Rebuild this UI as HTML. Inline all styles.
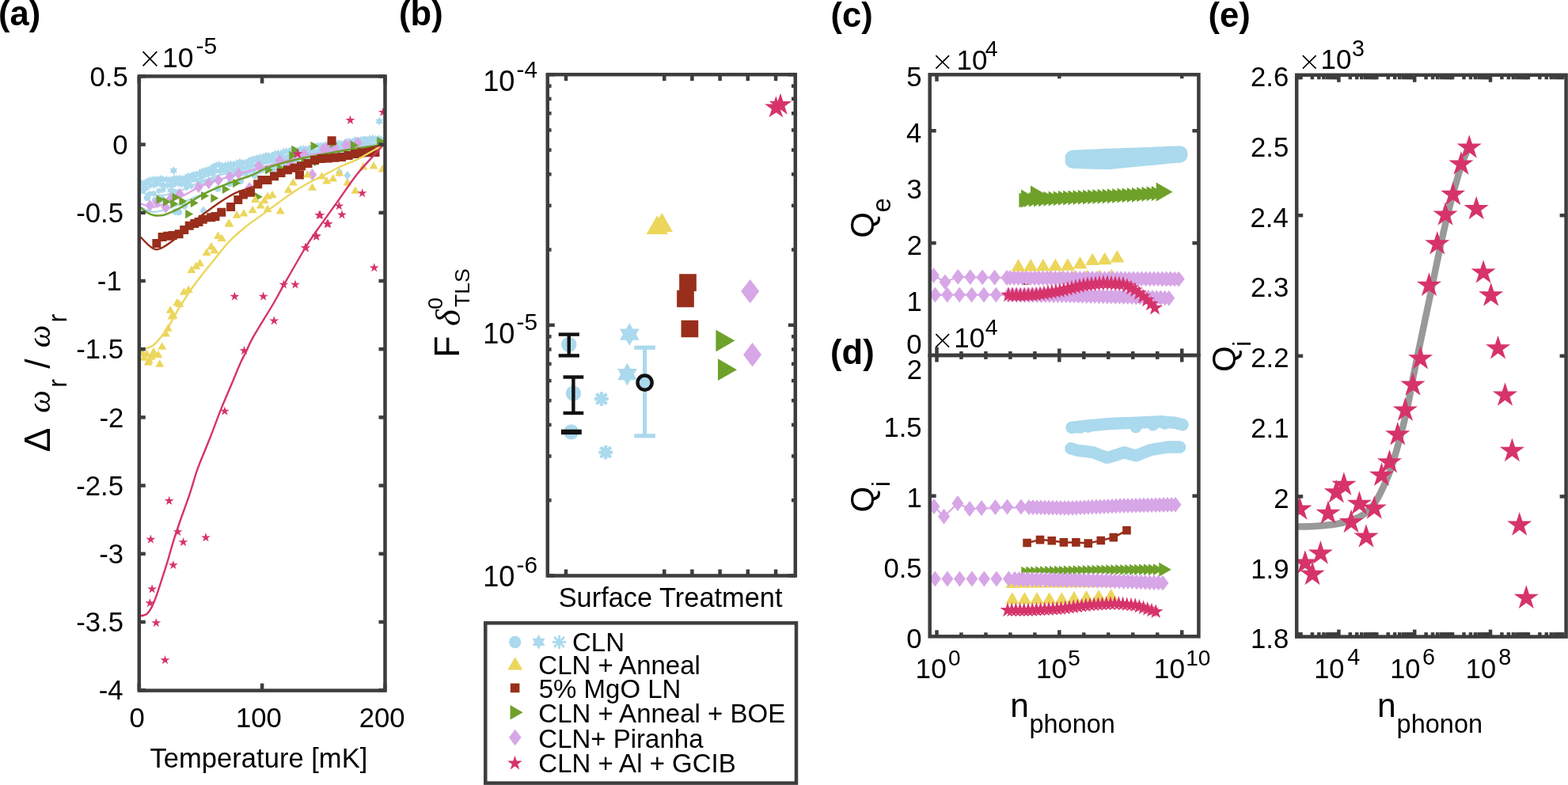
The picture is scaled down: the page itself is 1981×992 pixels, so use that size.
<!DOCTYPE html>
<html><head><meta charset="utf-8"><title>Figure</title>
<style>html,body{margin:0;padding:0;background:#fff;overflow:hidden;}svg{display:block;}</style></head>
<body><svg width="1981" height="992" viewBox="0 0 1981 992" font-family="'Liberation Sans', Arial, Helvetica, sans-serif">
<rect width="1981" height="992" fill="#fff"/>
<defs>
<clipPath id="clipA"><rect x="175.8" y="96.4" width="310.7" height="776.2"/></clipPath>
<clipPath id="clipC"><rect x="1174.7" y="94.3" width="339.7" height="354.7"/></clipPath>
<clipPath id="clipD"><rect x="1174.7" y="449" width="339.7" height="355.3"/></clipPath>
<clipPath id="clipE"><rect x="1638.2" y="94.8" width="340.4" height="709.8"/></clipPath>
</defs>
<g clip-path="url(#clipA)">
<path d="M179,226.52 L180.51,229.13 L183.52,229.13 L182.01,231.74 L183.52,234.36 L180.51,234.35 L179,236.97 L177.49,234.35 L174.48,234.36 L175.99,231.74 L174.48,229.13 L177.49,229.13ZM182.18,226.24 L183.69,228.86 L186.71,228.86 L185.2,231.47 L186.71,234.08 L183.69,234.08 L182.18,236.69 L180.67,234.08 L177.66,234.08 L179.17,231.47 L177.66,228.86 L180.67,228.86ZM185.27,224.94 L186.78,227.55 L189.79,227.55 L188.28,230.16 L189.79,232.78 L186.78,232.77 L185.27,235.39 L183.76,232.77 L180.74,232.78 L182.25,230.16 L180.74,227.55 L183.76,227.55ZM188.71,222.65 L190.21,225.26 L193.23,225.26 L191.72,227.87 L193.23,230.48 L190.21,230.48 L188.71,233.1 L187.2,230.48 L184.18,230.48 L185.69,227.87 L184.18,225.26 L187.2,225.26ZM192.32,221.86 L193.82,224.47 L196.84,224.47 L195.33,227.08 L196.84,229.69 L193.82,229.69 L192.32,232.31 L190.81,229.69 L187.79,229.69 L189.3,227.08 L187.79,224.47 L190.81,224.47ZM195.84,221.46 L197.34,224.08 L200.36,224.08 L198.85,226.69 L200.36,229.3 L197.34,229.3 L195.84,231.91 L194.33,229.3 L191.31,229.3 L192.82,226.69 L191.31,224.08 L194.33,224.08ZM198.94,221.9 L200.45,224.52 L203.47,224.51 L201.96,227.13 L203.47,229.74 L200.45,229.74 L198.94,232.35 L197.44,229.74 L194.42,229.74 L195.93,227.13 L194.42,224.51 L197.44,224.52ZM202.94,220.65 L204.44,223.26 L207.46,223.26 L205.95,225.87 L207.46,228.48 L204.44,228.48 L202.94,231.1 L201.43,228.48 L198.41,228.48 L199.92,225.87 L198.41,223.26 L201.43,223.26ZM206.21,221.57 L207.71,224.18 L210.73,224.18 L209.22,226.79 L210.73,229.4 L207.71,229.4 L206.21,232.02 L204.7,229.4 L201.68,229.4 L203.19,226.79 L201.68,224.18 L204.7,224.18ZM210.34,221.4 L211.85,224.01 L214.87,224.01 L213.36,226.62 L214.87,229.23 L211.85,229.23 L210.34,231.85 L208.83,229.23 L205.82,229.23 L207.33,226.62 L205.82,224.01 L208.83,224.01ZM213.82,222.31 L215.33,224.93 L218.34,224.92 L216.83,227.54 L218.34,230.15 L215.33,230.15 L213.82,232.76 L212.31,230.15 L209.29,230.15 L210.8,227.54 L209.29,224.92 L212.31,224.93ZM216.87,221.99 L218.38,224.61 L221.4,224.61 L219.89,227.22 L221.4,229.83 L218.38,229.83 L216.87,232.44 L215.37,229.83 L212.35,229.83 L213.86,227.22 L212.35,224.61 L215.37,224.61ZM220.22,220.24 L221.73,222.85 L224.75,222.85 L223.24,225.46 L224.75,228.08 L221.73,228.07 L220.22,230.69 L218.71,228.07 L215.7,228.08 L217.21,225.46 L215.7,222.85 L218.71,222.85ZM223.36,220.59 L224.87,223.21 L227.89,223.21 L226.38,225.82 L227.89,228.43 L224.87,228.43 L223.36,231.04 L221.86,228.43 L218.84,228.43 L220.35,225.82 L218.84,223.21 L221.86,223.21ZM227.34,220.24 L228.85,222.85 L231.87,222.85 L230.36,225.47 L231.87,228.08 L228.85,228.08 L227.34,230.69 L225.84,228.08 L222.82,228.08 L224.33,225.47 L222.82,222.85 L225.84,222.85ZM231.04,220.96 L232.55,223.57 L235.57,223.57 L234.06,226.18 L235.57,228.8 L232.55,228.8 L231.04,231.41 L229.53,228.8 L226.52,228.8 L228.03,226.18 L226.52,223.57 L229.53,223.57ZM234.49,219.59 L235.99,222.2 L239.01,222.2 L237.5,224.81 L239.01,227.42 L235.99,227.42 L234.49,230.04 L232.98,227.42 L229.96,227.42 L231.47,224.81 L229.96,222.2 L232.98,222.2ZM237.56,217.38 L239.07,220 L242.09,220 L240.58,222.61 L242.09,225.22 L239.07,225.22 L237.56,227.83 L236.06,225.22 L233.04,225.22 L234.55,222.61 L233.04,220 L236.06,220ZM240.81,217.79 L242.32,220.4 L245.33,220.4 L243.82,223.01 L245.33,225.62 L242.32,225.62 L240.81,228.24 L239.3,225.62 L236.28,225.62 L237.79,223.01 L236.28,220.4 L239.3,220.4ZM244.32,215.73 L245.83,218.34 L248.85,218.34 L247.34,220.96 L248.85,223.57 L245.83,223.57 L244.32,226.18 L242.82,223.57 L239.8,223.57 L241.31,220.96 L239.8,218.34 L242.82,218.34ZM248.03,214.82 L249.53,217.44 L252.55,217.44 L251.04,220.05 L252.55,222.66 L249.53,222.66 L248.03,225.27 L246.52,222.66 L243.5,222.66 L245.01,220.05 L243.5,217.44 L246.52,217.44ZM251.39,214.38 L252.89,217 L255.91,217 L254.4,219.61 L255.91,222.22 L252.89,222.22 L251.39,224.83 L249.88,222.22 L246.86,222.22 L248.37,219.61 L246.86,217 L249.88,217ZM255.22,211.41 L256.73,214.02 L259.75,214.02 L258.24,216.63 L259.75,219.24 L256.73,219.24 L255.22,221.86 L253.72,219.24 L250.7,219.24 L252.21,216.63 L250.7,214.02 L253.72,214.02ZM258.91,210.49 L260.42,213.1 L263.44,213.1 L261.93,215.71 L263.44,218.32 L260.42,218.32 L258.91,220.94 L257.41,218.32 L254.39,218.32 L255.9,215.71 L254.39,213.1 L257.41,213.1ZM262.96,209.23 L264.47,211.84 L267.49,211.84 L265.98,214.45 L267.49,217.07 L264.47,217.06 L262.96,219.68 L261.46,217.06 L258.44,217.07 L259.95,214.45 L258.44,211.84 L261.46,211.84ZM266.31,208.38 L267.82,211 L270.83,211 L269.32,213.61 L270.83,216.22 L267.82,216.22 L266.31,218.83 L264.8,216.22 L261.78,216.22 L263.29,213.61 L261.78,211 L264.8,211ZM269.45,205.68 L270.96,208.29 L273.98,208.29 L272.47,210.9 L273.98,213.52 L270.96,213.52 L269.45,216.13 L267.94,213.52 L264.93,213.52 L266.44,210.9 L264.93,208.29 L267.94,208.29ZM273.36,203.75 L274.87,206.37 L277.88,206.36 L276.37,208.98 L277.88,211.59 L274.87,211.59 L273.36,214.2 L271.85,211.59 L268.83,211.59 L270.34,208.98 L268.83,206.36 L271.85,206.37ZM276.95,202.98 L278.45,205.6 L281.47,205.59 L279.96,208.21 L281.47,210.82 L278.45,210.82 L276.95,213.43 L275.44,210.82 L272.42,210.82 L273.93,208.21 L272.42,205.59 L275.44,205.6ZM280.75,204.19 L282.26,206.81 L285.27,206.81 L283.76,209.42 L285.27,212.03 L282.26,212.03 L280.75,214.64 L279.24,212.03 L276.22,212.03 L277.73,209.42 L276.22,206.81 L279.24,206.81ZM284.44,203.95 L285.94,206.56 L288.96,206.56 L287.45,209.17 L288.96,211.79 L285.94,211.78 L284.44,214.4 L282.93,211.78 L279.91,211.79 L281.42,209.17 L279.91,206.56 L282.93,206.56ZM287.81,203.05 L289.32,205.66 L292.34,205.66 L290.83,208.27 L292.34,210.89 L289.32,210.88 L287.81,213.5 L286.3,210.88 L283.29,210.89 L284.8,208.27 L283.29,205.66 L286.3,205.66ZM291.53,202.28 L293.03,204.89 L296.05,204.89 L294.54,207.5 L296.05,210.11 L293.03,210.11 L291.53,212.73 L290.02,210.11 L287,210.11 L288.51,207.5 L287,204.89 L290.02,204.89ZM295.07,202.46 L296.58,205.07 L299.6,205.07 L298.09,207.68 L299.6,210.29 L296.58,210.29 L295.07,212.91 L293.57,210.29 L290.55,210.29 L292.06,207.68 L290.55,205.07 L293.57,205.07ZM299.21,201.06 L300.71,203.68 L303.73,203.67 L302.22,206.29 L303.73,208.9 L300.71,208.9 L299.21,211.51 L297.7,208.9 L294.68,208.9 L296.19,206.29 L294.68,203.67 L297.7,203.68ZM303,199.6 L304.51,202.21 L307.53,202.21 L306.02,204.82 L307.53,207.43 L304.51,207.43 L303,210.05 L301.5,207.43 L298.48,207.43 L299.99,204.82 L298.48,202.21 L301.5,202.21ZM306.85,200.52 L308.35,203.14 L311.37,203.13 L309.86,205.75 L311.37,208.36 L308.35,208.36 L306.85,210.97 L305.34,208.36 L302.32,208.36 L303.83,205.75 L302.32,203.13 L305.34,203.14ZM311.04,200.26 L312.54,202.87 L315.56,202.87 L314.05,205.48 L315.56,208.09 L312.54,208.09 L311.04,210.71 L309.53,208.09 L306.51,208.09 L308.02,205.48 L306.51,202.87 L309.53,202.87ZM314.38,198.27 L315.89,200.89 L318.9,200.89 L317.39,203.5 L318.9,206.11 L315.89,206.11 L314.38,208.72 L312.87,206.11 L309.85,206.11 L311.36,203.5 L309.85,200.89 L312.87,200.89ZM318.18,196.34 L319.69,198.95 L322.71,198.95 L321.2,201.56 L322.71,204.18 L319.69,204.17 L318.18,206.79 L316.67,204.17 L313.66,204.18 L315.17,201.56 L313.66,198.95 L316.67,198.95ZM321.73,195.69 L323.24,198.31 L326.26,198.31 L324.75,200.92 L326.26,203.53 L323.24,203.53 L321.73,206.14 L320.23,203.53 L317.21,203.53 L318.72,200.92 L317.21,198.31 L320.23,198.31ZM324.88,194.55 L326.38,197.17 L329.4,197.16 L327.89,199.78 L329.4,202.39 L326.38,202.39 L324.88,205 L323.37,202.39 L320.35,202.39 L321.86,199.78 L320.35,197.16 L323.37,197.17ZM328.8,193.62 L330.3,196.24 L333.32,196.23 L331.81,198.85 L333.32,201.46 L330.3,201.46 L328.8,204.07 L327.29,201.46 L324.27,201.46 L325.78,198.85 L324.27,196.23 L327.29,196.24ZM332.09,193.33 L333.6,195.94 L336.62,195.94 L335.11,198.55 L336.62,201.16 L333.6,201.16 L332.09,203.78 L330.59,201.16 L327.57,201.16 L329.08,198.55 L327.57,195.94 L330.59,195.94ZM336.14,191.5 L337.65,194.11 L340.66,194.11 L339.15,196.72 L340.66,199.33 L337.65,199.33 L336.14,201.95 L334.63,199.33 L331.61,199.33 L333.13,196.72 L331.61,194.11 L334.63,194.11ZM339.68,191.78 L341.19,194.39 L344.2,194.39 L342.69,197 L344.2,199.62 L341.19,199.62 L339.68,202.23 L338.17,199.62 L335.15,199.62 L336.66,197 L335.15,194.39 L338.17,194.39ZM343.74,191.46 L345.25,194.07 L348.26,194.07 L346.75,196.69 L348.26,199.3 L345.25,199.3 L343.74,201.91 L342.23,199.3 L339.21,199.3 L340.72,196.69 L339.21,194.07 L342.23,194.07ZM347.78,189.2 L349.28,191.82 L352.3,191.81 L350.79,194.43 L352.3,197.04 L349.28,197.04 L347.78,199.65 L346.27,197.04 L343.25,197.04 L344.76,194.43 L343.25,191.81 L346.27,191.82ZM351.27,188.56 L352.78,191.18 L355.8,191.17 L354.29,193.79 L355.8,196.4 L352.78,196.4 L351.27,199.01 L349.77,196.4 L346.75,196.4 L348.26,193.79 L346.75,191.17 L349.77,191.18ZM355.34,189.03 L356.84,191.65 L359.86,191.64 L358.35,194.26 L359.86,196.87 L356.84,196.87 L355.34,199.48 L353.83,196.87 L350.81,196.87 L352.32,194.26 L350.81,191.64 L353.83,191.65ZM358.52,186.51 L360.02,189.13 L363.04,189.13 L361.53,191.74 L363.04,194.35 L360.02,194.35 L358.52,196.96 L357.01,194.35 L353.99,194.35 L355.5,191.74 L353.99,189.13 L357.01,189.13ZM361.79,186.02 L363.3,188.63 L366.32,188.63 L364.81,191.25 L366.32,193.86 L363.3,193.86 L361.79,196.47 L360.29,193.86 L357.27,193.86 L358.78,191.25 L357.27,188.63 L360.29,188.63ZM365.38,186.19 L366.88,188.8 L369.9,188.8 L368.39,191.41 L369.9,194.02 L366.88,194.02 L365.38,196.64 L363.87,194.02 L360.85,194.02 L362.36,191.41 L360.85,188.8 L363.87,188.8ZM368.69,184.14 L370.2,186.76 L373.22,186.76 L371.71,189.37 L373.22,191.98 L370.2,191.98 L368.69,194.59 L367.18,191.98 L364.17,191.98 L365.68,189.37 L364.17,186.76 L367.18,186.76ZM372.19,184.35 L373.7,186.96 L376.72,186.96 L375.21,189.57 L376.72,192.18 L373.7,192.18 L372.19,194.8 L370.69,192.18 L367.67,192.18 L369.18,189.57 L367.67,186.96 L370.69,186.96ZM375.87,185.04 L377.38,187.65 L380.4,187.65 L378.89,190.27 L380.4,192.88 L377.38,192.88 L375.87,195.49 L374.37,192.88 L371.35,192.88 L372.86,190.27 L371.35,187.65 L374.37,187.65ZM379.7,183.25 L381.21,185.87 L384.23,185.87 L382.72,188.48 L384.23,191.09 L381.21,191.09 L379.7,193.7 L378.2,191.09 L375.18,191.09 L376.69,188.48 L375.18,185.87 L378.2,185.87ZM383.44,183.01 L384.95,185.62 L387.97,185.62 L386.46,188.24 L387.97,190.85 L384.95,190.85 L383.44,193.46 L381.94,190.85 L378.92,190.85 L380.43,188.24 L378.92,185.62 L381.94,185.62ZM386.51,183.15 L388.02,185.76 L391.03,185.76 L389.52,188.37 L391.03,190.99 L388.02,190.99 L386.51,193.6 L385,190.99 L381.98,190.99 L383.49,188.37 L381.98,185.76 L385,185.76ZM390.44,182.58 L391.95,185.19 L394.97,185.19 L393.46,187.8 L394.97,190.42 L391.95,190.42 L390.44,193.03 L388.94,190.42 L385.92,190.42 L387.43,187.8 L385.92,185.19 L388.94,185.19ZM394.4,180.91 L395.91,183.52 L398.93,183.52 L397.42,186.13 L398.93,188.75 L395.91,188.74 L394.4,191.36 L392.89,188.74 L389.88,188.75 L391.39,186.13 L389.88,183.52 L392.89,183.52ZM397.88,179.76 L399.39,182.38 L402.41,182.38 L400.9,184.99 L402.41,187.6 L399.39,187.6 L397.88,190.21 L396.37,187.6 L393.36,187.6 L394.87,184.99 L393.36,182.38 L396.37,182.38ZM401.64,179.18 L403.15,181.79 L406.17,181.79 L404.66,184.4 L406.17,187.02 L403.15,187.01 L401.64,189.63 L400.13,187.01 L397.12,187.02 L398.63,184.4 L397.12,181.79 L400.13,181.79ZM404.72,179.13 L406.23,181.74 L409.25,181.74 L407.74,184.36 L409.25,186.97 L406.23,186.97 L404.72,189.58 L403.22,186.97 L400.2,186.97 L401.71,184.36 L400.2,181.74 L403.22,181.74ZM407.92,179.03 L409.43,181.65 L412.44,181.64 L410.93,184.26 L412.44,186.87 L409.43,186.87 L407.92,189.48 L406.41,186.87 L403.39,186.87 L404.9,184.26 L403.39,181.64 L406.41,181.65ZM410.98,177.77 L412.49,180.38 L415.51,180.38 L414,183 L415.51,185.61 L412.49,185.61 L410.98,188.22 L409.47,185.61 L406.46,185.61 L407.97,183 L406.46,180.38 L409.47,180.38ZM414.16,177.52 L415.67,180.14 L418.69,180.14 L417.18,182.75 L418.69,185.36 L415.67,185.36 L414.16,187.97 L412.65,185.36 L409.64,185.36 L411.15,182.75 L409.64,180.14 L412.65,180.14ZM417.6,176.81 L419.11,179.43 L422.12,179.43 L420.61,182.04 L422.12,184.65 L419.11,184.65 L417.6,187.26 L416.09,184.65 L413.07,184.65 L414.58,182.04 L413.07,179.43 L416.09,179.43ZM421.65,177.6 L423.16,180.22 L426.17,180.22 L424.66,182.83 L426.17,185.44 L423.16,185.44 L421.65,188.05 L420.14,185.44 L417.12,185.44 L418.63,182.83 L417.12,180.22 L420.14,180.22ZM424.83,176.25 L426.33,178.86 L429.35,178.86 L427.84,181.47 L429.35,184.08 L426.33,184.08 L424.83,186.7 L423.32,184.08 L420.3,184.08 L421.81,181.47 L420.3,178.86 L423.32,178.86ZM428.24,175.99 L429.75,178.6 L432.77,178.6 L431.26,181.21 L432.77,183.83 L429.75,183.82 L428.24,186.44 L426.74,183.82 L423.72,183.83 L425.23,181.21 L423.72,178.6 L426.74,178.6ZM431.39,176.67 L432.9,179.28 L435.92,179.28 L434.41,181.89 L435.92,184.51 L432.9,184.5 L431.39,187.12 L429.88,184.5 L426.87,184.51 L428.38,181.89 L426.87,179.28 L429.88,179.28ZM435.58,175.09 L437.09,177.71 L440.11,177.71 L438.6,180.32 L440.11,182.93 L437.09,182.93 L435.58,185.54 L434.07,182.93 L431.06,182.93 L432.57,180.32 L431.06,177.71 L434.07,177.71ZM439.16,173.56 L440.67,176.17 L443.69,176.17 L442.18,178.79 L443.69,181.4 L440.67,181.4 L439.16,184.01 L437.66,181.4 L434.64,181.4 L436.15,178.79 L434.64,176.17 L437.66,176.17ZM442.29,173.64 L443.79,176.25 L446.81,176.25 L445.3,178.86 L446.81,181.47 L443.79,181.47 L442.29,184.09 L440.78,181.47 L437.76,181.47 L439.27,178.86 L437.76,176.25 L440.78,176.25ZM445.6,174.23 L447.11,176.84 L450.13,176.84 L448.62,179.45 L450.13,182.07 L447.11,182.07 L445.6,184.68 L444.1,182.07 L441.08,182.07 L442.59,179.45 L441.08,176.84 L444.1,176.84ZM448.8,171.74 L450.3,174.36 L453.32,174.36 L451.81,176.97 L453.32,179.58 L450.3,179.58 L448.8,182.19 L447.29,179.58 L444.27,179.58 L445.78,176.97 L444.27,174.36 L447.29,174.36ZM452.94,172.24 L454.45,174.85 L457.46,174.85 L455.95,177.46 L457.46,180.08 L454.45,180.07 L452.94,182.69 L451.43,180.07 L448.41,180.08 L449.92,177.46 L448.41,174.85 L451.43,174.85ZM456.11,171.72 L457.62,174.34 L460.64,174.34 L459.13,176.95 L460.64,179.56 L457.62,179.56 L456.11,182.17 L454.61,179.56 L451.59,179.56 L453.1,176.95 L451.59,174.34 L454.61,174.34ZM459.15,171.16 L460.65,173.78 L463.67,173.78 L462.16,176.39 L463.67,179 L460.65,179 L459.15,181.61 L457.64,179 L454.62,179 L456.13,176.39 L454.62,173.78 L457.64,173.78ZM463.32,171.59 L464.83,174.21 L467.85,174.21 L466.34,176.82 L467.85,179.43 L464.83,179.43 L463.32,182.04 L461.81,179.43 L458.8,179.43 L460.31,176.82 L458.8,174.21 L461.81,174.21ZM467.16,170.06 L468.66,172.68 L471.68,172.67 L470.17,175.29 L471.68,177.9 L468.66,177.9 L467.16,180.51 L465.65,177.9 L462.63,177.9 L464.14,175.29 L462.63,172.67 L465.65,172.68ZM470.6,169.76 L472.1,172.37 L475.12,172.37 L473.61,174.98 L475.12,177.6 L472.1,177.59 L470.6,180.21 L469.09,177.59 L466.07,177.6 L467.58,174.98 L466.07,172.37 L469.09,172.37ZM474.52,170.55 L476.03,173.16 L479.05,173.16 L477.54,175.77 L479.05,178.38 L476.03,178.38 L474.52,181 L473.01,178.38 L470,178.38 L471.51,175.77 L470,173.16 L473.01,173.16ZM478.46,169.97 L479.96,172.58 L482.98,172.58 L481.47,175.19 L482.98,177.81 L479.96,177.81 L478.46,180.42 L476.95,177.81 L473.93,177.81 L475.44,175.19 L473.93,172.58 L476.95,172.58ZM481.72,171.05 L483.23,173.67 L486.25,173.66 L484.74,176.28 L486.25,178.89 L483.23,178.89 L481.72,181.5 L480.22,178.89 L477.2,178.89 L478.71,176.28 L477.2,173.66 L480.22,173.67Z" fill="#abd9ed"/>
<path d="M180,234.44 L181.43,236.92 L184.29,236.92 L182.86,239.39 L184.29,241.87 L181.43,241.86 L180,244.34 L178.57,241.86 L175.71,241.87 L177.14,239.39 L175.71,236.92 L178.57,236.92ZM185.11,232.63 L186.54,235.11 L189.4,235.11 L187.97,237.58 L189.4,240.06 L186.54,240.06 L185.11,242.53 L183.68,240.06 L180.83,240.06 L182.26,237.58 L180.83,235.11 L183.68,235.11ZM190.09,229.22 L191.52,231.69 L194.38,231.69 L192.95,234.17 L194.38,236.64 L191.52,236.64 L190.09,239.12 L188.66,236.64 L185.81,236.64 L187.24,234.17 L185.81,231.69 L188.66,231.69ZM194.63,229 L196.06,231.48 L198.91,231.47 L197.48,233.95 L198.91,236.42 L196.06,236.42 L194.63,238.9 L193.2,236.42 L190.34,236.42 L191.77,233.95 L190.34,231.47 L193.2,231.48ZM198.19,227.54 L199.61,230.02 L202.47,230.02 L201.04,232.49 L202.47,234.97 L199.61,234.97 L198.19,237.44 L196.76,234.97 L193.9,234.97 L195.33,232.49 L193.9,230.02 L196.76,230.02ZM202.24,227.69 L203.67,230.17 L206.53,230.17 L205.1,232.64 L206.53,235.12 L203.67,235.12 L202.24,237.59 L200.82,235.12 L197.96,235.12 L199.39,232.64 L197.96,230.17 L200.82,230.17ZM207.13,229.39 L208.56,231.87 L211.42,231.87 L209.99,234.34 L211.42,236.82 L208.56,236.82 L207.13,239.29 L205.7,236.82 L202.84,236.82 L204.27,234.34 L202.84,231.87 L205.7,231.87ZM211.52,229.28 L212.95,231.76 L215.81,231.76 L214.38,234.23 L215.81,236.71 L212.95,236.71 L211.52,239.18 L210.1,236.71 L207.24,236.71 L208.67,234.23 L207.24,231.76 L210.1,231.76ZM217,229.27 L218.43,231.75 L221.29,231.75 L219.86,234.22 L221.29,236.7 L218.43,236.69 L217,239.17 L215.57,236.69 L212.71,236.7 L214.14,234.22 L212.71,231.75 L215.57,231.75ZM221.23,227.02 L222.66,229.49 L225.52,229.49 L224.08,231.97 L225.52,234.44 L222.66,234.44 L221.23,236.92 L219.8,234.44 L216.94,234.44 L218.37,231.97 L216.94,229.49 L219.8,229.49ZM225.18,226.9 L226.61,229.37 L229.47,229.37 L228.04,231.85 L229.47,234.32 L226.61,234.32 L225.18,236.8 L223.75,234.32 L220.9,234.32 L222.33,231.85 L220.9,229.37 L223.75,229.37ZM229.09,228.13 L230.52,230.61 L233.38,230.61 L231.95,233.08 L233.38,235.56 L230.52,235.56 L229.09,238.03 L227.66,235.56 L224.8,235.56 L226.24,233.08 L224.8,230.61 L227.66,230.61ZM234.39,227.3 L235.82,229.78 L238.68,229.78 L237.25,232.25 L238.68,234.73 L235.82,234.72 L234.39,237.2 L232.96,234.72 L230.11,234.73 L231.54,232.25 L230.11,229.78 L232.96,229.78ZM238.85,225.24 L240.28,227.72 L243.14,227.72 L241.71,230.19 L243.14,232.67 L240.28,232.67 L238.85,235.14 L237.42,232.67 L234.56,232.67 L235.99,230.19 L234.56,227.72 L237.42,227.72ZM243.95,221.83 L245.38,224.31 L248.24,224.31 L246.81,226.78 L248.24,229.26 L245.38,229.25 L243.95,231.73 L242.52,229.25 L239.66,229.26 L241.09,226.78 L239.66,224.31 L242.52,224.31ZM248.77,222.69 L250.2,225.17 L253.06,225.17 L251.63,227.64 L253.06,230.12 L250.2,230.11 L248.77,232.59 L247.34,230.11 L244.48,230.12 L245.92,227.64 L244.48,225.17 L247.34,225.17ZM253.84,220.14 L255.26,222.62 L258.12,222.62 L256.69,225.09 L258.12,227.57 L255.26,227.57 L253.84,230.04 L252.41,227.57 L249.55,227.57 L250.98,225.09 L249.55,222.62 L252.41,222.62ZM258.29,216.5 L259.72,218.98 L262.58,218.98 L261.15,221.45 L262.58,223.93 L259.72,223.93 L258.29,226.4 L256.86,223.93 L254.01,223.93 L255.44,221.45 L254.01,218.98 L256.86,218.98ZM263.37,214.77 L264.8,217.25 L267.66,217.25 L266.23,219.72 L267.66,222.2 L264.8,222.2 L263.37,224.67 L261.94,222.2 L259.08,222.2 L260.51,219.72 L259.08,217.25 L261.94,217.25ZM268.47,214.49 L269.9,216.96 L272.76,216.96 L271.33,219.44 L272.76,221.91 L269.9,221.91 L268.47,224.39 L267.04,221.91 L264.19,221.91 L265.62,219.44 L264.19,216.96 L267.04,216.96ZM272.76,211.15 L274.19,213.62 L277.05,213.62 L275.62,216.1 L277.05,218.57 L274.19,218.57 L272.76,221.05 L271.34,218.57 L268.48,218.57 L269.91,216.1 L268.48,213.62 L271.34,213.62ZM278.16,211.37 L279.59,213.85 L282.44,213.84 L281.01,216.32 L282.44,218.79 L279.59,218.79 L278.16,221.27 L276.73,218.79 L273.87,218.79 L275.3,216.32 L273.87,213.84 L276.73,213.85ZM282,209.04 L283.43,211.52 L286.28,211.52 L284.85,213.99 L286.28,216.47 L283.43,216.47 L282,218.94 L280.57,216.47 L277.71,216.47 L279.14,213.99 L277.71,211.52 L280.57,211.52ZM285.8,210.85 L287.23,213.32 L290.09,213.32 L288.66,215.8 L290.09,218.27 L287.23,218.27 L285.8,220.75 L284.37,218.27 L281.51,218.27 L282.94,215.8 L281.51,213.32 L284.37,213.32ZM290.91,207.87 L292.34,210.35 L295.2,210.35 L293.77,212.82 L295.2,215.3 L292.34,215.3 L290.91,217.77 L289.48,215.3 L286.63,215.3 L288.06,212.82 L286.63,210.35 L289.48,210.35ZM296.07,209.73 L297.49,212.21 L300.35,212.21 L298.92,214.68 L300.35,217.16 L297.49,217.16 L296.07,219.63 L294.64,217.16 L291.78,217.16 L293.21,214.68 L291.78,212.21 L294.64,212.21ZM300.88,207.24 L302.31,209.72 L305.17,209.72 L303.74,212.19 L305.17,214.67 L302.31,214.66 L300.88,217.14 L299.45,214.66 L296.59,214.67 L298.02,212.19 L296.59,209.72 L299.45,209.72ZM305.48,206.01 L306.91,208.48 L309.76,208.48 L308.33,210.96 L309.76,213.43 L306.91,213.43 L305.48,215.91 L304.05,213.43 L301.19,213.43 L302.62,210.96 L301.19,208.48 L304.05,208.48ZM309.01,208.09 L310.43,210.56 L313.29,210.56 L311.86,213.04 L313.29,215.51 L310.43,215.51 L309.01,217.99 L307.58,215.51 L304.72,215.51 L306.15,213.04 L304.72,210.56 L307.58,210.56ZM313.81,205.56 L315.23,208.04 L318.09,208.04 L316.66,210.51 L318.09,212.99 L315.23,212.99 L313.81,215.46 L312.38,212.99 L309.52,212.99 L310.95,210.51 L309.52,208.04 L312.38,208.04ZM319.17,203.78 L320.6,206.26 L323.46,206.26 L322.03,208.73 L323.46,211.21 L320.6,211.21 L319.17,213.68 L317.74,211.21 L314.89,211.21 L316.32,208.73 L314.89,206.26 L317.74,206.26ZM324.42,203.49 L325.84,205.97 L328.7,205.97 L327.27,208.44 L328.7,210.92 L325.84,210.92 L324.42,213.39 L322.99,210.92 L320.13,210.92 L321.56,208.44 L320.13,205.97 L322.99,205.97ZM328.34,200.67 L329.77,203.15 L332.62,203.15 L331.19,205.62 L332.62,208.1 L329.77,208.09 L328.34,210.57 L326.91,208.09 L324.05,208.1 L325.48,205.62 L324.05,203.15 L326.91,203.15ZM332.42,199.49 L333.85,201.97 L336.71,201.97 L335.28,204.44 L336.71,206.92 L333.85,206.92 L332.42,209.39 L331,206.92 L328.14,206.92 L329.57,204.44 L328.14,201.97 L331,201.97ZM337.1,198.33 L338.52,200.81 L341.38,200.8 L339.95,203.28 L341.38,205.75 L338.52,205.75 L337.1,208.23 L335.67,205.75 L332.81,205.75 L334.24,203.28 L332.81,200.8 L335.67,200.81ZM341.43,196.91 L342.86,199.39 L345.72,199.39 L344.29,201.86 L345.72,204.34 L342.86,204.33 L341.43,206.81 L340.01,204.33 L337.15,204.34 L338.58,201.86 L337.15,199.39 L340.01,199.39ZM346.75,196.31 L348.18,198.79 L351.04,198.79 L349.61,201.26 L351.04,203.74 L348.18,203.74 L346.75,206.21 L345.33,203.74 L342.47,203.74 L343.9,201.26 L342.47,198.79 L345.33,198.79ZM351.17,195.95 L352.6,198.43 L355.46,198.42 L354.03,200.9 L355.46,203.37 L352.6,203.37 L351.17,205.85 L349.74,203.37 L346.88,203.37 L348.32,200.9 L346.88,198.42 L349.74,198.43ZM356.48,194.22 L357.91,196.7 L360.77,196.69 L359.34,199.17 L360.77,201.64 L357.91,201.64 L356.48,204.12 L355.05,201.64 L352.19,201.64 L353.62,199.17 L352.19,196.69 L355.05,196.7ZM361.82,193.44 L363.24,195.91 L366.1,195.91 L364.67,198.39 L366.1,200.86 L363.24,200.86 L361.82,203.34 L360.39,200.86 L357.53,200.86 L358.96,198.39 L357.53,195.91 L360.39,195.91ZM366.38,192.62 L367.81,195.1 L370.67,195.1 L369.24,197.57 L370.67,200.05 L367.81,200.05 L366.38,202.52 L364.95,200.05 L362.09,200.05 L363.52,197.57 L362.09,195.1 L364.95,195.1ZM369.92,191.69 L371.34,194.17 L374.2,194.17 L372.77,196.64 L374.2,199.12 L371.34,199.12 L369.92,201.59 L368.49,199.12 L365.63,199.12 L367.06,196.64 L365.63,194.17 L368.49,194.17ZM373.78,189.64 L375.21,192.12 L378.07,192.12 L376.64,194.59 L378.07,197.07 L375.21,197.07 L373.78,199.54 L372.35,197.07 L369.5,197.07 L370.93,194.59 L369.5,192.12 L372.35,192.12ZM378.88,189.17 L380.31,191.64 L383.17,191.64 L381.74,194.12 L383.17,196.59 L380.31,196.59 L378.88,199.07 L377.45,196.59 L374.59,196.59 L376.02,194.12 L374.59,191.64 L377.45,191.64ZM383.33,190.05 L384.76,192.53 L387.61,192.53 L386.18,195 L387.61,197.48 L384.76,197.48 L383.33,199.95 L381.9,197.48 L379.04,197.48 L380.47,195 L379.04,192.53 L381.9,192.53ZM387.94,188.26 L389.37,190.73 L392.23,190.73 L390.8,193.21 L392.23,195.68 L389.37,195.68 L387.94,198.16 L386.51,195.68 L383.65,195.68 L385.08,193.21 L383.65,190.73 L386.51,190.73ZM392.48,188.36 L393.91,190.83 L396.76,190.83 L395.33,193.31 L396.76,195.78 L393.91,195.78 L392.48,198.26 L391.05,195.78 L388.19,195.78 L389.62,193.31 L388.19,190.83 L391.05,190.83ZM397.55,186.35 L398.97,188.83 L401.83,188.83 L400.4,191.3 L401.83,193.78 L398.97,193.78 L397.55,196.25 L396.12,193.78 L393.26,193.78 L394.69,191.3 L393.26,188.83 L396.12,188.83ZM402.17,186.18 L403.59,188.66 L406.45,188.66 L405.02,191.13 L406.45,193.61 L403.59,193.6 L402.17,196.08 L400.74,193.6 L397.88,193.61 L399.31,191.13 L397.88,188.66 L400.74,188.66ZM406.22,187.23 L407.65,189.7 L410.51,189.7 L409.08,192.18 L410.51,194.65 L407.65,194.65 L406.22,197.13 L404.79,194.65 L401.93,194.65 L403.36,192.18 L401.93,189.7 L404.79,189.7ZM410.74,185.97 L412.16,188.44 L415.02,188.44 L413.59,190.92 L415.02,193.39 L412.16,193.39 L410.74,195.87 L409.31,193.39 L406.45,193.39 L407.88,190.92 L406.45,188.44 L409.31,188.44ZM415.76,186.25 L417.18,188.72 L420.04,188.72 L418.61,191.2 L420.04,193.67 L417.18,193.67 L415.76,196.15 L414.33,193.67 L411.47,193.67 L412.9,191.2 L411.47,188.72 L414.33,188.72ZM420.14,184.67 L421.57,187.15 L424.43,187.15 L423,189.62 L424.43,192.1 L421.57,192.1 L420.14,194.57 L418.71,192.1 L415.86,192.1 L417.29,189.62 L415.86,187.15 L418.71,187.15ZM424.65,183.68 L426.08,186.15 L428.94,186.15 L427.51,188.63 L428.94,191.1 L426.08,191.1 L424.65,193.58 L423.23,191.1 L420.37,191.1 L421.8,188.63 L420.37,186.15 L423.23,186.15ZM429.54,182.75 L430.97,185.22 L433.83,185.22 L432.4,187.7 L433.83,190.17 L430.97,190.17 L429.54,192.65 L428.11,190.17 L425.25,190.17 L426.68,187.7 L425.25,185.22 L428.11,185.22ZM434.11,182.12 L435.53,184.6 L438.39,184.6 L436.96,187.07 L438.39,189.55 L435.53,189.55 L434.11,192.02 L432.68,189.55 L429.82,189.55 L431.25,187.07 L429.82,184.6 L432.68,184.6ZM439.49,181.87 L440.92,184.35 L443.78,184.35 L442.34,186.82 L443.78,189.3 L440.92,189.29 L439.49,191.77 L438.06,189.29 L435.2,189.3 L436.63,186.82 L435.2,184.35 L438.06,184.35ZM444.74,181.69 L446.17,184.17 L449.03,184.17 L447.6,186.64 L449.03,189.12 L446.17,189.11 L444.74,191.59 L443.31,189.11 L440.45,189.12 L441.89,186.64 L440.45,184.17 L443.31,184.17ZM448.76,179.85 L450.19,182.32 L453.05,182.32 L451.62,184.8 L453.05,187.27 L450.19,187.27 L448.76,189.75 L447.33,187.27 L444.47,187.27 L445.9,184.8 L444.47,182.32 L447.33,182.32ZM454.15,179.76 L455.58,182.23 L458.43,182.23 L457,184.71 L458.43,187.18 L455.58,187.18 L454.15,189.66 L452.72,187.18 L449.86,187.18 L451.29,184.71 L449.86,182.23 L452.72,182.23ZM457.92,176.95 L459.35,179.42 L462.21,179.42 L460.78,181.9 L462.21,184.37 L459.35,184.37 L457.92,186.85 L456.49,184.37 L453.63,184.37 L455.07,181.9 L453.63,179.42 L456.49,179.42ZM462.31,176.24 L463.73,178.71 L466.59,178.71 L465.16,181.19 L466.59,183.66 L463.73,183.66 L462.31,186.14 L460.88,183.66 L458.02,183.66 L459.45,181.19 L458.02,178.71 L460.88,178.71ZM466.29,176.15 L467.72,178.63 L470.57,178.62 L469.14,181.1 L470.57,183.57 L467.72,183.57 L466.29,186.05 L464.86,183.57 L462,183.57 L463.43,181.1 L462,178.62 L464.86,178.63ZM471.13,178.17 L472.55,180.65 L475.41,180.65 L473.98,183.12 L475.41,185.6 L472.55,185.6 L471.13,188.07 L469.7,185.6 L466.84,185.6 L468.27,183.12 L466.84,180.65 L469.7,180.65ZM476.42,176.16 L477.85,178.64 L480.71,178.64 L479.28,181.11 L480.71,183.59 L477.85,183.59 L476.42,186.06 L474.99,183.59 L472.13,183.59 L473.56,181.11 L472.13,178.64 L474.99,178.64ZM481.35,177.57 L482.78,180.04 L485.64,180.04 L484.21,182.52 L485.64,184.99 L482.78,184.99 L481.35,187.47 L479.92,184.99 L477.07,184.99 L478.5,182.52 L477.07,180.04 L479.92,180.04Z" fill="#abd9ed"/>
<path d="M188.9,240.5 L190.25,242.84 L192.95,242.84 L191.6,245.18 L192.95,247.51 L190.25,247.51 L188.9,249.85 L187.55,247.51 L184.85,247.51 L186.21,245.18 L184.85,242.84 L187.55,242.84ZM194.1,239.74 L195.45,242.08 L198.15,242.08 L196.79,244.41 L198.15,246.75 L195.45,246.75 L194.1,249.09 L192.75,246.75 L190.05,246.75 L191.4,244.41 L190.05,242.08 L192.75,242.08ZM200.59,236.64 L201.94,238.98 L204.64,238.98 L203.29,241.31 L204.64,243.65 L201.94,243.65 L200.59,245.99 L199.25,243.65 L196.55,243.65 L197.9,241.31 L196.55,238.98 L199.25,238.98ZM206.14,235.09 L207.49,237.43 L210.19,237.43 L208.84,239.77 L210.19,242.11 L207.49,242.11 L206.14,244.44 L204.79,242.11 L202.09,242.11 L203.44,239.77 L202.09,237.43 L204.79,237.43ZM215.16,235.96 L216.5,238.3 L219.2,238.3 L217.85,240.64 L219.2,242.98 L216.5,242.98 L215.16,245.31 L213.81,242.98 L211.11,242.98 L212.46,240.64 L211.11,238.3 L213.81,238.3ZM219.21,236.65 L220.56,238.99 L223.26,238.99 L221.91,241.33 L223.26,243.66 L220.56,243.66 L219.21,246 L217.86,243.66 L215.16,243.66 L216.51,241.33 L215.16,238.99 L217.86,238.99ZM224.75,238.03 L226.1,240.37 L228.8,240.37 L227.44,242.7 L228.8,245.04 L226.1,245.04 L224.75,247.38 L223.4,245.04 L220.7,245.04 L222.05,242.7 L220.7,240.37 L223.4,240.37ZM235.43,232.37 L236.77,234.7 L239.47,234.7 L238.12,237.04 L239.47,239.38 L236.77,239.38 L235.43,241.72 L234.08,239.38 L231.38,239.38 L232.73,237.04 L231.38,234.7 L234.08,234.7ZM241.76,230.6 L243.11,232.94 L245.81,232.94 L244.46,235.28 L245.81,237.62 L243.11,237.61 L241.76,239.95 L240.41,237.61 L237.71,237.62 L239.07,235.28 L237.71,232.94 L240.41,232.94ZM253.49,226.42 L254.84,228.76 L257.54,228.75 L256.18,231.09 L257.54,233.43 L254.84,233.43 L253.49,235.77 L252.14,233.43 L249.44,233.43 L250.79,231.09 L249.44,228.75 L252.14,228.76ZM260.24,225.7 L261.59,228.04 L264.29,228.04 L262.94,230.38 L264.29,232.72 L261.59,232.71 L260.24,235.05 L258.9,232.71 L256.2,232.72 L257.55,230.38 L256.2,228.04 L258.9,228.04ZM264.51,223.81 L265.86,226.15 L268.56,226.15 L267.21,228.49 L268.56,230.82 L265.86,230.82 L264.51,233.16 L263.16,230.82 L260.46,230.82 L261.82,228.49 L260.46,226.15 L263.16,226.15ZM269.79,222.53 L271.14,224.87 L273.84,224.87 L272.49,227.21 L273.84,229.55 L271.14,229.54 L269.79,231.88 L268.44,229.54 L265.74,229.55 L267.09,227.21 L265.74,224.87 L268.44,224.87ZM289.5,217.61 L290.85,219.95 L293.55,219.94 L292.2,222.28 L293.55,224.62 L290.85,224.62 L289.5,226.96 L288.16,224.62 L285.46,224.62 L286.81,222.28 L285.46,219.94 L288.16,219.95ZM296.28,215.06 L297.63,217.4 L300.33,217.39 L298.98,219.73 L300.33,222.07 L297.63,222.07 L296.28,224.41 L294.94,222.07 L292.24,222.07 L293.59,219.73 L292.24,217.39 L294.94,217.4ZM301.87,214.28 L303.21,216.62 L305.91,216.62 L304.56,218.95 L305.91,221.29 L303.21,221.29 L301.87,223.63 L300.52,221.29 L297.82,221.29 L299.17,218.95 L297.82,216.62 L300.52,216.62ZM306.35,214.09 L307.7,216.43 L310.4,216.43 L309.05,218.76 L310.4,221.1 L307.7,221.1 L306.35,223.44 L305,221.1 L302.3,221.1 L303.65,218.76 L302.3,216.43 L305,216.43ZM311.29,215.5 L312.63,217.84 L315.33,217.84 L313.98,220.18 L315.33,222.52 L312.63,222.51 L311.29,224.85 L309.94,222.51 L307.24,222.52 L308.59,220.18 L307.24,217.84 L309.94,217.84ZM316.16,211.81 L317.5,214.15 L320.2,214.15 L318.85,216.49 L320.2,218.83 L317.5,218.82 L316.16,221.16 L314.81,218.82 L312.11,218.83 L313.46,216.49 L312.11,214.15 L314.81,214.15ZM321.2,210.69 L322.55,213.03 L325.24,213.03 L323.89,215.37 L325.24,217.7 L322.55,217.7 L321.2,220.04 L319.85,217.7 L317.15,217.7 L318.5,215.37 L317.15,213.03 L319.85,213.03ZM330.9,208.87 L332.24,211.21 L334.94,211.21 L333.59,213.55 L334.94,215.89 L332.24,215.88 L330.9,218.22 L329.55,215.88 L326.85,215.89 L328.2,213.55 L326.85,211.21 L329.55,211.21ZM337.7,208.46 L339.05,210.8 L341.75,210.8 L340.4,213.13 L341.75,215.47 L339.05,215.47 L337.7,217.81 L336.35,215.47 L333.65,215.47 L335,213.13 L333.65,210.8 L336.35,210.8ZM343,207.26 L344.34,209.6 L347.04,209.6 L345.69,211.93 L347.04,214.27 L344.34,214.27 L343,216.61 L341.65,214.27 L338.95,214.27 L340.3,211.93 L338.95,209.6 L341.65,209.6ZM348.18,205.44 L349.52,207.78 L352.22,207.78 L350.87,210.11 L352.22,212.45 L349.52,212.45 L348.18,214.79 L346.83,212.45 L344.13,212.45 L345.48,210.11 L344.13,207.78 L346.83,207.78ZM355.12,204.36 L356.47,206.7 L359.17,206.7 L357.82,209.04 L359.17,211.38 L356.47,211.37 L355.12,213.71 L353.77,211.37 L351.07,211.38 L352.43,209.04 L351.07,206.7 L353.77,206.7ZM366.46,199.03 L367.81,201.37 L370.51,201.37 L369.15,203.71 L370.51,206.04 L367.81,206.04 L366.46,208.38 L365.11,206.04 L362.41,206.04 L363.76,203.71 L362.41,201.37 L365.11,201.37ZM370.85,200.93 L372.19,203.27 L374.89,203.27 L373.54,205.61 L374.89,207.95 L372.19,207.94 L370.85,210.28 L369.5,207.94 L366.8,207.95 L368.15,205.61 L366.8,203.27 L369.5,203.27ZM375.61,197.39 L376.96,199.73 L379.66,199.73 L378.31,202.07 L379.66,204.4 L376.96,204.4 L375.61,206.74 L374.26,204.4 L371.56,204.4 L372.92,202.07 L371.56,199.73 L374.26,199.73ZM388.15,196 L389.5,198.34 L392.2,198.33 L390.85,200.67 L392.2,203.01 L389.5,203.01 L388.15,205.35 L386.8,203.01 L384.1,203.01 L385.45,200.67 L384.1,198.33 L386.8,198.34ZM393.03,195.03 L394.38,197.36 L397.08,197.36 L395.73,199.7 L397.08,202.04 L394.38,202.04 L393.03,204.38 L391.68,202.04 L388.98,202.04 L390.33,199.7 L388.98,197.36 L391.68,197.36ZM398.37,197.55 L399.71,199.89 L402.41,199.89 L401.06,202.23 L402.41,204.56 L399.71,204.56 L398.37,206.9 L397.02,204.56 L394.32,204.56 L395.67,202.23 L394.32,199.89 L397.02,199.89ZM405.28,193.78 L406.63,196.12 L409.33,196.12 L407.98,198.46 L409.33,200.8 L406.63,200.8 L405.28,203.13 L403.93,200.8 L401.23,200.8 L402.59,198.46 L401.23,196.12 L403.93,196.12ZM412.18,193.26 L413.53,195.6 L416.23,195.6 L414.88,197.94 L416.23,200.27 L413.53,200.27 L412.18,202.61 L410.83,200.27 L408.13,200.27 L409.48,197.94 L408.13,195.6 L410.83,195.6ZM416.18,193.12 L417.53,195.46 L420.23,195.46 L418.88,197.79 L420.23,200.13 L417.53,200.13 L416.18,202.47 L414.83,200.13 L412.13,200.13 L413.49,197.79 L412.13,195.46 L414.83,195.46ZM421.69,192.39 L423.04,194.73 L425.74,194.73 L424.39,197.07 L425.74,199.4 L423.04,199.4 L421.69,201.74 L420.34,199.4 L417.64,199.4 L418.99,197.07 L417.64,194.73 L420.34,194.73ZM425.71,190.11 L427.06,192.45 L429.75,192.45 L428.4,194.79 L429.75,197.13 L427.06,197.12 L425.71,199.46 L424.36,197.12 L421.66,197.13 L423.01,194.79 L421.66,192.45 L424.36,192.45ZM430.9,189.04 L432.25,191.38 L434.95,191.38 L433.6,193.72 L434.95,196.06 L432.25,196.06 L430.9,198.39 L429.56,196.06 L426.86,196.06 L428.21,193.72 L426.86,191.38 L429.56,191.38ZM435.82,190.53 L437.17,192.86 L439.87,192.86 L438.52,195.2 L439.87,197.54 L437.17,197.54 L435.82,199.88 L434.47,197.54 L431.77,197.54 L433.12,195.2 L431.77,192.86 L434.47,192.86ZM454.02,186.34 L455.36,188.68 L458.06,188.68 L456.71,191.01 L458.06,193.35 L455.36,193.35 L454.02,195.69 L452.67,193.35 L449.97,193.35 L451.32,191.01 L449.97,188.68 L452.67,188.68ZM460.97,186.73 L462.32,189.07 L465.02,189.06 L463.67,191.4 L465.02,193.74 L462.32,193.74 L460.97,196.08 L459.62,193.74 L456.92,193.74 L458.27,191.4 L456.92,189.06 L459.62,189.07ZM466.9,187.03 L468.25,189.37 L470.95,189.37 L469.6,191.71 L470.95,194.04 L468.25,194.04 L466.9,196.38 L465.55,194.04 L462.85,194.04 L464.2,191.71 L462.85,189.37 L465.55,189.37Z" fill="#abd9ed"/>
<path d="M181.75,250 a4.25,4.25 0 1,0 8.5,0 a4.25,4.25 0 1,0 -8.5,0ZM191.75,253 a4.25,4.25 0 1,0 8.5,0 a4.25,4.25 0 1,0 -8.5,0ZM200.75,252 a4.25,4.25 0 1,0 8.5,0 a4.25,4.25 0 1,0 -8.5,0ZM217.35,267.6 a4.25,4.25 0 1,0 8.5,0 a4.25,4.25 0 1,0 -8.5,0ZM221.75,268 a4.25,4.25 0 1,0 8.5,0 a4.25,4.25 0 1,0 -8.5,0ZM228.75,260.3 a4.25,4.25 0 1,0 8.5,0 a4.25,4.25 0 1,0 -8.5,0ZM270.85,238.6 a4.25,4.25 0 1,0 8.5,0 a4.25,4.25 0 1,0 -8.5,0ZM285.75,232 a4.25,4.25 0 1,0 8.5,0 a4.25,4.25 0 1,0 -8.5,0ZM299.75,228.7 a4.25,4.25 0 1,0 8.5,0 a4.25,4.25 0 1,0 -8.5,0ZM317.75,222 a4.25,4.25 0 1,0 8.5,0 a4.25,4.25 0 1,0 -8.5,0ZM340.75,214 a4.25,4.25 0 1,0 8.5,0 a4.25,4.25 0 1,0 -8.5,0ZM355.75,210 a4.25,4.25 0 1,0 8.5,0 a4.25,4.25 0 1,0 -8.5,0ZM400.75,200 a4.25,4.25 0 1,0 8.5,0 a4.25,4.25 0 1,0 -8.5,0ZM423.75,199 a4.25,4.25 0 1,0 8.5,0 a4.25,4.25 0 1,0 -8.5,0ZM440.75,197 a4.25,4.25 0 1,0 8.5,0 a4.25,4.25 0 1,0 -8.5,0ZM465.75,195 a4.25,4.25 0 1,0 8.5,0 a4.25,4.25 0 1,0 -8.5,0Z" fill="#abd9ed"/>
<path d="M257,260.56 L261.5,266.5 L257,272.44 L252.5,266.5ZM438.9,215.76 L443.4,221.7 L438.9,227.64 L434.4,221.7ZM428.8,211.76 L433.3,217.7 L428.8,223.64 L424.3,217.7ZM182,233.06 L186.5,239 L182,244.94 L177.5,239Z" fill="#abd9ed"/>
<path d="M219.3,210 L220.89,212.75 L224.06,212.75 L222.47,215.5 L224.06,218.25 L220.89,218.25 L219.3,221 L217.71,218.25 L214.54,218.25 L216.13,215.5 L214.54,212.75 L217.71,212.75ZM479.2,147.7 L480.79,150.45 L483.96,150.45 L482.37,153.2 L483.96,155.95 L480.79,155.95 L479.2,158.7 L477.61,155.95 L474.44,155.95 L476.03,153.2 L474.44,150.45 L477.61,150.45ZM461,170.9 L462.59,173.65 L465.76,173.65 L464.17,176.4 L465.76,179.15 L462.59,179.15 L461,181.9 L459.41,179.15 L456.24,179.15 L457.83,176.4 L456.24,173.65 L459.41,173.65ZM471,170.9 L472.59,173.65 L475.76,173.65 L474.17,176.4 L475.76,179.15 L472.59,179.15 L471,181.9 L469.41,179.15 L466.24,179.15 L467.83,176.4 L466.24,173.65 L469.41,173.65Z" fill="#abd9ed"/>
<path d="M176,229.9 C178.33,230.42 184.33,232.48 190,233 C195.67,233.52 202.5,234 210,233 C217.5,232 226.67,229.33 235,227 C243.33,224.67 249.67,222 260,219 C270.33,216 284.5,211.83 297,209 C309.5,206.17 321.17,204.33 335,202 C348.83,199.67 365.83,197 380,195 C394.17,193 407.5,191.5 420,190 C432.5,188.5 444,187.23 455,186 C466,184.77 480.83,183.17 486,182.6" fill="none" stroke="#abd9ed" stroke-width="2.2" stroke-linejoin="round" stroke-linecap="round"/>
<path d="M176,242.6 C178.33,243.17 184.67,245.35 190,246 C195.33,246.65 201.33,247.5 208,246.5 C214.67,245.5 222.57,242.77 230,240 C237.43,237.23 245.1,232.9 252.6,229.9 C260.1,226.9 267.6,224.22 275,222 C282.4,219.78 287,219.17 297,216.6 C307,214.03 321.17,209.53 335,206.6 C348.83,203.67 365.83,201.27 380,199 C394.17,196.73 407.5,194.83 420,193 C432.5,191.17 444,189.73 455,188 C466,186.27 480.83,183.5 486,182.6" fill="none" stroke="#abd9ed" stroke-width="2.2" stroke-linejoin="round" stroke-linecap="round"/>
<path d="M176,261 C178.6,262.1 186.77,266.77 191.6,267.6 C196.43,268.43 200.38,267.1 205,266 C209.62,264.9 214.3,263 219.3,261 C224.3,259 229.45,256.42 235,254 C240.55,251.58 246.77,249 252.6,246.5 C258.43,244 264.45,241.22 270,239 C275.55,236.78 279.23,235.7 285.9,233.2 C292.57,230.7 301.88,226.77 310,224 C318.12,221.23 324.6,219.43 334.6,216.6 C344.6,213.77 357.43,209.93 370,207 C382.57,204.07 396.67,201.83 410,199 C423.33,196.17 437.33,192.73 450,190 C462.67,187.27 480,183.83 486,182.6" fill="none" stroke="#abd9ed" stroke-width="2.2" stroke-linejoin="round" stroke-linecap="round"/>
<path d="M176,257.5 C176.38,257.53 175.18,257.02 178.3,257.7 C181.42,258.38 188.7,262.05 194.7,261.6 C200.7,261.15 207.75,257.62 214.3,255 C220.85,252.38 227.45,249.17 234,245.9 C240.55,242.63 245.97,238.68 253.6,235.4 C261.23,232.12 271.05,229.05 279.8,226.2 C288.55,223.35 296.9,220.92 306.1,218.3 C315.3,215.68 324.3,213.45 335,210.5 C345.7,207.55 357.7,203.6 370.3,200.6 C382.9,197.6 397.15,194.77 410.6,192.5 C424.05,190.23 438.43,188.58 451,187 C463.57,185.42 480.17,183.67 486,183" fill="none" stroke="#d7a6e7" stroke-width="2.4" stroke-linejoin="round" stroke-linecap="round"/>
<path d="M189.4,252.21 L195.15,259.8 L189.4,267.39 L183.65,259.8ZM198.3,247.81 L204.05,255.4 L198.3,262.99 L192.55,255.4ZM209.4,254.41 L215.15,262 L209.4,269.59 L203.65,262ZM215.5,243.41 L221.25,251 L215.5,258.59 L209.75,251ZM227.1,237.81 L232.85,245.4 L227.1,252.99 L221.35,245.4ZM250.9,228.91 L256.65,236.5 L250.9,244.09 L245.15,236.5ZM263.7,224.01 L269.45,231.6 L263.7,239.19 L257.95,231.6ZM275.9,220.11 L281.65,227.7 L275.9,235.29 L270.15,227.7ZM290.3,215.61 L296.05,223.2 L290.3,230.79 L284.55,223.2ZM301.4,211.81 L307.15,219.4 L301.4,226.99 L295.65,219.4ZM315.2,230.01 L320.95,237.6 L315.2,245.19 L309.45,237.6ZM326.9,202.31 L332.65,209.9 L326.9,217.49 L321.15,209.9ZM353.2,195.01 L358.95,202.6 L353.2,210.19 L347.45,202.6ZM366.3,198.01 L372.05,205.6 L366.3,213.19 L360.55,205.6ZM384.4,186.91 L390.15,194.5 L384.4,202.09 L378.65,194.5ZM408.6,180.91 L414.35,188.5 L408.6,196.09 L402.85,188.5ZM414.7,177.81 L420.45,185.4 L414.7,192.99 L408.95,185.4ZM422.7,178.91 L428.45,186.5 L422.7,194.09 L416.95,186.5ZM436.9,175.81 L442.65,183.4 L436.9,190.99 L431.15,183.4ZM442.9,175.81 L448.65,183.4 L442.9,190.99 L437.15,183.4ZM452,172.81 L457.75,180.4 L452,187.99 L446.25,180.4ZM394.5,213.11 L400.25,220.7 L394.5,228.29 L388.75,220.7Z" fill="#d7a6e7"/>
<path d="M176,261.5 C176.38,261.73 176.63,261.73 178.3,262.9 C179.97,264.07 183.27,266.97 186,268.5 C188.73,270.03 191.07,271.62 194.7,272.1 C198.33,272.58 202.35,272.93 207.8,271.4 C213.25,269.87 220.85,266.28 227.4,262.9 C233.95,259.52 240.55,254.82 247.1,251.1 C253.65,247.38 259.05,244.1 266.7,240.6 C274.35,237.1 284.25,233.37 293,230.1 C301.75,226.83 312.2,223.83 319.2,221 C326.2,218.17 326.48,216.17 335,213.1 C343.52,210.03 357.7,205.7 370.3,202.6 C382.9,199.5 397.15,197.02 410.6,194.5 C424.05,191.98 438.43,189.48 451,187.5 C463.57,185.52 480.17,183.42 486,182.6" fill="none" stroke="#6ea12a" stroke-width="2.6" stroke-linejoin="round" stroke-linecap="round"/>
<path d="M207.58,252.1 L197.62,246.35 L197.62,257.85ZM215.98,255 L206.02,249.25 L206.02,260.75ZM227.58,249.3 L217.62,243.55 L217.62,255.05ZM225.28,257.6 L215.32,251.85 L215.32,263.35ZM236.38,254.3 L226.42,248.55 L226.42,260.05ZM250.78,256.5 L240.82,250.75 L240.82,262.25ZM264.08,247.6 L254.12,241.85 L254.12,253.35ZM276.28,250.4 L266.32,244.65 L266.32,256.15ZM244.18,270.4 L234.22,264.65 L234.22,276.15ZM290.78,239.3 L280.82,233.55 L280.82,245.05ZM304.08,231.6 L294.12,225.85 L294.12,237.35ZM331.78,248.7 L321.82,242.95 L321.82,254.45ZM378.28,189.5 L368.32,183.75 L368.32,195.25ZM402.48,184.4 L392.52,178.65 L392.52,190.15ZM426.68,181.4 L416.72,175.65 L416.72,187.15ZM452.88,183.4 L442.92,177.65 L442.92,189.15ZM486.18,178.4 L476.22,172.65 L476.22,184.15ZM390.38,204.6 L380.42,198.85 L380.42,210.35ZM406.58,204.6 L396.62,198.85 L396.62,210.35ZM360.18,212.7 L350.22,206.95 L350.22,218.45ZM345.08,214.7 L335.12,208.95 L335.12,220.45ZM375.28,196.5 L365.32,190.75 L365.32,202.25Z" fill="#6ea12a"/>
<path d="M176,299 C176.38,299.22 176.28,298.45 178.3,300.3 C180.32,302.15 184.93,307.6 188.1,310.1 C191.27,312.6 194.02,315.08 197.3,315.3 C200.58,315.52 203.87,313.58 207.8,311.4 C211.73,309.22 216.53,305.48 220.9,302.2 C225.27,298.92 229.42,295.85 234,291.7 C238.58,287.55 244.03,281.22 248.4,277.3 C252.77,273.38 255.83,271.47 260.2,268.2 C264.57,264.93 269.8,260.98 274.6,257.7 C279.4,254.42 284.42,251.13 289,248.5 C293.58,245.87 293.7,245.18 302.1,241.9 C310.5,238.62 328.03,233.95 339.4,228.8 C350.77,223.65 358.43,215.88 370.3,211 C382.17,206.12 397.15,202.92 410.6,199.5 C424.05,196.08 438.43,193.25 451,190.5 C463.57,187.75 480.17,184.25 486,183" fill="none" stroke="#982e1b" stroke-width="2.4" stroke-linejoin="round" stroke-linecap="round"/>
<path d="M192.4,302 L203.4,302 L203.4,313 L192.4,313ZM199.6,294.1 L210.6,294.1 L210.6,305.1 L199.6,305.1ZM206.2,292.8 L217.2,292.8 L217.2,303.8 L206.2,303.8ZM212.7,292.1 L223.7,292.1 L223.7,303.1 L212.7,303.1ZM220.6,290.2 L231.6,290.2 L231.6,301.2 L220.6,301.2ZM227.2,284.9 L238.2,284.9 L238.2,295.9 L227.2,295.9ZM233.7,279.7 L244.7,279.7 L244.7,290.7 L233.7,290.7ZM240.3,277.1 L251.3,277.1 L251.3,288.1 L240.3,288.1ZM245.5,275.1 L256.5,275.1 L256.5,286.1 L245.5,286.1ZM250.8,271.8 L261.8,271.8 L261.8,282.8 L250.8,282.8ZM261.2,269.2 L272.2,269.2 L272.2,280.2 L261.2,280.2ZM266.5,267.9 L277.5,267.9 L277.5,278.9 L266.5,278.9ZM274.3,262.7 L285.3,262.7 L285.3,273.7 L274.3,273.7ZM286.1,256.1 L297.1,256.1 L297.1,267.1 L286.1,267.1ZM295.3,246.9 L306.3,246.9 L306.3,257.9 L295.3,257.9ZM301.9,240.4 L312.9,240.4 L312.9,251.4 L301.9,251.4ZM311,237.8 L322,237.8 L322,248.8 L311,248.8ZM320.2,227.3 L331.2,227.3 L331.2,238.3 L320.2,238.3ZM325.5,222 L336.5,222 L336.5,233 L325.5,233ZM332.5,221.94 L343.5,221.94 L343.5,232.94 L332.5,232.94ZM341,217.34 L352,217.34 L352,228.34 L341,228.34ZM349.5,213.07 L360.5,213.07 L360.5,224.07 L349.5,224.07ZM358,209.19 L369,209.19 L369,220.19 L358,220.19ZM366.5,206.63 L377.5,206.63 L377.5,217.63 L366.5,217.63ZM375,204.3 L386,204.3 L386,215.3 L375,215.3ZM383.5,200.9 L394.5,200.9 L394.5,211.9 L383.5,211.9ZM392,197.09 L403,197.09 L403,208.09 L392,208.09ZM400.5,195.11 L411.5,195.11 L411.5,206.11 L400.5,206.11ZM409,194.43 L420,194.43 L420,205.43 L409,205.43ZM417.5,193.79 L428.5,193.79 L428.5,204.79 L417.5,204.79ZM426,192.95 L437,192.95 L437,203.95 L426,203.95ZM434.5,190.98 L445.5,190.98 L445.5,201.98 L434.5,201.98ZM443,189.01 L454,189.01 L454,200.01 L443,200.01ZM451.5,187.44 L462.5,187.44 L462.5,198.44 L451.5,198.44ZM460,187.17 L471,187.17 L471,198.17 L460,198.17ZM468.5,186.9 L479.5,186.9 L479.5,197.9 L468.5,197.9ZM373,215.6 L384,215.6 L384,226.6 L373,226.6ZM413.6,172.3 L424.6,172.3 L424.6,183.3 L413.6,183.3Z" fill="#982e1b"/>
<path d="M176,441.8 C176.83,441.75 179.17,441.88 181,441.5 C182.83,441.12 184.82,440.42 187,439.5 C189.18,438.58 191.32,438.33 194.1,436 C196.88,433.67 200.5,429.48 203.7,425.5 C206.9,421.52 210.1,417.2 213.3,412.1 C216.5,407 219.72,400.33 222.9,394.9 C226.08,389.47 228.9,384.93 232.4,379.5 C235.9,374.07 240.07,367.72 243.9,362.3 C247.73,356.88 250.93,352.73 255.4,347 C259.87,341.27 264.95,334.92 270.7,327.9 C276.45,320.88 283.52,311.6 289.9,304.9 C296.28,298.2 302.32,293.17 309,287.7 C315.68,282.23 323.17,277.13 330,272.1 C336.83,267.07 343.28,262.37 350,257.5 C356.72,252.63 363.63,247.32 370.3,242.9 C376.97,238.48 383.28,234.7 390,231 C396.72,227.3 403.93,224.12 410.6,220.7 C417.27,217.28 423.27,213.68 430,210.5 C436.73,207.32 444.15,204.93 451,201.6 C457.85,198.27 465.27,193.6 471.1,190.5 C476.93,187.4 483.52,184.25 486,183" fill="none" stroke="#ecd65c" stroke-width="2.4" stroke-linejoin="round" stroke-linecap="round"/>
<path d="M185.5,441.78 L191,451.31 L180,451.31ZM188.4,449.48 L193.9,459.01 L182.9,459.01ZM187.4,452.28 L192.9,461.81 L181.9,461.81ZM194.1,438.88 L199.6,448.41 L188.6,448.41ZM196.1,442.78 L201.6,452.31 L190.6,452.31ZM199.9,442.78 L205.4,452.31 L194.4,452.31ZM204.7,432.18 L210.2,441.71 L199.2,441.71ZM201.8,454.28 L207.3,463.81 L196.3,463.81ZM180,440.28 L185.5,449.81 L174.5,449.81ZM182,446.28 L187.5,455.81 L176.5,455.81ZM191,445.28 L196.5,454.81 L185.5,454.81ZM209.5,415.98 L215,425.51 L204,425.51ZM212.3,409.28 L217.8,418.81 L206.8,418.81ZM217.1,393.88 L222.6,403.41 L211.6,403.41ZM219,392.98 L224.5,402.51 L213.5,402.51ZM215.2,386.28 L220.7,395.81 L209.7,395.81ZM223.8,376.68 L229.3,386.21 L218.3,386.21ZM226.7,378.58 L232.2,388.11 L221.2,388.11ZM232.4,363.28 L237.9,372.81 L226.9,372.81ZM238.2,360.38 L243.7,369.91 L232.7,369.91ZM242,335.58 L247.5,345.11 L236.5,345.11ZM247.7,330.78 L253.2,340.31 L242.2,340.31ZM252.5,326.88 L258,336.41 L247,336.41ZM261.1,313.48 L266.6,323.01 L255.6,323.01ZM266.9,305.88 L272.4,315.41 L261.4,315.41ZM270.7,310.68 L276.2,320.21 L265.2,320.21ZM275.5,292.48 L281,302.01 L270,302.01ZM280.3,295.38 L285.8,304.91 L274.8,304.91ZM289.9,277.18 L295.4,286.71 L284.4,286.71ZM289.2,276.28 L294.7,285.81 L283.7,285.81ZM299.2,266.28 L304.7,275.81 L293.7,275.81ZM308,264.08 L313.5,273.61 L302.5,273.61ZM319.1,259.68 L324.6,269.21 L313.6,269.21ZM329.1,254.08 L334.6,263.61 L323.6,263.61ZM322.5,246.38 L328,255.91 L317,255.91ZM338,242.28 L343.5,251.81 L332.5,251.81ZM344.1,240.78 L349.6,250.31 L338.6,250.31ZM334,247.68 L339.5,257.21 L328.5,257.21ZM338.1,258.38 L343.6,267.91 L332.6,267.91ZM354.2,260.98 L359.7,270.51 L348.7,270.51ZM364.3,234.18 L369.8,243.71 L358.8,243.71ZM370.3,225.08 L375.8,234.61 L364.8,234.61ZM388.5,214.98 L394,224.51 L383,224.51ZM394.5,231.18 L400,240.71 L389,240.71ZM406.6,216.98 L412.1,226.51 L401.1,226.51ZM412.7,223.08 L418.2,232.61 L407.2,232.61ZM420.7,220.08 L426.2,229.61 L415.2,229.61ZM428.8,212.98 L434.3,222.51 L423.3,222.51ZM438.9,225.08 L444.4,234.61 L433.4,234.61ZM449,235.18 L454.5,244.71 L443.5,244.71ZM459,204.88 L464.5,214.41 L453.5,214.41ZM472.1,203.88 L477.6,213.41 L466.6,213.41ZM483.2,207.98 L488.7,217.51 L477.7,217.51Z" fill="#ecd65c"/>
<path d="M176,778.6 C177.5,778.2 182.4,778.08 185,776.2 C187.6,774.32 189.57,771 191.6,767.3 C193.63,763.6 195.17,759.53 197.2,754 C199.23,748.47 201.4,741.48 203.8,734.1 C206.2,726.72 209.02,718.2 211.6,709.7 C214.18,701.2 216.53,691.97 219.3,683.1 C222.07,674.23 224.87,666.12 228.2,656.5 C231.53,646.88 235.97,635.38 239.3,625.4 C242.63,615.42 245.67,604.17 248.2,596.6 C250.73,589.03 251.57,587.38 254.5,580 C257.43,572.62 261.77,562.57 265.8,552.3 C269.83,542.03 274.4,529.17 278.7,518.4 C283,507.63 287.3,497.92 291.6,487.7 C295.9,477.48 301.27,464.35 304.5,457.1 C307.73,449.85 308.42,449.45 311,444.2 C313.58,438.95 314.3,435.63 320,425.6 C325.7,415.57 338.9,394.7 345.2,384 C351.5,373.3 351.08,373.15 357.8,361.4 C364.52,349.65 378.37,325.27 385.5,313.5 C392.63,301.73 393.88,300.45 400.6,290.8 C407.32,281.15 417.4,267.35 425.8,255.6 C434.2,243.85 443.45,229.97 451,220.3 C458.55,210.63 465.65,203.68 471.1,197.6 C476.55,191.52 481.22,186.48 483.7,183.8 C486.18,181.12 485.62,181.88 486,181.5" fill="none" stroke="#d6336b" stroke-width="2.4" stroke-linejoin="round" stroke-linecap="round"/>
<path d="M296.4,368.48 L297.8,372.79 L302.33,372.79 L298.67,375.46 L300.07,379.77 L296.4,377.1 L292.73,379.77 L294.13,375.46 L290.47,372.79 L295,372.79ZM332.7,368.48 L334.1,372.79 L338.63,372.79 L334.97,375.46 L336.37,379.77 L332.7,377.1 L329.03,379.77 L330.43,375.46 L326.77,372.79 L331.3,372.79ZM346.3,399.18 L347.7,403.49 L352.23,403.49 L348.57,406.16 L349.97,410.47 L346.3,407.8 L342.63,410.47 L344.03,406.16 L340.37,403.49 L344.9,403.49ZM358.4,353.38 L359.8,357.69 L364.33,357.69 L360.67,360.36 L362.07,364.67 L358.4,362 L354.73,364.67 L356.13,360.36 L352.47,357.69 L357,357.69ZM373,353.38 L374.4,357.69 L378.93,357.69 L375.27,360.36 L376.67,364.67 L373,362 L369.33,364.67 L370.73,360.36 L367.07,357.69 L371.6,357.69ZM308.5,436.98 L309.9,441.29 L314.43,441.29 L310.77,443.96 L312.17,448.27 L308.5,445.6 L304.83,448.27 L306.23,443.96 L302.57,441.29 L307.1,441.29ZM385.6,306.98 L387,311.29 L391.53,311.29 L387.87,313.96 L389.27,318.27 L385.6,315.6 L381.93,318.27 L383.33,313.96 L379.67,311.29 L384.2,311.29ZM399.7,291.88 L401.1,296.19 L405.63,296.19 L401.97,298.86 L403.37,303.17 L399.7,300.5 L396.03,303.17 L397.43,298.86 L393.77,296.19 L398.3,296.19ZM413.3,276.78 L414.7,281.09 L419.23,281.09 L415.57,283.76 L416.97,288.07 L413.3,285.4 L409.63,288.07 L411.03,283.76 L407.37,281.09 L411.9,281.09ZM403.2,265.68 L404.6,269.99 L409.13,269.99 L405.47,272.66 L406.87,276.97 L403.2,274.3 L399.53,276.97 L400.93,272.66 L397.27,269.99 L401.8,269.99ZM428.4,254.08 L429.8,258.39 L434.33,258.39 L430.67,261.06 L432.07,265.37 L428.4,262.7 L424.73,265.37 L426.13,261.06 L422.47,258.39 L427,258.39ZM432,265.18 L433.4,269.49 L437.93,269.49 L434.27,272.16 L435.67,276.47 L432,273.8 L428.33,276.47 L429.73,272.16 L426.07,269.49 L430.6,269.49ZM457.7,237.88 L459.1,242.19 L463.63,242.19 L459.97,244.86 L461.37,249.17 L457.7,246.5 L454.03,249.17 L455.43,244.86 L451.77,242.19 L456.3,242.19ZM375.5,188.48 L376.9,192.79 L381.43,192.79 L377.77,195.46 L379.17,199.77 L375.5,197.1 L371.83,199.77 L373.23,195.46 L369.57,192.79 L374.1,192.79ZM442.5,145.68 L443.9,149.99 L448.43,149.99 L444.77,152.66 L446.17,156.97 L442.5,154.3 L438.83,156.97 L440.23,152.66 L436.57,149.99 L441.1,149.99ZM472.8,332.18 L474.2,336.49 L478.73,336.49 L475.07,339.16 L476.47,343.47 L472.8,340.8 L469.13,343.47 L470.53,339.16 L466.87,336.49 L471.4,336.49ZM483.9,135.58 L485.3,139.89 L489.83,139.89 L486.17,142.56 L487.57,146.87 L483.9,144.2 L480.23,146.87 L481.63,142.56 L477.97,139.89 L482.5,139.89ZM283.9,513.38 L285.3,517.69 L289.83,517.69 L286.17,520.36 L287.57,524.67 L283.9,522 L280.23,524.67 L281.63,520.36 L277.97,517.69 L282.5,517.69ZM213.7,626.78 L215.1,631.09 L219.63,631.09 L215.97,633.76 L217.37,638.07 L213.7,635.4 L210.03,638.07 L211.43,633.76 L207.77,631.09 L212.3,631.09ZM224.7,665.88 L226.1,670.19 L230.63,670.19 L226.97,672.86 L228.37,677.17 L224.7,674.5 L221.03,677.17 L222.43,672.86 L218.77,670.19 L223.3,670.19ZM190.4,675.48 L191.8,679.79 L196.33,679.79 L192.67,682.46 L194.07,686.77 L190.4,684.1 L186.73,686.77 L188.13,682.46 L184.47,679.79 L189,679.79ZM231.5,678.88 L232.9,683.19 L237.43,683.19 L233.77,685.86 L235.17,690.17 L231.5,687.5 L227.83,690.17 L229.23,685.86 L225.57,683.19 L230.1,683.19ZM260,673.08 L261.4,677.39 L265.93,677.39 L262.27,680.06 L263.67,684.37 L260,681.7 L256.33,684.37 L257.73,680.06 L254.07,677.39 L258.6,677.39ZM218.9,707.98 L220.3,712.29 L224.83,712.29 L221.17,714.96 L222.57,719.27 L218.9,716.6 L215.23,719.27 L216.63,714.96 L212.97,712.29 L217.5,712.29ZM192.1,738.18 L193.5,742.49 L198.03,742.49 L194.37,745.16 L195.77,749.47 L192.1,746.8 L188.43,749.47 L189.83,745.16 L186.17,742.49 L190.7,742.49ZM189.4,755.98 L190.8,760.29 L195.33,760.29 L191.67,762.96 L193.07,767.27 L189.4,764.6 L185.73,767.27 L187.13,762.96 L183.47,760.29 L188,760.29ZM197.3,780.98 L198.7,785.29 L203.23,785.29 L199.57,787.96 L200.97,792.27 L197.3,789.6 L193.63,792.27 L195.03,787.96 L191.37,785.29 L195.9,785.29ZM208.5,827.98 L209.9,832.29 L214.43,832.29 L210.77,834.96 L212.17,839.27 L208.5,836.6 L204.83,839.27 L206.23,834.96 L202.57,832.29 L207.1,832.29ZM376.4,187.98 L377.8,192.29 L382.33,192.29 L378.67,194.96 L380.07,199.27 L376.4,196.6 L372.73,199.27 L374.13,194.96 L370.47,192.29 L375,192.29ZM404.6,265.58 L406,269.89 L410.53,269.89 L406.87,272.56 L408.27,276.87 L404.6,274.2 L400.93,276.87 L402.33,272.56 L398.67,269.89 L403.2,269.89ZM414.7,276.68 L416.1,280.99 L420.63,280.99 L416.97,283.66 L418.37,287.97 L414.7,285.3 L411.03,287.97 L412.43,283.66 L408.77,280.99 L413.3,280.99ZM399.6,292.78 L401,297.09 L405.53,297.09 L401.87,299.76 L403.27,304.07 L399.6,301.4 L395.93,304.07 L397.33,299.76 L393.67,297.09 L398.2,297.09ZM386.5,306.98 L387.9,311.29 L392.43,311.29 L388.77,313.96 L390.17,318.27 L386.5,315.6 L382.83,318.27 L384.23,313.96 L380.57,311.29 L385.1,311.29Z" fill="#d6336b"/>
</g>
<path d="M709.15,435.4 a9.65,9.65 0 1,0 19.3,0 a9.65,9.65 0 1,0 -19.3,0ZM714.75,497.1 a9.65,9.65 0 1,0 19.3,0 a9.65,9.65 0 1,0 -19.3,0ZM712.05,545.9 a9.65,9.65 0 1,0 19.3,0 a9.65,9.65 0 1,0 -19.3,0Z" fill="#abd9ed"/>
<line x1="718.8" y1="422.6" x2="718.8" y2="449.4" stroke="#111" stroke-width="4.4" stroke-linecap="butt"/>
<line x1="705.7" y1="422.6" x2="731.9" y2="422.6" stroke="#111" stroke-width="4.4" stroke-linecap="butt"/>
<line x1="705.7" y1="449.4" x2="731.9" y2="449.4" stroke="#111" stroke-width="4.4" stroke-linecap="butt"/>
<line x1="724.4" y1="476.5" x2="724.4" y2="522" stroke="#111" stroke-width="4.4" stroke-linecap="butt"/>
<line x1="711.55" y1="476.5" x2="737.25" y2="476.5" stroke="#111" stroke-width="4.4" stroke-linecap="butt"/>
<line x1="711.55" y1="522" x2="737.25" y2="522" stroke="#111" stroke-width="4.4" stroke-linecap="butt"/>
<line x1="708.9" y1="545.9" x2="734.8" y2="545.9" stroke="#111" stroke-width="6.4" stroke-linecap="butt"/>
<path d="M751.1,504.1H768.7M759.9,495.3V512.9M753.39,497.59L766.41,510.61M753.39,510.61L766.41,497.59M756.4,571.6H774M765.2,562.8V580.4M758.69,565.09L771.71,578.11M758.69,578.11L771.71,565.09" stroke="#abd9ed" stroke-width="4.2" fill="none"/>
<path d="M795.3,408.3 L799.43,415.45 L807.68,415.45 L803.55,422.6 L807.68,429.75 L799.43,429.75 L795.3,436.9 L791.17,429.75 L782.92,429.75 L787.05,422.6 L782.92,415.45 L791.17,415.45ZM792.5,458.8 L796.63,465.95 L804.88,465.95 L800.75,473.1 L804.88,480.25 L796.63,480.25 L792.5,487.4 L788.37,480.25 L780.12,480.25 L784.25,473.1 L780.12,465.95 L788.37,465.95Z" fill="#abd9ed"/>
<line x1="814.6" y1="439.2" x2="814.6" y2="550.8" stroke="#abd9ed" stroke-width="5.2" stroke-linecap="butt"/>
<line x1="801.3" y1="439.2" x2="827.9" y2="439.2" stroke="#abd9ed" stroke-width="5.2" stroke-linecap="butt"/>
<line x1="801.3" y1="550.8" x2="827.9" y2="550.8" stroke="#abd9ed" stroke-width="5.2" stroke-linecap="butt"/>
<circle cx="814.6" cy="483.6" r="9.1" fill="#abd9ed" stroke="#111" stroke-width="4.4"/>
<path d="M830.3,272.21 L844.05,296.03 L816.55,296.03ZM836.3,269.11 L850.05,292.93 L822.55,292.93Z" fill="#ecd65c"/>
<path d="M860.55,404.65 L882.25,404.65 L882.25,426.35 L860.55,426.35ZM858.15,346.35 L879.85,346.35 L879.85,368.05 L858.15,368.05ZM855.15,366.65 L876.85,366.65 L876.85,388.35 L855.15,388.35Z" fill="#982e1b"/>
<path d="M928.39,430.6 L904.4,416.75 L904.4,444.45ZM930.99,467.2 L907,453.35 L907,481.05Z" fill="#6ea12a"/>
<path d="M947.7,352.92 L959.2,368.1 L947.7,383.28 L936.2,368.1ZM950.6,433.12 L962.1,448.3 L950.6,463.48 L939.1,448.3Z" fill="#d7a6e7"/>
<path d="M980.4,121.25 L983.76,131.6 L994.64,131.6 L985.84,138 L989.2,148.34 L980.4,141.95 L971.6,148.34 L974.96,138 L966.16,131.6 L977.04,131.6ZM986,117.65 L989.36,128 L1000.24,128 L991.44,134.4 L994.8,144.74 L986,138.35 L977.2,144.74 L980.56,134.4 L971.76,128 L982.64,128Z" fill="#d6336b"/>
<g clip-path="url(#clipC)">
<path d="M1292.5,353 L1299.5,353 L1299.5,360 L1292.5,360Z" fill="#982e1b"/>
<path d="M1279.4,342.9 L1288.15,358.05 L1270.65,358.05ZM1295,342.54 L1303.75,357.7 L1286.25,357.7ZM1310.6,342.18 L1319.35,357.34 L1301.85,357.34ZM1326.2,341.83 L1334.95,356.98 L1317.45,356.98ZM1341.8,341.47 L1350.55,356.62 L1333.05,356.62ZM1357.4,341.11 L1366.15,356.27 L1348.65,356.27ZM1373,340.75 L1381.75,355.91 L1364.25,355.91ZM1388.6,340.4 L1397.35,355.55 L1379.85,355.55ZM1404.2,340.04 L1412.95,355.19 L1395.45,355.19Z" fill="#ecd65c"/>
<polyline points="1176,349 1179.5,348.1 1194,356.3 1210.4,349.9 1272,351" fill="none" stroke="#d7a6e7" stroke-width="2.2" stroke-linejoin="round" stroke-linecap="round" />
<polyline points="1176,372.6 1274,372.6" fill="none" stroke="#d7a6e7" stroke-width="2.2" stroke-linejoin="round" stroke-linecap="round" />
<path d="M1179.5,338.2 L1187,348.1 L1179.5,358 L1172,348.1ZM1194,346.4 L1201.5,356.3 L1194,366.2 L1186.5,356.3ZM1210.4,340 L1217.9,349.9 L1210.4,359.8 L1202.9,349.9ZM1225.8,340.28 L1233.3,350.18 L1225.8,360.07 L1218.3,350.18ZM1241.2,340.55 L1248.7,350.45 L1241.2,360.35 L1233.7,350.45ZM1256.6,340.83 L1264.1,350.73 L1256.6,360.62 L1249.1,350.73ZM1272,341.1 L1279.5,351 L1272,360.9 L1264.5,351ZM1276,341.14 L1283.5,351.04 L1276,360.94 L1268.5,351.04ZM1281.2,341.19 L1288.7,351.09 L1281.2,360.99 L1273.7,351.09ZM1286.4,341.24 L1293.9,351.13 L1286.4,361.03 L1278.9,351.13ZM1291.6,341.28 L1299.1,351.18 L1291.6,361.08 L1284.1,351.18ZM1296.8,341.33 L1304.3,351.23 L1296.8,361.13 L1289.3,351.23ZM1302,341.38 L1309.5,351.28 L1302,361.18 L1294.5,351.28ZM1307.2,341.43 L1314.7,351.33 L1307.2,361.23 L1299.7,351.33ZM1312.4,341.48 L1319.9,351.38 L1312.4,361.28 L1304.9,351.38ZM1317.6,341.53 L1325.1,351.43 L1317.6,361.33 L1310.1,351.43ZM1322.8,341.58 L1330.3,351.48 L1322.8,361.38 L1315.3,351.48ZM1328,341.62 L1335.5,351.52 L1328,361.42 L1320.5,351.52ZM1333.2,341.67 L1340.7,351.57 L1333.2,361.47 L1325.7,351.57ZM1338.4,341.72 L1345.9,351.62 L1338.4,361.52 L1330.9,351.62ZM1343.6,341.77 L1351.1,351.67 L1343.6,361.57 L1336.1,351.67ZM1348.8,341.82 L1356.3,351.72 L1348.8,361.62 L1341.3,351.72ZM1354,341.87 L1361.5,351.77 L1354,361.67 L1346.5,351.77ZM1359.2,341.92 L1366.7,351.82 L1359.2,361.72 L1351.7,351.82ZM1364.4,341.97 L1371.9,351.87 L1364.4,361.77 L1356.9,351.87ZM1369.6,342.02 L1377.1,351.92 L1369.6,361.81 L1362.1,351.92ZM1374.8,342.06 L1382.3,351.96 L1374.8,361.86 L1367.3,351.96ZM1380,342.11 L1387.5,352.01 L1380,361.91 L1372.5,352.01ZM1385.2,342.16 L1392.7,352.06 L1385.2,361.96 L1377.7,352.06ZM1390.4,342.21 L1397.9,352.11 L1390.4,362.01 L1382.9,352.11ZM1395.6,342.26 L1403.1,352.16 L1395.6,362.06 L1388.1,352.16ZM1400.8,342.3 L1408.3,352.2 L1400.8,362.1 L1393.3,352.2ZM1406,342.32 L1413.5,352.22 L1406,362.12 L1398.5,352.22ZM1411.2,342.35 L1418.7,352.25 L1411.2,362.15 L1403.7,352.25ZM1416.4,342.37 L1423.9,352.27 L1416.4,362.17 L1408.9,352.27ZM1421.6,342.39 L1429.1,352.29 L1421.6,362.19 L1414.1,352.29ZM1426.8,342.41 L1434.3,352.31 L1426.8,362.21 L1419.3,352.31ZM1432,342.43 L1439.5,352.33 L1432,362.23 L1424.5,352.33ZM1437.2,342.45 L1444.7,352.35 L1437.2,362.25 L1429.7,352.35ZM1442.4,342.47 L1449.9,352.37 L1442.4,362.27 L1434.9,352.37ZM1447.6,342.5 L1455.1,352.4 L1447.6,362.3 L1440.1,352.4ZM1452.8,342.52 L1460.3,352.42 L1452.8,362.32 L1445.3,352.42ZM1458,342.54 L1465.5,352.44 L1458,362.34 L1450.5,352.44ZM1463.2,342.56 L1470.7,352.46 L1463.2,362.36 L1455.7,352.46ZM1468.4,342.58 L1475.9,352.48 L1468.4,362.38 L1460.9,352.48ZM1473.6,342.6 L1481.1,352.5 L1473.6,362.4 L1466.1,352.5ZM1478.8,342.62 L1486.3,352.52 L1478.8,362.42 L1471.3,352.52ZM1484,342.65 L1491.5,352.55 L1484,362.45 L1476.5,352.55ZM1489.2,342.67 L1496.7,352.57 L1489.2,362.47 L1481.7,352.57Z" fill="#d7a6e7"/>
<path d="M1181.4,362.7 L1188.9,372.6 L1181.4,382.5 L1173.9,372.6ZM1196.8,362.7 L1204.3,372.6 L1196.8,382.5 L1189.3,372.6ZM1212.2,362.7 L1219.7,372.6 L1212.2,382.5 L1204.7,372.6ZM1227.6,362.7 L1235.1,372.6 L1227.6,382.5 L1220.1,372.6ZM1243,362.7 L1250.5,372.6 L1243,382.5 L1235.5,372.6ZM1258.4,362.7 L1265.9,372.6 L1258.4,382.5 L1250.9,372.6ZM1274,362.7 L1281.5,372.6 L1274,382.5 L1266.5,372.6ZM1279.2,362.76 L1286.7,372.66 L1279.2,382.56 L1271.7,372.66ZM1284.4,362.82 L1291.9,372.72 L1284.4,382.62 L1276.9,372.72ZM1289.6,362.88 L1297.1,372.78 L1289.6,382.68 L1282.1,372.78ZM1294.8,362.95 L1302.3,372.85 L1294.8,382.75 L1287.3,372.85ZM1300,363.01 L1307.5,372.91 L1300,382.81 L1292.5,372.91ZM1305.2,363.07 L1312.7,372.97 L1305.2,382.87 L1297.7,372.97ZM1310.4,363.13 L1317.9,373.03 L1310.4,382.93 L1302.9,373.03ZM1315.6,363.19 L1323.1,373.09 L1315.6,382.99 L1308.1,373.09ZM1320.8,363.25 L1328.3,373.15 L1320.8,383.05 L1313.3,373.15ZM1326,363.32 L1333.5,373.22 L1326,383.12 L1318.5,373.22ZM1331.2,363.38 L1338.7,373.28 L1331.2,383.18 L1323.7,373.28ZM1336.4,363.44 L1343.9,373.34 L1336.4,383.24 L1328.9,373.34ZM1341.6,363.5 L1349.1,373.4 L1341.6,383.3 L1334.1,373.4ZM1346.8,363.56 L1354.3,373.46 L1346.8,383.36 L1339.3,373.46ZM1352,363.64 L1359.5,373.54 L1352,383.44 L1344.5,373.54ZM1357.2,363.75 L1364.7,373.65 L1357.2,383.55 L1349.7,373.65ZM1362.4,363.87 L1369.9,373.77 L1362.4,383.67 L1354.9,373.77ZM1367.6,363.98 L1375.1,373.88 L1367.6,383.78 L1360.1,373.88ZM1372.8,364.09 L1380.3,373.99 L1372.8,383.89 L1365.3,373.99ZM1378,364.2 L1385.5,374.1 L1378,384 L1370.5,374.1ZM1383.2,364.31 L1390.7,374.21 L1383.2,384.11 L1375.7,374.21ZM1388.4,364.42 L1395.9,374.32 L1388.4,384.22 L1380.9,374.32ZM1393.6,364.53 L1401.1,374.43 L1393.6,384.33 L1386.1,374.43ZM1398.8,364.65 L1406.3,374.55 L1398.8,384.45 L1391.3,374.55ZM1404,364.76 L1411.5,374.66 L1404,384.56 L1396.5,374.66ZM1409.2,364.87 L1416.7,374.77 L1409.2,384.67 L1401.7,374.77ZM1414.4,364.98 L1421.9,374.88 L1414.4,384.78 L1406.9,374.88ZM1419.6,365.09 L1427.1,374.99 L1419.6,384.89 L1412.1,374.99ZM1424.8,365.25 L1432.3,375.15 L1424.8,385.05 L1417.3,375.15ZM1430,365.42 L1437.5,375.32 L1430,385.22 L1422.5,375.32ZM1435.2,365.59 L1442.7,375.49 L1435.2,385.39 L1427.7,375.49ZM1440.4,365.76 L1447.9,375.66 L1440.4,385.56 L1432.9,375.66ZM1445.6,365.93 L1453.1,375.83 L1445.6,385.73 L1438.1,375.83ZM1450.8,366.09 L1458.3,375.99 L1450.8,385.89 L1443.3,375.99ZM1456,366.26 L1463.5,376.16 L1456,386.06 L1448.5,376.16ZM1461.2,366.43 L1468.7,376.33 L1461.2,386.23 L1453.7,376.33ZM1466.4,366.6 L1473.9,376.5 L1466.4,386.4 L1458.9,376.5ZM1471.6,366.76 L1479.1,376.66 L1471.6,386.56 L1464.1,376.66ZM1476.8,366.93 L1484.3,376.83 L1476.8,386.73 L1469.3,376.83Z" fill="#d7a6e7"/>
<path d="M1286.6,327.35 L1295.5,342.77 L1277.7,342.77ZM1302.2,327.12 L1311.1,342.54 L1293.3,342.54ZM1317.8,326.9 L1326.7,342.31 L1308.9,342.31ZM1333.4,326.67 L1342.3,342.08 L1324.5,342.08ZM1349,326.34 L1357.9,341.75 L1340.1,341.75ZM1364.6,324.03 L1373.5,339.44 L1355.7,339.44ZM1380.2,319.71 L1389.1,335.12 L1371.3,335.12ZM1395.8,318.75 L1404.7,334.17 L1386.9,334.17ZM1411.4,316.1 L1420.3,331.52 L1402.5,331.52Z" fill="#ecd65c"/>
<path d="M1274,362.5 L1276.34,369.69 L1283.89,369.69 L1277.78,374.13 L1280.11,381.31 L1274,376.87 L1267.89,381.31 L1270.22,374.13 L1264.11,369.69 L1271.66,369.69ZM1279,362.59 L1281.34,369.78 L1288.89,369.78 L1282.78,374.22 L1285.11,381.41 L1279,376.97 L1272.89,381.41 L1275.22,374.22 L1269.11,369.78 L1276.66,369.78ZM1284,362.69 L1286.34,369.87 L1293.89,369.87 L1287.78,374.32 L1290.11,381.5 L1284,377.06 L1277.89,381.5 L1280.22,374.32 L1274.11,369.87 L1281.66,369.87ZM1289,362.78 L1291.34,369.97 L1298.89,369.97 L1292.78,374.41 L1295.11,381.6 L1289,377.15 L1282.89,381.6 L1285.22,374.41 L1279.11,369.97 L1286.66,369.97ZM1294,362.6 L1296.34,369.79 L1303.89,369.79 L1297.78,374.23 L1300.11,381.41 L1294,376.97 L1287.89,381.41 L1290.22,374.23 L1284.11,369.79 L1291.66,369.79ZM1299,362.35 L1301.34,369.54 L1308.89,369.54 L1302.78,373.98 L1305.11,381.16 L1299,376.72 L1292.89,381.16 L1295.22,373.98 L1289.11,369.54 L1296.66,369.54ZM1304,362.1 L1306.34,369.29 L1313.89,369.29 L1307.78,373.73 L1310.11,380.91 L1304,376.47 L1297.89,380.91 L1300.22,373.73 L1294.11,369.29 L1301.66,369.29ZM1309,361.85 L1311.34,369.04 L1318.89,369.04 L1312.78,373.48 L1315.11,380.66 L1309,376.22 L1302.89,380.66 L1305.22,373.48 L1299.11,369.04 L1306.66,369.04ZM1314,361.17 L1316.34,368.36 L1323.89,368.36 L1317.78,372.8 L1320.11,379.99 L1314,375.55 L1307.89,379.99 L1310.22,372.8 L1304.11,368.36 L1311.66,368.36ZM1319,360.39 L1321.34,367.58 L1328.89,367.58 L1322.78,372.02 L1325.11,379.2 L1319,374.76 L1312.89,379.2 L1315.22,372.02 L1309.11,367.58 L1316.66,367.58ZM1324,359.61 L1326.34,366.79 L1333.89,366.79 L1327.78,371.23 L1330.11,378.42 L1324,373.98 L1317.89,378.42 L1320.22,371.23 L1314.11,366.79 L1321.66,366.79ZM1329,358.82 L1331.34,366.01 L1338.89,366.01 L1332.78,370.45 L1335.11,377.64 L1329,373.2 L1322.89,377.64 L1325.22,370.45 L1319.11,366.01 L1326.66,366.01ZM1334,358.04 L1336.34,365.23 L1343.89,365.23 L1337.78,369.67 L1340.11,376.85 L1334,372.41 L1327.89,376.85 L1330.22,369.67 L1324.11,365.23 L1331.66,365.23ZM1339,357.26 L1341.34,364.44 L1348.89,364.44 L1342.78,368.88 L1345.11,376.07 L1339,371.63 L1332.89,376.07 L1335.22,368.88 L1329.11,364.44 L1336.66,364.44ZM1344,356.13 L1346.34,363.31 L1353.89,363.31 L1347.78,367.75 L1350.11,374.94 L1344,370.5 L1337.89,374.94 L1340.22,367.75 L1334.11,363.31 L1341.66,363.31ZM1349,354.91 L1351.34,362.1 L1358.89,362.1 L1352.78,366.54 L1355.11,373.72 L1349,369.28 L1342.89,373.72 L1345.22,366.54 L1339.11,362.1 L1346.66,362.1ZM1354,353.69 L1356.34,360.88 L1363.89,360.88 L1357.78,365.32 L1360.11,372.51 L1354,368.07 L1347.89,372.51 L1350.22,365.32 L1344.11,360.88 L1351.66,360.88ZM1359,352.48 L1361.34,359.66 L1368.89,359.66 L1362.78,364.1 L1365.11,371.29 L1359,366.85 L1352.89,371.29 L1355.22,364.1 L1349.11,359.66 L1356.66,359.66ZM1364,351.26 L1366.34,358.45 L1373.89,358.45 L1367.78,362.89 L1370.11,370.07 L1364,365.63 L1357.89,370.07 L1360.22,362.89 L1354.11,358.45 L1361.66,358.45ZM1369,350.04 L1371.34,357.23 L1378.89,357.23 L1372.78,361.67 L1375.11,368.86 L1369,364.42 L1362.89,368.86 L1365.22,361.67 L1359.11,357.23 L1366.66,357.23ZM1374,349.37 L1376.34,356.55 L1383.89,356.55 L1377.78,361 L1380.11,368.18 L1374,363.74 L1367.89,368.18 L1370.22,361 L1364.11,356.55 L1371.66,356.55ZM1379,348.83 L1381.34,356.01 L1388.89,356.01 L1382.78,360.46 L1385.11,367.64 L1379,363.2 L1372.89,367.64 L1375.22,360.46 L1369.11,356.01 L1376.66,356.01ZM1384,348.29 L1386.34,355.47 L1393.89,355.47 L1387.78,359.92 L1390.11,367.1 L1384,362.66 L1377.89,367.1 L1380.22,359.92 L1374.11,355.47 L1381.66,355.47ZM1389,347.75 L1391.34,354.93 L1398.89,354.93 L1392.78,359.38 L1395.11,366.56 L1389,362.12 L1382.89,366.56 L1385.22,359.38 L1379.11,354.93 L1386.66,354.93ZM1394,347.21 L1396.34,354.39 L1403.89,354.39 L1397.78,358.84 L1400.11,366.02 L1394,361.58 L1387.89,366.02 L1390.22,358.84 L1384.11,354.39 L1391.66,354.39ZM1399,347.37 L1401.34,354.56 L1408.89,354.56 L1402.78,359 L1405.11,366.19 L1399,361.74 L1392.89,366.19 L1395.22,359 L1389.11,354.56 L1396.66,354.56ZM1404,347.71 L1406.34,354.9 L1413.89,354.9 L1407.78,359.34 L1410.11,366.53 L1404,362.08 L1397.89,366.53 L1400.22,359.34 L1394.11,354.9 L1401.66,354.9ZM1409,348.05 L1411.34,355.24 L1418.89,355.24 L1412.78,359.68 L1415.11,366.87 L1409,362.42 L1402.89,366.87 L1405.22,359.68 L1399.11,355.24 L1406.66,355.24ZM1414,348.39 L1416.34,355.58 L1423.89,355.58 L1417.78,360.02 L1420.11,367.21 L1414,362.76 L1407.89,367.21 L1410.22,360.02 L1404.11,355.58 L1411.66,355.58ZM1419,348.73 L1421.34,355.92 L1428.89,355.92 L1422.78,360.36 L1425.11,367.55 L1419,363.1 L1412.89,367.55 L1415.22,360.36 L1409.11,355.92 L1416.66,355.92ZM1424,350.93 L1426.34,358.12 L1433.89,358.12 L1427.78,362.56 L1430.11,369.75 L1424,365.31 L1417.89,369.75 L1420.22,362.56 L1414.11,358.12 L1421.66,358.12ZM1429,353.6 L1431.34,360.79 L1438.89,360.79 L1432.78,365.23 L1435.11,372.41 L1429,367.97 L1422.89,372.41 L1425.22,365.23 L1419.11,360.79 L1426.66,360.79ZM1434,356.27 L1436.34,363.45 L1443.89,363.45 L1437.78,367.89 L1440.11,375.08 L1434,370.64 L1427.89,375.08 L1430.22,367.89 L1424.11,363.45 L1431.66,363.45ZM1439,360.18 L1441.34,367.37 L1448.89,367.37 L1442.78,371.81 L1445.11,379 L1439,374.56 L1432.89,379 L1435.22,371.81 L1429.11,367.37 L1436.66,367.37ZM1444,364.42 L1446.34,371.6 L1453.89,371.6 L1447.78,376.04 L1450.11,383.23 L1444,378.79 L1437.89,383.23 L1440.22,376.04 L1434.11,371.6 L1441.66,371.6ZM1449,368.8 L1451.34,375.99 L1458.89,375.99 L1452.78,380.43 L1455.11,387.61 L1449,383.17 L1442.89,387.61 L1445.22,380.43 L1439.11,375.99 L1446.66,375.99ZM1454,373.8 L1456.34,380.99 L1463.89,380.99 L1457.78,385.43 L1460.11,392.61 L1454,388.17 L1447.89,392.61 L1450.22,385.43 L1444.11,380.99 L1451.66,380.99ZM1459,378.8 L1461.34,385.99 L1468.89,385.99 L1462.78,390.43 L1465.11,397.61 L1459,393.17 L1452.89,397.61 L1455.22,390.43 L1449.11,385.99 L1456.66,385.99Z" fill="#d6336b"/>
<path d="M1303.87,252.95 L1287.42,243.45 L1287.42,262.45ZM1310.07,252.62 L1293.62,243.12 L1293.62,262.12ZM1316.27,252.29 L1299.82,242.79 L1299.82,261.79ZM1322.47,251.96 L1306.02,242.46 L1306.02,261.46ZM1328.67,251.63 L1312.22,242.13 L1312.22,261.13ZM1334.87,251.3 L1318.42,241.8 L1318.42,260.8ZM1341.07,250.97 L1324.62,241.47 L1324.62,260.47ZM1347.27,250.64 L1330.82,241.14 L1330.82,260.14ZM1353.47,250.35 L1337.02,240.85 L1337.02,259.85ZM1359.67,250.09 L1343.22,240.59 L1343.22,259.59ZM1365.87,249.83 L1349.42,240.33 L1349.42,259.33ZM1372.07,249.57 L1355.62,240.07 L1355.62,259.07ZM1378.27,249.32 L1361.82,239.82 L1361.82,258.82ZM1384.47,249.06 L1368.02,239.56 L1368.02,258.56ZM1390.67,248.8 L1374.22,239.3 L1374.22,258.3ZM1396.87,248.54 L1380.42,239.04 L1380.42,258.04ZM1403.07,248.28 L1386.62,238.78 L1386.62,257.78ZM1409.27,248.02 L1392.82,238.52 L1392.82,257.52ZM1415.47,247.72 L1399.02,238.22 L1399.02,257.22ZM1421.67,247.41 L1405.22,237.91 L1405.22,256.91ZM1427.87,247.1 L1411.42,237.6 L1411.42,256.6ZM1434.07,246.79 L1417.62,237.29 L1417.62,256.29ZM1440.27,246.48 L1423.82,236.98 L1423.82,255.98ZM1446.47,246.17 L1430.02,236.67 L1430.02,255.67ZM1452.67,245.79 L1436.22,236.29 L1436.22,255.29ZM1458.87,245.32 L1442.42,235.82 L1442.42,254.82ZM1465.07,244.86 L1448.62,235.36 L1448.62,254.36ZM1471.27,244.39 L1454.82,234.89 L1454.82,253.89Z" fill="#6ea12a"/>
<path d="M1309.95,251 L1290.03,239.5 L1290.03,262.5ZM1321.95,246 L1302.03,234.5 L1302.03,257.5Z" fill="#6ea12a"/>
<path d="M1481.47,242.5 L1460.69,230.5 L1460.69,254.5Z" fill="#6ea12a"/>
<path d="M1345.5,203.01 a10,10 0 1,0 20,0 a10,10 0 1,0 -20,0ZM1348,203.09 a10,10 0 1,0 20,0 a10,10 0 1,0 -20,0ZM1350.5,203.16 a10,10 0 1,0 20,0 a10,10 0 1,0 -20,0ZM1353,203.23 a10,10 0 1,0 20,0 a10,10 0 1,0 -20,0ZM1355.5,203.31 a10,10 0 1,0 20,0 a10,10 0 1,0 -20,0ZM1358,203.38 a10,10 0 1,0 20,0 a10,10 0 1,0 -20,0ZM1360.5,203.45 a10,10 0 1,0 20,0 a10,10 0 1,0 -20,0ZM1363,203.53 a10,10 0 1,0 20,0 a10,10 0 1,0 -20,0ZM1365.5,203.6 a10,10 0 1,0 20,0 a10,10 0 1,0 -20,0ZM1368,203.67 a10,10 0 1,0 20,0 a10,10 0 1,0 -20,0ZM1370.5,203.74 a10,10 0 1,0 20,0 a10,10 0 1,0 -20,0ZM1373,203.82 a10,10 0 1,0 20,0 a10,10 0 1,0 -20,0ZM1375.5,203.89 a10,10 0 1,0 20,0 a10,10 0 1,0 -20,0ZM1378,203.96 a10,10 0 1,0 20,0 a10,10 0 1,0 -20,0ZM1380.5,204.04 a10,10 0 1,0 20,0 a10,10 0 1,0 -20,0ZM1383,204.11 a10,10 0 1,0 20,0 a10,10 0 1,0 -20,0ZM1385.5,204.18 a10,10 0 1,0 20,0 a10,10 0 1,0 -20,0ZM1388,204.26 a10,10 0 1,0 20,0 a10,10 0 1,0 -20,0ZM1390.5,204.2 a10,10 0 1,0 20,0 a10,10 0 1,0 -20,0ZM1393,203.96 a10,10 0 1,0 20,0 a10,10 0 1,0 -20,0ZM1395.5,203.72 a10,10 0 1,0 20,0 a10,10 0 1,0 -20,0ZM1398,203.48 a10,10 0 1,0 20,0 a10,10 0 1,0 -20,0ZM1400.5,203.24 a10,10 0 1,0 20,0 a10,10 0 1,0 -20,0ZM1403,202.99 a10,10 0 1,0 20,0 a10,10 0 1,0 -20,0ZM1405.5,202.75 a10,10 0 1,0 20,0 a10,10 0 1,0 -20,0ZM1408,202.51 a10,10 0 1,0 20,0 a10,10 0 1,0 -20,0ZM1410.5,202.27 a10,10 0 1,0 20,0 a10,10 0 1,0 -20,0ZM1413,202.03 a10,10 0 1,0 20,0 a10,10 0 1,0 -20,0ZM1415.5,201.78 a10,10 0 1,0 20,0 a10,10 0 1,0 -20,0ZM1418,201.54 a10,10 0 1,0 20,0 a10,10 0 1,0 -20,0ZM1420.5,201.3 a10,10 0 1,0 20,0 a10,10 0 1,0 -20,0ZM1423,201.06 a10,10 0 1,0 20,0 a10,10 0 1,0 -20,0ZM1425.5,200.82 a10,10 0 1,0 20,0 a10,10 0 1,0 -20,0ZM1428,200.57 a10,10 0 1,0 20,0 a10,10 0 1,0 -20,0ZM1430.5,200.33 a10,10 0 1,0 20,0 a10,10 0 1,0 -20,0ZM1433,200.09 a10,10 0 1,0 20,0 a10,10 0 1,0 -20,0ZM1435.5,199.85 a10,10 0 1,0 20,0 a10,10 0 1,0 -20,0ZM1438,199.61 a10,10 0 1,0 20,0 a10,10 0 1,0 -20,0ZM1440.5,199.38 a10,10 0 1,0 20,0 a10,10 0 1,0 -20,0ZM1443,199.15 a10,10 0 1,0 20,0 a10,10 0 1,0 -20,0ZM1445.5,198.91 a10,10 0 1,0 20,0 a10,10 0 1,0 -20,0ZM1448,198.68 a10,10 0 1,0 20,0 a10,10 0 1,0 -20,0ZM1450.5,198.44 a10,10 0 1,0 20,0 a10,10 0 1,0 -20,0ZM1453,198.21 a10,10 0 1,0 20,0 a10,10 0 1,0 -20,0ZM1455.5,197.98 a10,10 0 1,0 20,0 a10,10 0 1,0 -20,0ZM1458,197.74 a10,10 0 1,0 20,0 a10,10 0 1,0 -20,0ZM1460.5,197.51 a10,10 0 1,0 20,0 a10,10 0 1,0 -20,0ZM1463,197.28 a10,10 0 1,0 20,0 a10,10 0 1,0 -20,0ZM1465.5,197.04 a10,10 0 1,0 20,0 a10,10 0 1,0 -20,0ZM1468,196.81 a10,10 0 1,0 20,0 a10,10 0 1,0 -20,0ZM1470.5,196.57 a10,10 0 1,0 20,0 a10,10 0 1,0 -20,0ZM1473,196.34 a10,10 0 1,0 20,0 a10,10 0 1,0 -20,0ZM1475.5,196.11 a10,10 0 1,0 20,0 a10,10 0 1,0 -20,0ZM1478,195.87 a10,10 0 1,0 20,0 a10,10 0 1,0 -20,0ZM1480.5,195.64 a10,10 0 1,0 20,0 a10,10 0 1,0 -20,0Z" fill="#abd9ed"/>
<path d="M1345.5,199.68 a10,10 0 1,0 20,0 a10,10 0 1,0 -20,0ZM1348,199.56 a10,10 0 1,0 20,0 a10,10 0 1,0 -20,0ZM1350.5,199.44 a10,10 0 1,0 20,0 a10,10 0 1,0 -20,0ZM1353,199.32 a10,10 0 1,0 20,0 a10,10 0 1,0 -20,0ZM1355.5,199.2 a10,10 0 1,0 20,0 a10,10 0 1,0 -20,0ZM1358,199.09 a10,10 0 1,0 20,0 a10,10 0 1,0 -20,0ZM1360.5,198.97 a10,10 0 1,0 20,0 a10,10 0 1,0 -20,0ZM1363,198.85 a10,10 0 1,0 20,0 a10,10 0 1,0 -20,0ZM1365.5,198.73 a10,10 0 1,0 20,0 a10,10 0 1,0 -20,0ZM1368,198.61 a10,10 0 1,0 20,0 a10,10 0 1,0 -20,0ZM1370.5,198.5 a10,10 0 1,0 20,0 a10,10 0 1,0 -20,0ZM1373,198.38 a10,10 0 1,0 20,0 a10,10 0 1,0 -20,0ZM1375.5,198.26 a10,10 0 1,0 20,0 a10,10 0 1,0 -20,0ZM1378,198.14 a10,10 0 1,0 20,0 a10,10 0 1,0 -20,0ZM1380.5,198.02 a10,10 0 1,0 20,0 a10,10 0 1,0 -20,0ZM1383,197.91 a10,10 0 1,0 20,0 a10,10 0 1,0 -20,0ZM1385.5,197.79 a10,10 0 1,0 20,0 a10,10 0 1,0 -20,0ZM1388,197.67 a10,10 0 1,0 20,0 a10,10 0 1,0 -20,0ZM1390.5,197.57 a10,10 0 1,0 20,0 a10,10 0 1,0 -20,0ZM1393,197.49 a10,10 0 1,0 20,0 a10,10 0 1,0 -20,0ZM1395.5,197.41 a10,10 0 1,0 20,0 a10,10 0 1,0 -20,0ZM1398,197.33 a10,10 0 1,0 20,0 a10,10 0 1,0 -20,0ZM1400.5,197.25 a10,10 0 1,0 20,0 a10,10 0 1,0 -20,0ZM1403,197.16 a10,10 0 1,0 20,0 a10,10 0 1,0 -20,0ZM1405.5,197.08 a10,10 0 1,0 20,0 a10,10 0 1,0 -20,0ZM1408,197 a10,10 0 1,0 20,0 a10,10 0 1,0 -20,0ZM1410.5,196.92 a10,10 0 1,0 20,0 a10,10 0 1,0 -20,0ZM1413,196.84 a10,10 0 1,0 20,0 a10,10 0 1,0 -20,0ZM1415.5,196.76 a10,10 0 1,0 20,0 a10,10 0 1,0 -20,0ZM1418,196.68 a10,10 0 1,0 20,0 a10,10 0 1,0 -20,0ZM1420.5,196.6 a10,10 0 1,0 20,0 a10,10 0 1,0 -20,0ZM1423,196.52 a10,10 0 1,0 20,0 a10,10 0 1,0 -20,0ZM1425.5,196.44 a10,10 0 1,0 20,0 a10,10 0 1,0 -20,0ZM1428,196.36 a10,10 0 1,0 20,0 a10,10 0 1,0 -20,0ZM1430.5,196.28 a10,10 0 1,0 20,0 a10,10 0 1,0 -20,0ZM1433,196.2 a10,10 0 1,0 20,0 a10,10 0 1,0 -20,0ZM1435.5,196.12 a10,10 0 1,0 20,0 a10,10 0 1,0 -20,0ZM1438,196.01 a10,10 0 1,0 20,0 a10,10 0 1,0 -20,0ZM1440.5,195.9 a10,10 0 1,0 20,0 a10,10 0 1,0 -20,0ZM1443,195.8 a10,10 0 1,0 20,0 a10,10 0 1,0 -20,0ZM1445.5,195.69 a10,10 0 1,0 20,0 a10,10 0 1,0 -20,0ZM1448,195.58 a10,10 0 1,0 20,0 a10,10 0 1,0 -20,0ZM1450.5,195.47 a10,10 0 1,0 20,0 a10,10 0 1,0 -20,0ZM1453,195.36 a10,10 0 1,0 20,0 a10,10 0 1,0 -20,0ZM1455.5,195.25 a10,10 0 1,0 20,0 a10,10 0 1,0 -20,0ZM1458,195.14 a10,10 0 1,0 20,0 a10,10 0 1,0 -20,0ZM1460.5,195.03 a10,10 0 1,0 20,0 a10,10 0 1,0 -20,0ZM1463,194.93 a10,10 0 1,0 20,0 a10,10 0 1,0 -20,0ZM1465.5,194.82 a10,10 0 1,0 20,0 a10,10 0 1,0 -20,0ZM1468,194.71 a10,10 0 1,0 20,0 a10,10 0 1,0 -20,0ZM1470.5,194.6 a10,10 0 1,0 20,0 a10,10 0 1,0 -20,0ZM1473,194.49 a10,10 0 1,0 20,0 a10,10 0 1,0 -20,0ZM1475.5,194.38 a10,10 0 1,0 20,0 a10,10 0 1,0 -20,0ZM1478,194.27 a10,10 0 1,0 20,0 a10,10 0 1,0 -20,0ZM1480.5,194.17 a10,10 0 1,0 20,0 a10,10 0 1,0 -20,0Z" fill="#abd9ed"/>
</g>
<g clip-path="url(#clipD)">
<path d="M1346.25,540.3 a7.75,7.75 0 1,0 15.5,0 a7.75,7.75 0 1,0 -15.5,0ZM1348.75,540.01 a7.75,7.75 0 1,0 15.5,0 a7.75,7.75 0 1,0 -15.5,0ZM1351.25,539.71 a7.75,7.75 0 1,0 15.5,0 a7.75,7.75 0 1,0 -15.5,0ZM1353.75,539.41 a7.75,7.75 0 1,0 15.5,0 a7.75,7.75 0 1,0 -15.5,0ZM1356.25,539.11 a7.75,7.75 0 1,0 15.5,0 a7.75,7.75 0 1,0 -15.5,0ZM1358.75,538.81 a7.75,7.75 0 1,0 15.5,0 a7.75,7.75 0 1,0 -15.5,0ZM1361.25,538.51 a7.75,7.75 0 1,0 15.5,0 a7.75,7.75 0 1,0 -15.5,0ZM1363.75,538.2 a7.75,7.75 0 1,0 15.5,0 a7.75,7.75 0 1,0 -15.5,0ZM1366.25,537.94 a7.75,7.75 0 1,0 15.5,0 a7.75,7.75 0 1,0 -15.5,0ZM1368.75,537.75 a7.75,7.75 0 1,0 15.5,0 a7.75,7.75 0 1,0 -15.5,0ZM1371.25,537.56 a7.75,7.75 0 1,0 15.5,0 a7.75,7.75 0 1,0 -15.5,0ZM1373.75,537.37 a7.75,7.75 0 1,0 15.5,0 a7.75,7.75 0 1,0 -15.5,0ZM1376.25,537.18 a7.75,7.75 0 1,0 15.5,0 a7.75,7.75 0 1,0 -15.5,0ZM1378.75,536.95 a7.75,7.75 0 1,0 15.5,0 a7.75,7.75 0 1,0 -15.5,0ZM1381.25,536.69 a7.75,7.75 0 1,0 15.5,0 a7.75,7.75 0 1,0 -15.5,0ZM1383.75,536.43 a7.75,7.75 0 1,0 15.5,0 a7.75,7.75 0 1,0 -15.5,0ZM1386.25,536.17 a7.75,7.75 0 1,0 15.5,0 a7.75,7.75 0 1,0 -15.5,0ZM1388.75,535.92 a7.75,7.75 0 1,0 15.5,0 a7.75,7.75 0 1,0 -15.5,0ZM1391.25,535.68 a7.75,7.75 0 1,0 15.5,0 a7.75,7.75 0 1,0 -15.5,0ZM1393.75,535.56 a7.75,7.75 0 1,0 15.5,0 a7.75,7.75 0 1,0 -15.5,0ZM1396.25,535.43 a7.75,7.75 0 1,0 15.5,0 a7.75,7.75 0 1,0 -15.5,0ZM1398.75,535.31 a7.75,7.75 0 1,0 15.5,0 a7.75,7.75 0 1,0 -15.5,0ZM1401.25,535.19 a7.75,7.75 0 1,0 15.5,0 a7.75,7.75 0 1,0 -15.5,0ZM1403.75,535.06 a7.75,7.75 0 1,0 15.5,0 a7.75,7.75 0 1,0 -15.5,0ZM1406.25,534.94 a7.75,7.75 0 1,0 15.5,0 a7.75,7.75 0 1,0 -15.5,0ZM1408.75,534.81 a7.75,7.75 0 1,0 15.5,0 a7.75,7.75 0 1,0 -15.5,0ZM1411.25,534.74 a7.75,7.75 0 1,0 15.5,0 a7.75,7.75 0 1,0 -15.5,0ZM1413.75,534.68 a7.75,7.75 0 1,0 15.5,0 a7.75,7.75 0 1,0 -15.5,0ZM1416.25,534.61 a7.75,7.75 0 1,0 15.5,0 a7.75,7.75 0 1,0 -15.5,0ZM1418.75,534.55 a7.75,7.75 0 1,0 15.5,0 a7.75,7.75 0 1,0 -15.5,0ZM1421.25,534.49 a7.75,7.75 0 1,0 15.5,0 a7.75,7.75 0 1,0 -15.5,0ZM1423.75,534.42 a7.75,7.75 0 1,0 15.5,0 a7.75,7.75 0 1,0 -15.5,0ZM1426.25,534.32 a7.75,7.75 0 1,0 15.5,0 a7.75,7.75 0 1,0 -15.5,0ZM1428.75,534.19 a7.75,7.75 0 1,0 15.5,0 a7.75,7.75 0 1,0 -15.5,0ZM1431.25,534.07 a7.75,7.75 0 1,0 15.5,0 a7.75,7.75 0 1,0 -15.5,0ZM1433.75,533.95 a7.75,7.75 0 1,0 15.5,0 a7.75,7.75 0 1,0 -15.5,0ZM1436.25,533.82 a7.75,7.75 0 1,0 15.5,0 a7.75,7.75 0 1,0 -15.5,0ZM1438.75,533.7 a7.75,7.75 0 1,0 15.5,0 a7.75,7.75 0 1,0 -15.5,0ZM1441.25,533.57 a7.75,7.75 0 1,0 15.5,0 a7.75,7.75 0 1,0 -15.5,0ZM1443.75,533.45 a7.75,7.75 0 1,0 15.5,0 a7.75,7.75 0 1,0 -15.5,0ZM1446.25,533.32 a7.75,7.75 0 1,0 15.5,0 a7.75,7.75 0 1,0 -15.5,0ZM1448.75,533.19 a7.75,7.75 0 1,0 15.5,0 a7.75,7.75 0 1,0 -15.5,0ZM1451.25,533.06 a7.75,7.75 0 1,0 15.5,0 a7.75,7.75 0 1,0 -15.5,0ZM1453.75,532.93 a7.75,7.75 0 1,0 15.5,0 a7.75,7.75 0 1,0 -15.5,0ZM1456.25,532.8 a7.75,7.75 0 1,0 15.5,0 a7.75,7.75 0 1,0 -15.5,0ZM1458.75,532.75 a7.75,7.75 0 1,0 15.5,0 a7.75,7.75 0 1,0 -15.5,0ZM1461.25,532.98 a7.75,7.75 0 1,0 15.5,0 a7.75,7.75 0 1,0 -15.5,0ZM1463.75,533.2 a7.75,7.75 0 1,0 15.5,0 a7.75,7.75 0 1,0 -15.5,0ZM1466.25,533.42 a7.75,7.75 0 1,0 15.5,0 a7.75,7.75 0 1,0 -15.5,0ZM1468.75,533.64 a7.75,7.75 0 1,0 15.5,0 a7.75,7.75 0 1,0 -15.5,0ZM1471.25,533.87 a7.75,7.75 0 1,0 15.5,0 a7.75,7.75 0 1,0 -15.5,0ZM1473.75,534.09 a7.75,7.75 0 1,0 15.5,0 a7.75,7.75 0 1,0 -15.5,0ZM1476.25,534.31 a7.75,7.75 0 1,0 15.5,0 a7.75,7.75 0 1,0 -15.5,0ZM1478.75,534.78 a7.75,7.75 0 1,0 15.5,0 a7.75,7.75 0 1,0 -15.5,0ZM1481.25,535.41 a7.75,7.75 0 1,0 15.5,0 a7.75,7.75 0 1,0 -15.5,0ZM1483.75,536.04 a7.75,7.75 0 1,0 15.5,0 a7.75,7.75 0 1,0 -15.5,0ZM1486.25,536.67 a7.75,7.75 0 1,0 15.5,0 a7.75,7.75 0 1,0 -15.5,0Z" fill="#abd9ed"/>
<path d="M1345.25,566.8 a7.75,7.75 0 1,0 15.5,0 a7.75,7.75 0 1,0 -15.5,0ZM1347.75,567.48 a7.75,7.75 0 1,0 15.5,0 a7.75,7.75 0 1,0 -15.5,0ZM1350.25,568.22 a7.75,7.75 0 1,0 15.5,0 a7.75,7.75 0 1,0 -15.5,0ZM1352.75,568.97 a7.75,7.75 0 1,0 15.5,0 a7.75,7.75 0 1,0 -15.5,0ZM1355.25,569.57 a7.75,7.75 0 1,0 15.5,0 a7.75,7.75 0 1,0 -15.5,0ZM1357.75,569.83 a7.75,7.75 0 1,0 15.5,0 a7.75,7.75 0 1,0 -15.5,0ZM1360.25,570.1 a7.75,7.75 0 1,0 15.5,0 a7.75,7.75 0 1,0 -15.5,0ZM1362.75,570.36 a7.75,7.75 0 1,0 15.5,0 a7.75,7.75 0 1,0 -15.5,0ZM1365.25,570.62 a7.75,7.75 0 1,0 15.5,0 a7.75,7.75 0 1,0 -15.5,0ZM1367.75,570.88 a7.75,7.75 0 1,0 15.5,0 a7.75,7.75 0 1,0 -15.5,0ZM1370.25,571.14 a7.75,7.75 0 1,0 15.5,0 a7.75,7.75 0 1,0 -15.5,0ZM1372.75,571.4 a7.75,7.75 0 1,0 15.5,0 a7.75,7.75 0 1,0 -15.5,0ZM1375.25,572.39 a7.75,7.75 0 1,0 15.5,0 a7.75,7.75 0 1,0 -15.5,0ZM1377.75,573.39 a7.75,7.75 0 1,0 15.5,0 a7.75,7.75 0 1,0 -15.5,0ZM1380.25,574.38 a7.75,7.75 0 1,0 15.5,0 a7.75,7.75 0 1,0 -15.5,0ZM1382.75,575.38 a7.75,7.75 0 1,0 15.5,0 a7.75,7.75 0 1,0 -15.5,0ZM1385.25,576.37 a7.75,7.75 0 1,0 15.5,0 a7.75,7.75 0 1,0 -15.5,0ZM1387.75,577.37 a7.75,7.75 0 1,0 15.5,0 a7.75,7.75 0 1,0 -15.5,0ZM1390.25,578.36 a7.75,7.75 0 1,0 15.5,0 a7.75,7.75 0 1,0 -15.5,0ZM1392.75,578.01 a7.75,7.75 0 1,0 15.5,0 a7.75,7.75 0 1,0 -15.5,0ZM1395.25,577.23 a7.75,7.75 0 1,0 15.5,0 a7.75,7.75 0 1,0 -15.5,0ZM1397.75,576.46 a7.75,7.75 0 1,0 15.5,0 a7.75,7.75 0 1,0 -15.5,0ZM1400.25,575.68 a7.75,7.75 0 1,0 15.5,0 a7.75,7.75 0 1,0 -15.5,0ZM1402.75,574.91 a7.75,7.75 0 1,0 15.5,0 a7.75,7.75 0 1,0 -15.5,0ZM1405.25,574.13 a7.75,7.75 0 1,0 15.5,0 a7.75,7.75 0 1,0 -15.5,0ZM1407.75,573.35 a7.75,7.75 0 1,0 15.5,0 a7.75,7.75 0 1,0 -15.5,0ZM1410.25,572.58 a7.75,7.75 0 1,0 15.5,0 a7.75,7.75 0 1,0 -15.5,0ZM1412.75,571.8 a7.75,7.75 0 1,0 15.5,0 a7.75,7.75 0 1,0 -15.5,0ZM1415.25,572.51 a7.75,7.75 0 1,0 15.5,0 a7.75,7.75 0 1,0 -15.5,0ZM1417.75,573.21 a7.75,7.75 0 1,0 15.5,0 a7.75,7.75 0 1,0 -15.5,0ZM1420.25,573.92 a7.75,7.75 0 1,0 15.5,0 a7.75,7.75 0 1,0 -15.5,0ZM1422.75,574.63 a7.75,7.75 0 1,0 15.5,0 a7.75,7.75 0 1,0 -15.5,0ZM1425.25,575.33 a7.75,7.75 0 1,0 15.5,0 a7.75,7.75 0 1,0 -15.5,0ZM1427.75,575.7 a7.75,7.75 0 1,0 15.5,0 a7.75,7.75 0 1,0 -15.5,0ZM1430.25,574.7 a7.75,7.75 0 1,0 15.5,0 a7.75,7.75 0 1,0 -15.5,0ZM1432.75,573.69 a7.75,7.75 0 1,0 15.5,0 a7.75,7.75 0 1,0 -15.5,0ZM1435.25,572.69 a7.75,7.75 0 1,0 15.5,0 a7.75,7.75 0 1,0 -15.5,0ZM1437.75,571.69 a7.75,7.75 0 1,0 15.5,0 a7.75,7.75 0 1,0 -15.5,0ZM1440.25,570.69 a7.75,7.75 0 1,0 15.5,0 a7.75,7.75 0 1,0 -15.5,0ZM1442.75,569.68 a7.75,7.75 0 1,0 15.5,0 a7.75,7.75 0 1,0 -15.5,0ZM1445.25,568.68 a7.75,7.75 0 1,0 15.5,0 a7.75,7.75 0 1,0 -15.5,0ZM1447.75,568.24 a7.75,7.75 0 1,0 15.5,0 a7.75,7.75 0 1,0 -15.5,0ZM1450.25,567.84 a7.75,7.75 0 1,0 15.5,0 a7.75,7.75 0 1,0 -15.5,0ZM1452.75,567.44 a7.75,7.75 0 1,0 15.5,0 a7.75,7.75 0 1,0 -15.5,0ZM1455.25,567.05 a7.75,7.75 0 1,0 15.5,0 a7.75,7.75 0 1,0 -15.5,0ZM1457.75,566.65 a7.75,7.75 0 1,0 15.5,0 a7.75,7.75 0 1,0 -15.5,0ZM1460.25,566.25 a7.75,7.75 0 1,0 15.5,0 a7.75,7.75 0 1,0 -15.5,0ZM1462.75,565.86 a7.75,7.75 0 1,0 15.5,0 a7.75,7.75 0 1,0 -15.5,0ZM1465.25,565.46 a7.75,7.75 0 1,0 15.5,0 a7.75,7.75 0 1,0 -15.5,0ZM1467.75,565.06 a7.75,7.75 0 1,0 15.5,0 a7.75,7.75 0 1,0 -15.5,0ZM1470.25,565 a7.75,7.75 0 1,0 15.5,0 a7.75,7.75 0 1,0 -15.5,0ZM1472.75,565 a7.75,7.75 0 1,0 15.5,0 a7.75,7.75 0 1,0 -15.5,0ZM1475.25,565 a7.75,7.75 0 1,0 15.5,0 a7.75,7.75 0 1,0 -15.5,0ZM1477.75,565 a7.75,7.75 0 1,0 15.5,0 a7.75,7.75 0 1,0 -15.5,0ZM1480.25,565 a7.75,7.75 0 1,0 15.5,0 a7.75,7.75 0 1,0 -15.5,0ZM1482.75,565 a7.75,7.75 0 1,0 15.5,0 a7.75,7.75 0 1,0 -15.5,0Z" fill="#abd9ed"/>
<path d="M1427.25,539.5 a7.75,7.75 0 1,0 15.5,0 a7.75,7.75 0 1,0 -15.5,0ZM1449.05,536.8 a7.75,7.75 0 1,0 15.5,0 a7.75,7.75 0 1,0 -15.5,0ZM1463.65,535 a7.75,7.75 0 1,0 15.5,0 a7.75,7.75 0 1,0 -15.5,0ZM1357.25,540 a7.75,7.75 0 1,0 15.5,0 a7.75,7.75 0 1,0 -15.5,0ZM1367.25,539 a7.75,7.75 0 1,0 15.5,0 a7.75,7.75 0 1,0 -15.5,0Z" fill="#abd9ed"/>
<polyline points="1176,638 1180,640 1192.5,652.7 1210,636 1225,643 1300,641" fill="none" stroke="#d7a6e7" stroke-width="2.2" stroke-linejoin="round" stroke-linecap="round" />
<path d="M1180,630.1 L1187.5,640 L1180,649.9 L1172.5,640ZM1192.5,642.8 L1200,652.7 L1192.5,662.6 L1185,652.7ZM1210,626.1 L1217.5,636 L1210,645.9 L1202.5,636ZM1225,633.1 L1232.5,643 L1225,652.9 L1217.5,643ZM1240,632.1 L1247.5,642 L1240,651.9 L1232.5,642ZM1257.5,631.1 L1265,641 L1257.5,650.9 L1250,641ZM1272.5,630.6 L1280,640.5 L1272.5,650.4 L1265,640.5ZM1290,630.6 L1297.5,640.5 L1290,650.4 L1282.5,640.5ZM1300,631.1 L1307.5,641 L1300,650.9 L1292.5,641ZM1305,631.2 L1312.5,641.1 L1305,651 L1297.5,641.1ZM1310,631.3 L1317.5,641.2 L1310,651.1 L1302.5,641.2ZM1315,631.4 L1322.5,641.3 L1315,651.2 L1307.5,641.3ZM1320,631.5 L1327.5,641.4 L1320,651.3 L1312.5,641.4ZM1325,631.6 L1332.5,641.5 L1325,651.4 L1317.5,641.5ZM1330,631.7 L1337.5,641.6 L1330,651.5 L1322.5,641.6ZM1335,631.8 L1342.5,641.7 L1335,651.6 L1327.5,641.7ZM1340,631.9 L1347.5,641.8 L1340,651.7 L1332.5,641.8ZM1345,632 L1352.5,641.9 L1345,651.8 L1337.5,641.9ZM1350,632.1 L1357.5,642 L1350,651.9 L1342.5,642ZM1355,631.89 L1362.5,641.79 L1355,651.69 L1347.5,641.79ZM1360,631.67 L1367.5,641.57 L1360,651.47 L1352.5,641.57ZM1365,631.46 L1372.5,641.36 L1365,651.26 L1357.5,641.36ZM1370,631.24 L1377.5,641.14 L1370,651.04 L1362.5,641.14ZM1375,631.03 L1382.5,640.93 L1375,650.83 L1367.5,640.93ZM1380,630.81 L1387.5,640.71 L1380,650.61 L1372.5,640.71ZM1385,630.6 L1392.5,640.5 L1385,650.4 L1377.5,640.5ZM1390,630.39 L1397.5,640.29 L1390,650.19 L1382.5,640.29ZM1395,630.17 L1402.5,640.07 L1395,649.97 L1387.5,640.07ZM1400,629.96 L1407.5,639.86 L1400,649.76 L1392.5,639.86ZM1405,629.74 L1412.5,639.64 L1405,649.54 L1397.5,639.64ZM1410,629.53 L1417.5,639.43 L1410,649.33 L1402.5,639.43ZM1415,629.31 L1422.5,639.21 L1415,649.11 L1407.5,639.21ZM1420,629.1 L1427.5,639 L1420,648.9 L1412.5,639ZM1425,629 L1432.5,638.9 L1425,648.8 L1417.5,638.9ZM1430,628.9 L1437.5,638.8 L1430,648.7 L1422.5,638.8ZM1435,628.8 L1442.5,638.7 L1435,648.6 L1427.5,638.7ZM1440,628.7 L1447.5,638.6 L1440,648.5 L1432.5,638.6ZM1445,628.6 L1452.5,638.5 L1445,648.4 L1437.5,638.5ZM1450,628.5 L1457.5,638.4 L1450,648.3 L1442.5,638.4ZM1455,628.4 L1462.5,638.3 L1455,648.2 L1447.5,638.3ZM1460,628.3 L1467.5,638.2 L1460,648.1 L1452.5,638.2ZM1465,628.2 L1472.5,638.1 L1465,648 L1457.5,638.1ZM1470,628.1 L1477.5,638 L1470,647.9 L1462.5,638ZM1475,628 L1482.5,637.9 L1475,647.8 L1467.5,637.9ZM1480,627.9 L1487.5,637.8 L1480,647.7 L1472.5,637.8ZM1485,627.8 L1492.5,637.7 L1485,647.6 L1477.5,637.7Z" fill="#d7a6e7"/>
<polyline points="1297.6,686 1314,682.1 1328.8,683.3 1343.9,685.4 1359.4,685.4 1374.8,686.6 1390.8,683 1406.8,679.1 1423.5,670.3" fill="none" stroke="#982e1b" stroke-width="2.5" stroke-linejoin="round" stroke-linecap="round" />
<path d="M1292.3,680.7 L1302.9,680.7 L1302.9,691.3 L1292.3,691.3ZM1308.7,676.8 L1319.3,676.8 L1319.3,687.4 L1308.7,687.4ZM1323.5,678 L1334.1,678 L1334.1,688.6 L1323.5,688.6ZM1338.6,680.1 L1349.2,680.1 L1349.2,690.7 L1338.6,690.7ZM1354.1,680.1 L1364.7,680.1 L1364.7,690.7 L1354.1,690.7ZM1369.5,681.3 L1380.1,681.3 L1380.1,691.9 L1369.5,691.9ZM1385.5,677.7 L1396.1,677.7 L1396.1,688.3 L1385.5,688.3ZM1401.5,673.8 L1412.1,673.8 L1412.1,684.4 L1401.5,684.4ZM1418.2,665 L1428.8,665 L1428.8,675.6 L1418.2,675.6Z" fill="#982e1b"/>
<path d="M1279,728.17 L1287.5,742.89 L1270.5,742.89ZM1294.5,728.05 L1303,742.77 L1286,742.77ZM1310,727.93 L1318.5,742.65 L1301.5,742.65ZM1325.5,727.81 L1334,742.53 L1317,742.53ZM1341,727.69 L1349.5,742.42 L1332.5,742.42ZM1356.5,727.58 L1365,742.3 L1348,742.3ZM1372,727.46 L1380.5,742.18 L1363.5,742.18ZM1387.5,727.34 L1396,742.06 L1379,742.06ZM1403,727.22 L1411.5,741.94 L1394.5,741.94Z" fill="#ecd65c"/>
<path d="M1299.46,720.99 L1290.36,715.74 L1290.36,726.24Z" fill="#6ea12a"/>
<path d="M1305.54,720.93 L1296.31,715.61 L1296.31,726.26Z" fill="#6ea12a"/>
<path d="M1311.62,720.88 L1302.25,715.47 L1302.25,726.29Z" fill="#6ea12a"/>
<path d="M1317.7,720.82 L1308.2,715.34 L1308.2,726.31Z" fill="#6ea12a"/>
<path d="M1323.78,720.77 L1314.15,715.2 L1314.15,726.33Z" fill="#6ea12a"/>
<path d="M1329.86,720.71 L1320.09,715.07 L1320.09,726.35Z" fill="#6ea12a"/>
<path d="M1335.95,720.65 L1326.04,714.93 L1326.04,726.38Z" fill="#6ea12a"/>
<path d="M1342.03,720.6 L1331.98,714.8 L1331.98,726.4Z" fill="#6ea12a"/>
<path d="M1348.11,720.54 L1337.93,714.66 L1337.93,726.42Z" fill="#6ea12a"/>
<path d="M1354.19,720.49 L1343.87,714.53 L1343.87,726.44Z" fill="#6ea12a"/>
<path d="M1360.27,720.43 L1349.82,714.4 L1349.82,726.46Z" fill="#6ea12a"/>
<path d="M1366.35,720.37 L1355.76,714.26 L1355.76,726.49Z" fill="#6ea12a"/>
<path d="M1372.43,720.32 L1361.71,714.13 L1361.71,726.51Z" fill="#6ea12a"/>
<path d="M1378.52,720.26 L1367.66,713.99 L1367.66,726.53Z" fill="#6ea12a"/>
<path d="M1384.6,720.21 L1373.6,713.86 L1373.6,726.55Z" fill="#6ea12a"/>
<path d="M1390.68,720.15 L1379.55,713.72 L1379.55,726.58Z" fill="#6ea12a"/>
<path d="M1396.76,720.09 L1385.49,713.59 L1385.49,726.6Z" fill="#6ea12a"/>
<path d="M1402.84,720.04 L1391.44,713.45 L1391.44,726.62Z" fill="#6ea12a"/>
<path d="M1408.92,719.99 L1397.38,713.33 L1397.38,726.65Z" fill="#6ea12a"/>
<path d="M1415.01,719.97 L1403.33,713.22 L1403.33,726.71Z" fill="#6ea12a"/>
<path d="M1421.09,719.94 L1409.28,713.12 L1409.28,726.76Z" fill="#6ea12a"/>
<path d="M1427.17,719.91 L1415.22,713.02 L1415.22,726.81Z" fill="#6ea12a"/>
<path d="M1433.25,719.89 L1421.17,712.91 L1421.17,726.87Z" fill="#6ea12a"/>
<path d="M1439.33,719.86 L1427.11,712.81 L1427.11,726.92Z" fill="#6ea12a"/>
<path d="M1445.41,719.84 L1433.06,712.7 L1433.06,726.97Z" fill="#6ea12a"/>
<path d="M1451.49,719.81 L1439,712.6 L1439,727.02Z" fill="#6ea12a"/>
<path d="M1457.58,719.79 L1444.95,712.5 L1444.95,727.08Z" fill="#6ea12a"/>
<path d="M1463.66,719.76 L1450.89,712.39 L1450.89,727.13Z" fill="#6ea12a"/>
<path d="M1469.74,719.73 L1456.84,712.29 L1456.84,727.18Z" fill="#6ea12a"/>
<path d="M1479.85,719.7 L1464.26,710.7 L1464.26,728.7Z" fill="#6ea12a"/>
<path d="M1181.4,721.6 L1188.9,731.5 L1181.4,741.4 L1173.9,731.5ZM1196.9,721.6 L1204.4,731.5 L1196.9,741.4 L1189.4,731.5ZM1212.4,721.6 L1219.9,731.5 L1212.4,741.4 L1204.9,731.5ZM1227.9,721.6 L1235.4,731.5 L1227.9,741.4 L1220.4,731.5ZM1243.4,721.6 L1250.9,731.5 L1243.4,741.4 L1235.9,731.5ZM1258.9,721.6 L1266.4,731.5 L1258.9,741.4 L1251.4,731.5ZM1274.4,721.6 L1281.9,731.5 L1274.4,741.4 L1266.9,731.5ZM1282,721.84 L1289.5,731.74 L1282,741.64 L1274.5,731.74ZM1287.5,722.02 L1295,731.92 L1287.5,741.82 L1280,731.92ZM1293,722.15 L1300.5,732.05 L1293,741.95 L1285.5,732.05ZM1298.5,722.25 L1306,732.15 L1298.5,742.05 L1291,732.15ZM1304,722.35 L1311.5,732.25 L1304,742.15 L1296.5,732.25ZM1309.5,722.45 L1317,732.35 L1309.5,742.25 L1302,732.35ZM1315,722.55 L1322.5,732.45 L1315,742.35 L1307.5,732.45ZM1320.5,722.65 L1328,732.55 L1320.5,742.45 L1313,732.55ZM1326,722.75 L1333.5,732.65 L1326,742.55 L1318.5,732.65ZM1331.5,722.85 L1339,732.75 L1331.5,742.65 L1324,732.75ZM1337,722.95 L1344.5,732.85 L1337,742.75 L1329.5,732.85ZM1342.5,723.05 L1350,732.95 L1342.5,742.85 L1335,732.95ZM1348,723.15 L1355.5,733.05 L1348,742.95 L1340.5,733.05ZM1353.5,723.25 L1361,733.15 L1353.5,743.05 L1346,733.15ZM1359,723.35 L1366.5,733.25 L1359,743.15 L1351.5,733.25ZM1364.5,723.45 L1372,733.35 L1364.5,743.25 L1357,733.35ZM1370,723.55 L1377.5,733.45 L1370,743.35 L1362.5,733.45ZM1375.5,723.65 L1383,733.55 L1375.5,743.45 L1368,733.55ZM1381,723.75 L1388.5,733.65 L1381,743.55 L1373.5,733.65ZM1386.5,723.85 L1394,733.75 L1386.5,743.65 L1379,733.75ZM1392,723.95 L1399.5,733.85 L1392,743.75 L1384.5,733.85ZM1397.5,724.05 L1405,733.95 L1397.5,743.85 L1390,733.95ZM1403,724.22 L1410.5,734.12 L1403,744.02 L1395.5,734.12ZM1408.5,724.43 L1416,734.33 L1408.5,744.23 L1401,734.33ZM1414,724.64 L1421.5,734.54 L1414,744.44 L1406.5,734.54ZM1419.5,724.85 L1427,734.75 L1419.5,744.65 L1412,734.75ZM1425,725.07 L1432.5,734.97 L1425,744.87 L1417.5,734.97ZM1430.5,725.28 L1438,735.18 L1430.5,745.08 L1423,735.18ZM1436,725.49 L1443.5,735.39 L1436,745.29 L1428.5,735.39ZM1441.5,725.7 L1449,735.6 L1441.5,745.5 L1434,735.6ZM1447,725.92 L1454.5,735.82 L1447,745.72 L1439.5,735.82ZM1452.5,726.13 L1460,736.03 L1452.5,745.93 L1445,736.03ZM1458,726.34 L1465.5,736.24 L1458,746.14 L1450.5,736.24ZM1463.5,726.56 L1471,736.46 L1463.5,746.36 L1456,736.46ZM1469,726.77 L1476.5,736.67 L1469,746.57 L1461.5,736.67Z" fill="#d7a6e7"/>
<path d="M1278.9,748.21 L1287.65,763.36 L1270.15,763.36ZM1294.5,748.21 L1303.25,763.36 L1285.75,763.36ZM1310.1,748.21 L1318.85,763.36 L1301.35,763.36ZM1325.7,748.21 L1334.45,763.36 L1316.95,763.36ZM1341.3,748.19 L1350.05,763.34 L1332.55,763.34ZM1356.9,747.06 L1365.65,762.21 L1348.15,762.21ZM1372.5,745.93 L1381.25,761.08 L1363.75,761.08ZM1388.1,744.94 L1396.85,760.1 L1379.35,760.1ZM1403.7,743.96 L1412.45,759.11 L1394.95,759.11Z" fill="#ecd65c"/>
<path d="M1273,761.26 L1275.22,768.09 L1282.4,768.09 L1276.59,772.31 L1278.81,779.13 L1273,774.91 L1267.19,779.13 L1269.41,772.31 L1263.6,768.09 L1270.78,768.09ZM1278.2,761.26 L1280.42,768.09 L1287.6,768.09 L1281.79,772.31 L1284.01,779.13 L1278.2,774.91 L1272.39,779.13 L1274.61,772.31 L1268.8,768.09 L1275.98,768.09ZM1283.4,761.26 L1285.62,768.09 L1292.8,768.09 L1286.99,772.31 L1289.21,779.13 L1283.4,774.91 L1277.59,779.13 L1279.81,772.31 L1274,768.09 L1281.18,768.09ZM1288.6,761.26 L1290.82,768.09 L1298,768.09 L1292.19,772.31 L1294.41,779.13 L1288.6,774.91 L1282.79,779.13 L1285.01,772.31 L1279.2,768.09 L1286.38,768.09ZM1293.8,761.26 L1296.02,768.09 L1303.2,768.09 L1297.39,772.31 L1299.61,779.13 L1293.8,774.91 L1287.99,779.13 L1290.21,772.31 L1284.4,768.09 L1291.58,768.09ZM1299,761.26 L1301.22,768.09 L1308.4,768.09 L1302.59,772.31 L1304.81,779.13 L1299,774.91 L1293.19,779.13 L1295.41,772.31 L1289.6,768.09 L1296.78,768.09ZM1304.2,761.05 L1306.42,767.88 L1313.6,767.88 L1307.79,772.1 L1310.01,778.92 L1304.2,774.7 L1298.39,778.92 L1300.61,772.1 L1294.8,767.88 L1301.98,767.88ZM1309.4,760.79 L1311.62,767.62 L1318.8,767.62 L1312.99,771.84 L1315.21,778.66 L1309.4,774.44 L1303.59,778.66 L1305.81,771.84 L1300,767.62 L1307.18,767.62ZM1314.6,760.53 L1316.82,767.36 L1324,767.36 L1318.19,771.58 L1320.41,778.4 L1314.6,774.18 L1308.79,778.4 L1311.01,771.58 L1305.2,767.36 L1312.38,767.36ZM1319.8,760.27 L1322.02,767.1 L1329.2,767.1 L1323.39,771.32 L1325.61,778.14 L1319.8,773.92 L1313.99,778.14 L1316.21,771.32 L1310.4,767.1 L1317.58,767.1ZM1325,760.01 L1327.22,766.84 L1334.4,766.84 L1328.59,771.06 L1330.81,777.88 L1325,773.66 L1319.19,777.88 L1321.41,771.06 L1315.6,766.84 L1322.78,766.84ZM1330.2,759.75 L1332.42,766.58 L1339.6,766.58 L1333.79,770.8 L1336.01,777.62 L1330.2,773.4 L1324.39,777.62 L1326.61,770.8 L1320.8,766.58 L1327.98,766.58ZM1335.4,759.49 L1337.62,766.32 L1344.8,766.32 L1338.99,770.54 L1341.21,777.36 L1335.4,773.14 L1329.59,777.36 L1331.81,770.54 L1326,766.32 L1333.18,766.32ZM1340.6,759.18 L1342.82,766.01 L1350,766.01 L1344.19,770.23 L1346.41,777.06 L1340.6,772.84 L1334.79,777.06 L1337.01,770.23 L1331.2,766.01 L1338.38,766.01ZM1345.8,758.53 L1348.02,765.36 L1355.2,765.36 L1349.39,769.58 L1351.61,776.41 L1345.8,772.19 L1339.99,776.41 L1342.21,769.58 L1336.4,765.36 L1343.58,765.36ZM1351,757.88 L1353.22,764.71 L1360.4,764.71 L1354.59,768.93 L1356.81,775.76 L1351,771.54 L1345.19,775.76 L1347.41,768.93 L1341.6,764.71 L1348.78,764.71ZM1356.2,757.23 L1358.42,764.06 L1365.6,764.06 L1359.79,768.28 L1362.01,775.11 L1356.2,770.89 L1350.39,775.11 L1352.61,768.28 L1346.8,764.06 L1353.98,764.06ZM1361.4,756.58 L1363.62,763.41 L1370.8,763.41 L1364.99,767.63 L1367.21,774.46 L1361.4,770.24 L1355.59,774.46 L1357.81,767.63 L1352,763.41 L1359.18,763.41ZM1366.6,755.93 L1368.82,762.76 L1376,762.76 L1370.19,766.98 L1372.41,773.81 L1366.6,769.59 L1360.79,773.81 L1363.01,766.98 L1357.2,762.76 L1364.38,762.76ZM1371.8,755.28 L1374.02,762.11 L1381.2,762.11 L1375.39,766.33 L1377.61,773.16 L1371.8,768.94 L1365.99,773.16 L1368.21,766.33 L1362.4,762.11 L1369.58,762.11ZM1377,754.63 L1379.22,761.46 L1386.4,761.46 L1380.59,765.68 L1382.81,772.51 L1377,768.29 L1371.19,772.51 L1373.41,765.68 L1367.6,761.46 L1374.78,761.46ZM1382.2,754.15 L1384.42,760.98 L1391.6,760.98 L1385.79,765.2 L1388.01,772.02 L1382.2,767.8 L1376.39,772.02 L1378.61,765.2 L1372.8,760.98 L1379.98,760.98ZM1387.4,753.89 L1389.62,760.72 L1396.8,760.72 L1390.99,764.94 L1393.21,771.76 L1387.4,767.54 L1381.59,771.76 L1383.81,764.94 L1378,760.72 L1385.18,760.72ZM1392.6,753.63 L1394.82,760.46 L1402,760.46 L1396.19,764.68 L1398.41,771.5 L1392.6,767.28 L1386.79,771.5 L1389.01,764.68 L1383.2,760.46 L1390.38,760.46ZM1397.8,753.37 L1400.02,760.2 L1407.2,760.2 L1401.39,764.42 L1403.61,771.24 L1397.8,767.02 L1391.99,771.24 L1394.21,764.42 L1388.4,760.2 L1395.58,760.2ZM1403,753.11 L1405.22,759.94 L1412.4,759.94 L1406.59,764.16 L1408.81,770.98 L1403,766.76 L1397.19,770.98 L1399.41,764.16 L1393.6,759.94 L1400.78,759.94ZM1408.2,752.85 L1410.42,759.68 L1417.6,759.68 L1411.79,763.9 L1414.01,770.72 L1408.2,766.5 L1402.39,770.72 L1404.61,763.9 L1398.8,759.68 L1405.98,759.68ZM1413.4,753.1 L1415.62,759.93 L1422.8,759.93 L1416.99,764.15 L1419.21,770.97 L1413.4,766.75 L1407.59,770.97 L1409.81,764.15 L1404,759.93 L1411.18,759.93ZM1418.6,753.62 L1420.82,760.45 L1428,760.45 L1422.19,764.67 L1424.41,771.49 L1418.6,767.27 L1412.79,771.49 L1415.01,764.67 L1409.2,760.45 L1416.38,760.45ZM1423.8,754.14 L1426.02,760.97 L1433.2,760.97 L1427.39,765.19 L1429.61,772.01 L1423.8,767.79 L1417.99,772.01 L1420.21,765.19 L1414.4,760.97 L1421.58,760.97ZM1429,754.66 L1431.22,761.49 L1438.4,761.49 L1432.59,765.71 L1434.81,772.53 L1429,768.31 L1423.19,772.53 L1425.41,765.71 L1419.6,761.49 L1426.78,761.49ZM1434.2,755.18 L1436.42,762.01 L1443.6,762.01 L1437.79,766.23 L1440.01,773.05 L1434.2,768.83 L1428.39,773.05 L1430.61,766.23 L1424.8,762.01 L1431.98,762.01ZM1439.4,756.65 L1441.62,763.48 L1448.8,763.48 L1442.99,767.7 L1445.21,774.53 L1439.4,770.31 L1433.59,774.53 L1435.81,767.7 L1430,763.48 L1437.18,763.48ZM1444.6,758.3 L1446.82,765.12 L1454,765.12 L1448.19,769.34 L1450.41,776.17 L1444.6,771.95 L1438.79,776.17 L1441.01,769.34 L1435.2,765.12 L1442.38,765.12ZM1449.8,759.94 L1452.02,766.77 L1459.2,766.77 L1453.39,770.99 L1455.61,777.82 L1449.8,773.6 L1443.99,777.82 L1446.21,770.99 L1440.4,766.77 L1447.58,766.77ZM1455,761.59 L1457.22,768.41 L1464.4,768.41 L1458.59,772.63 L1460.81,779.46 L1455,775.24 L1449.19,779.46 L1451.41,772.63 L1445.6,768.41 L1452.78,768.41ZM1460.2,763.23 L1462.42,770.06 L1469.6,770.06 L1463.79,774.28 L1466.01,781.11 L1460.2,776.89 L1454.39,781.11 L1456.61,774.28 L1450.8,770.06 L1457.98,770.06Z" fill="#d6336b"/>
</g>
<g clip-path="url(#clipE)">
<path d="M1636,665.7 C1640.72,665.53 1655.58,665.27 1664.3,664.7 C1673.02,664.13 1681.45,663.4 1688.3,662.3 C1695.15,661.2 1699.68,660.1 1705.4,658.1 C1711.12,656.1 1717.45,653.9 1722.6,650.3 C1727.75,646.7 1732.3,641.93 1736.3,636.5 C1740.3,631.07 1743.18,624.83 1746.6,617.7 C1750.02,610.57 1753.38,603.42 1756.8,593.7 C1760.22,583.98 1763.67,571.97 1767.1,559.4 C1770.53,546.83 1774.25,532.58 1777.4,518.3 C1780.55,504.02 1783.07,488.42 1786,473.7 C1788.93,458.98 1791.75,445.62 1795,430 C1798.25,414.38 1802.03,396.67 1805.5,380 C1808.97,363.33 1812.37,346.17 1815.8,330 C1819.23,313.83 1822.78,297.17 1826.1,283 C1829.42,268.83 1832.38,257.17 1835.7,245 C1839.02,232.83 1842.87,219.5 1846,210 C1849.13,200.5 1853.08,191.67 1854.5,188" fill="none" stroke="#999999" stroke-width="8.5" stroke-linejoin="round" stroke-linecap="round"/>
<path d="M1856.3,170.21 L1859.98,181.53 L1871.88,181.53 L1862.25,188.52 L1865.93,199.84 L1856.3,192.85 L1846.67,199.84 L1850.35,188.52 L1840.72,181.53 L1852.62,181.53ZM1846,191.11 L1849.68,202.43 L1861.58,202.43 L1851.95,209.42 L1855.63,220.74 L1846,213.75 L1836.37,220.74 L1840.05,209.42 L1830.42,202.43 L1842.32,202.43ZM1835.7,229.51 L1839.38,240.83 L1851.28,240.83 L1841.65,247.82 L1845.33,259.14 L1835.7,252.15 L1826.07,259.14 L1829.75,247.82 L1820.12,240.83 L1832.02,240.83ZM1865.2,247.71 L1868.88,259.03 L1880.78,259.03 L1871.15,266.02 L1874.83,277.34 L1865.2,270.35 L1855.57,277.34 L1859.25,266.02 L1849.62,259.03 L1861.52,259.03ZM1826.1,255.21 L1829.78,266.53 L1841.68,266.53 L1832.05,273.52 L1835.73,284.84 L1826.1,277.85 L1816.47,284.84 L1820.15,273.52 L1810.52,266.53 L1822.42,266.53ZM1815.8,291.91 L1819.48,303.23 L1831.38,303.23 L1821.75,310.22 L1825.43,321.54 L1815.8,314.55 L1806.17,321.54 L1809.85,310.22 L1800.22,303.23 L1812.12,303.23ZM1874.1,328.21 L1877.78,339.53 L1889.68,339.53 L1880.05,346.52 L1883.73,357.84 L1874.1,350.85 L1864.47,357.84 L1868.15,346.52 L1858.52,339.53 L1870.42,339.53ZM1805.5,344.31 L1809.18,355.63 L1821.08,355.63 L1811.45,362.62 L1815.13,373.94 L1805.5,366.95 L1795.87,373.94 L1799.55,362.62 L1789.92,355.63 L1801.82,355.63ZM1883.7,357.01 L1887.38,368.33 L1899.28,368.33 L1889.65,375.32 L1893.33,386.64 L1883.7,379.65 L1874.07,386.64 L1877.75,375.32 L1868.12,368.33 L1880.02,368.33ZM1794.6,436.91 L1798.28,448.23 L1810.18,448.23 L1800.55,455.22 L1804.23,466.54 L1794.6,459.55 L1784.97,466.54 L1788.65,455.22 L1779.02,448.23 L1790.92,448.23ZM1892.6,423.91 L1896.28,435.23 L1908.18,435.23 L1898.55,442.22 L1902.23,453.54 L1892.6,446.55 L1882.97,453.54 L1886.65,442.22 L1877.02,435.23 L1888.92,435.23ZM1785,470.21 L1788.68,481.53 L1800.58,481.53 L1790.95,488.52 L1794.63,499.84 L1785,492.85 L1775.37,499.84 L1779.05,488.52 L1769.42,481.53 L1781.32,481.53ZM1901.5,483.21 L1905.18,494.53 L1917.08,494.53 L1907.45,501.52 L1911.13,512.84 L1901.5,505.85 L1891.87,512.84 L1895.55,501.52 L1885.92,494.53 L1897.82,494.53ZM1775.4,502.11 L1779.08,513.43 L1790.98,513.43 L1781.35,520.42 L1785.03,531.74 L1775.4,524.75 L1765.77,531.74 L1769.45,520.42 L1759.82,513.43 L1771.72,513.43ZM1765.8,532.91 L1769.48,544.23 L1781.38,544.23 L1771.75,551.22 L1775.43,562.54 L1765.8,555.55 L1756.17,562.54 L1759.85,551.22 L1750.22,544.23 L1762.12,544.23ZM1910.4,553.51 L1914.08,564.83 L1925.98,564.83 L1916.35,571.82 L1920.03,583.14 L1910.4,576.15 L1900.77,583.14 L1904.45,571.82 L1894.82,564.83 L1906.72,564.83ZM1755.5,567.91 L1759.18,579.23 L1771.08,579.23 L1761.45,586.22 L1765.13,597.54 L1755.5,590.55 L1745.87,597.54 L1749.55,586.22 L1739.92,579.23 L1751.82,579.23ZM1745.5,584.31 L1749.18,595.63 L1761.08,595.63 L1751.45,602.62 L1755.13,613.94 L1745.5,606.95 L1735.87,613.94 L1739.55,602.62 L1729.92,595.63 L1741.82,595.63ZM1697.9,596.31 L1701.58,607.63 L1713.48,607.63 L1703.85,614.62 L1707.53,625.94 L1697.9,618.95 L1688.27,625.94 L1691.95,614.62 L1682.32,607.63 L1694.22,607.63ZM1688.3,605.91 L1691.98,617.23 L1703.88,617.23 L1694.25,624.22 L1697.93,635.54 L1688.3,628.55 L1678.67,635.54 L1682.35,624.22 L1672.72,617.23 L1684.62,617.23ZM1717.4,620.31 L1721.08,631.63 L1732.98,631.63 L1723.35,638.62 L1727.03,649.94 L1717.4,642.95 L1707.77,649.94 L1711.45,638.62 L1701.82,631.63 L1713.72,631.63ZM1736.3,626.21 L1739.98,637.53 L1751.88,637.53 L1742.25,644.52 L1745.93,655.84 L1736.3,648.85 L1726.67,655.84 L1730.35,644.52 L1720.72,637.53 L1732.62,637.53ZM1642,627.21 L1645.68,638.53 L1657.58,638.53 L1647.95,645.52 L1651.63,656.84 L1642,649.85 L1632.37,656.84 L1636.05,645.52 L1626.42,638.53 L1638.32,638.53ZM1678,632.31 L1681.68,643.63 L1693.58,643.63 L1683.95,650.62 L1687.63,661.94 L1678,654.95 L1668.37,661.94 L1672.05,650.62 L1662.42,643.63 L1674.32,643.63ZM1707.1,643.61 L1710.78,654.93 L1722.68,654.93 L1713.05,661.92 L1716.73,673.24 L1707.1,666.25 L1697.47,673.24 L1701.15,661.92 L1691.52,654.93 L1703.42,654.93ZM1919.7,647.11 L1923.38,658.43 L1935.28,658.43 L1925.65,665.42 L1929.33,676.74 L1919.7,669.75 L1910.07,676.74 L1913.75,665.42 L1904.12,658.43 L1916.02,658.43ZM1726,662.21 L1729.68,673.53 L1741.58,673.53 L1731.95,680.52 L1735.63,691.84 L1726,684.85 L1716.37,691.84 L1720.05,680.52 L1710.42,673.53 L1722.32,673.53ZM1668.4,683.11 L1672.08,694.43 L1683.98,694.43 L1674.35,701.42 L1678.03,712.74 L1668.4,705.75 L1658.77,712.74 L1662.45,701.42 L1652.82,694.43 L1664.72,694.43ZM1648.9,695.11 L1652.58,706.43 L1664.48,706.43 L1654.85,713.42 L1658.53,724.74 L1648.9,717.75 L1639.27,724.74 L1642.95,713.42 L1633.32,706.43 L1645.22,706.43ZM1658.1,709.51 L1661.78,720.83 L1673.68,720.83 L1664.05,727.82 L1667.73,739.14 L1658.1,732.15 L1648.47,739.14 L1652.15,727.82 L1642.52,720.83 L1654.42,720.83ZM1928.3,739.31 L1931.98,750.63 L1943.88,750.63 L1934.25,757.62 L1937.93,768.94 L1928.3,761.95 L1918.67,768.94 L1922.35,757.62 L1912.72,750.63 L1924.62,750.63Z" fill="#d6336b"/>
</g>
<path d="M643,811.5 a7.7,7.7 0 1,0 15.4,0 a7.7,7.7 0 1,0 -15.4,0Z" fill="#abd9ed"/>
<path d="M680.6,802.11 L683.28,806.76 L688.65,806.75 L685.96,811.4 L688.65,816.05 L683.28,816.04 L680.6,820.69 L677.92,816.04 L672.55,816.05 L675.24,811.4 L672.55,806.75 L677.92,806.76Z" fill="#abd9ed"/>
<path d="M697.85,811.4H715.15M706.5,802.75V820.05M700.1,805L712.9,817.8M700.1,817.8L712.9,805" stroke="#abd9ed" stroke-width="2.8" fill="none"/>
<path d="M650.8,830.13 L660.3,846.58 L641.3,846.58Z" fill="#ecd65c"/>
<path d="M644.8,863.6 L656.4,863.6 L656.4,875.2 L644.8,875.2Z" fill="#982e1b"/>
<path d="M660.61,900.2 L644.59,890.95 L644.59,909.45Z" fill="#6ea12a"/>
<path d="M650.8,921.7 L658.6,932 L650.8,942.3 L643,932Z" fill="#d7a6e7"/>
<path d="M650.5,954.66 L652.72,961.49 L659.9,961.49 L654.09,965.71 L656.31,972.53 L650.5,968.31 L644.69,972.53 L646.91,965.71 L641.1,961.49 L648.28,961.49Z" fill="#d6336b"/>
<line x1="175.8" y1="96.4" x2="175.8" y2="105.4" stroke="#3d3d3d" stroke-width="4.5" stroke-linecap="butt"/>
<line x1="175.8" y1="872.6" x2="175.8" y2="863.6" stroke="#3d3d3d" stroke-width="4.5" stroke-linecap="butt"/>
<line x1="331.15" y1="96.4" x2="331.15" y2="105.4" stroke="#3d3d3d" stroke-width="4.5" stroke-linecap="butt"/>
<line x1="331.15" y1="872.6" x2="331.15" y2="863.6" stroke="#3d3d3d" stroke-width="4.5" stroke-linecap="butt"/>
<line x1="486.5" y1="96.4" x2="486.5" y2="105.4" stroke="#3d3d3d" stroke-width="4.5" stroke-linecap="butt"/>
<line x1="486.5" y1="872.6" x2="486.5" y2="863.6" stroke="#3d3d3d" stroke-width="4.5" stroke-linecap="butt"/>
<line x1="175.8" y1="96.4" x2="183.8" y2="96.4" stroke="#3d3d3d" stroke-width="4.5" stroke-linecap="butt"/>
<line x1="486.5" y1="96.4" x2="478.5" y2="96.4" stroke="#3d3d3d" stroke-width="4.5" stroke-linecap="butt"/>
<line x1="175.8" y1="182.6" x2="183.8" y2="182.6" stroke="#3d3d3d" stroke-width="4.5" stroke-linecap="butt"/>
<line x1="486.5" y1="182.6" x2="478.5" y2="182.6" stroke="#3d3d3d" stroke-width="4.5" stroke-linecap="butt"/>
<line x1="175.8" y1="268.8" x2="183.8" y2="268.8" stroke="#3d3d3d" stroke-width="4.5" stroke-linecap="butt"/>
<line x1="486.5" y1="268.8" x2="478.5" y2="268.8" stroke="#3d3d3d" stroke-width="4.5" stroke-linecap="butt"/>
<line x1="175.8" y1="355" x2="183.8" y2="355" stroke="#3d3d3d" stroke-width="4.5" stroke-linecap="butt"/>
<line x1="486.5" y1="355" x2="478.5" y2="355" stroke="#3d3d3d" stroke-width="4.5" stroke-linecap="butt"/>
<line x1="175.8" y1="441.2" x2="183.8" y2="441.2" stroke="#3d3d3d" stroke-width="4.5" stroke-linecap="butt"/>
<line x1="486.5" y1="441.2" x2="478.5" y2="441.2" stroke="#3d3d3d" stroke-width="4.5" stroke-linecap="butt"/>
<line x1="175.8" y1="527.4" x2="183.8" y2="527.4" stroke="#3d3d3d" stroke-width="4.5" stroke-linecap="butt"/>
<line x1="486.5" y1="527.4" x2="478.5" y2="527.4" stroke="#3d3d3d" stroke-width="4.5" stroke-linecap="butt"/>
<line x1="175.8" y1="613.6" x2="183.8" y2="613.6" stroke="#3d3d3d" stroke-width="4.5" stroke-linecap="butt"/>
<line x1="486.5" y1="613.6" x2="478.5" y2="613.6" stroke="#3d3d3d" stroke-width="4.5" stroke-linecap="butt"/>
<line x1="175.8" y1="699.8" x2="183.8" y2="699.8" stroke="#3d3d3d" stroke-width="4.5" stroke-linecap="butt"/>
<line x1="486.5" y1="699.8" x2="478.5" y2="699.8" stroke="#3d3d3d" stroke-width="4.5" stroke-linecap="butt"/>
<line x1="175.8" y1="786" x2="183.8" y2="786" stroke="#3d3d3d" stroke-width="4.5" stroke-linecap="butt"/>
<line x1="486.5" y1="786" x2="478.5" y2="786" stroke="#3d3d3d" stroke-width="4.5" stroke-linecap="butt"/>
<line x1="175.8" y1="872.2" x2="183.8" y2="872.2" stroke="#3d3d3d" stroke-width="4.5" stroke-linecap="butt"/>
<line x1="486.5" y1="872.2" x2="478.5" y2="872.2" stroke="#3d3d3d" stroke-width="4.5" stroke-linecap="butt"/>
<rect x="175.8" y="96.4" width="310.7" height="776.2" fill="none" stroke="#3d3d3d" stroke-width="4.5" stroke-linejoin="miter"/>
<line x1="715" y1="94.2" x2="715" y2="102.2" stroke="#3d3d3d" stroke-width="4.5" stroke-linecap="butt"/>
<line x1="715" y1="727.5" x2="715" y2="719.5" stroke="#3d3d3d" stroke-width="4.5" stroke-linecap="butt"/>
<line x1="839.3" y1="94.2" x2="839.3" y2="102.2" stroke="#3d3d3d" stroke-width="4.5" stroke-linecap="butt"/>
<line x1="839.3" y1="727.5" x2="839.3" y2="719.5" stroke="#3d3d3d" stroke-width="4.5" stroke-linecap="butt"/>
<line x1="874.4" y1="94.2" x2="874.4" y2="102.2" stroke="#3d3d3d" stroke-width="4.5" stroke-linecap="butt"/>
<line x1="874.4" y1="727.5" x2="874.4" y2="719.5" stroke="#3d3d3d" stroke-width="4.5" stroke-linecap="butt"/>
<line x1="909.6" y1="94.2" x2="909.6" y2="102.2" stroke="#3d3d3d" stroke-width="4.5" stroke-linecap="butt"/>
<line x1="909.6" y1="727.5" x2="909.6" y2="719.5" stroke="#3d3d3d" stroke-width="4.5" stroke-linecap="butt"/>
<line x1="944.8" y1="94.2" x2="944.8" y2="102.2" stroke="#3d3d3d" stroke-width="4.5" stroke-linecap="butt"/>
<line x1="944.8" y1="727.5" x2="944.8" y2="719.5" stroke="#3d3d3d" stroke-width="4.5" stroke-linecap="butt"/>
<line x1="980.1" y1="94.2" x2="980.1" y2="102.2" stroke="#3d3d3d" stroke-width="4.5" stroke-linecap="butt"/>
<line x1="980.1" y1="727.5" x2="980.1" y2="719.5" stroke="#3d3d3d" stroke-width="4.5" stroke-linecap="butt"/>
<line x1="691.8" y1="94.2" x2="700.8" y2="94.2" stroke="#3d3d3d" stroke-width="4.5" stroke-linecap="butt"/>
<line x1="1004.8" y1="94.2" x2="995.8" y2="94.2" stroke="#3d3d3d" stroke-width="4.5" stroke-linecap="butt"/>
<line x1="691.8" y1="410.85" x2="700.8" y2="410.85" stroke="#3d3d3d" stroke-width="4.5" stroke-linecap="butt"/>
<line x1="1004.8" y1="410.85" x2="995.8" y2="410.85" stroke="#3d3d3d" stroke-width="4.5" stroke-linecap="butt"/>
<line x1="691.8" y1="727.5" x2="700.8" y2="727.5" stroke="#3d3d3d" stroke-width="4.5" stroke-linecap="butt"/>
<line x1="1004.8" y1="727.5" x2="995.8" y2="727.5" stroke="#3d3d3d" stroke-width="4.5" stroke-linecap="butt"/>
<line x1="691.8" y1="315.53" x2="696.6" y2="315.53" stroke="#3d3d3d" stroke-width="4.5" stroke-linecap="butt"/>
<line x1="1004.8" y1="315.53" x2="1000" y2="315.53" stroke="#3d3d3d" stroke-width="4.5" stroke-linecap="butt"/>
<line x1="691.8" y1="259.77" x2="696.6" y2="259.77" stroke="#3d3d3d" stroke-width="4.5" stroke-linecap="butt"/>
<line x1="1004.8" y1="259.77" x2="1000" y2="259.77" stroke="#3d3d3d" stroke-width="4.5" stroke-linecap="butt"/>
<line x1="691.8" y1="220.21" x2="696.6" y2="220.21" stroke="#3d3d3d" stroke-width="4.5" stroke-linecap="butt"/>
<line x1="1004.8" y1="220.21" x2="1000" y2="220.21" stroke="#3d3d3d" stroke-width="4.5" stroke-linecap="butt"/>
<line x1="691.8" y1="189.52" x2="696.6" y2="189.52" stroke="#3d3d3d" stroke-width="4.5" stroke-linecap="butt"/>
<line x1="1004.8" y1="189.52" x2="1000" y2="189.52" stroke="#3d3d3d" stroke-width="4.5" stroke-linecap="butt"/>
<line x1="691.8" y1="164.45" x2="696.6" y2="164.45" stroke="#3d3d3d" stroke-width="4.5" stroke-linecap="butt"/>
<line x1="1004.8" y1="164.45" x2="1000" y2="164.45" stroke="#3d3d3d" stroke-width="4.5" stroke-linecap="butt"/>
<line x1="691.8" y1="143.25" x2="696.6" y2="143.25" stroke="#3d3d3d" stroke-width="4.5" stroke-linecap="butt"/>
<line x1="1004.8" y1="143.25" x2="1000" y2="143.25" stroke="#3d3d3d" stroke-width="4.5" stroke-linecap="butt"/>
<line x1="691.8" y1="124.89" x2="696.6" y2="124.89" stroke="#3d3d3d" stroke-width="4.5" stroke-linecap="butt"/>
<line x1="1004.8" y1="124.89" x2="1000" y2="124.89" stroke="#3d3d3d" stroke-width="4.5" stroke-linecap="butt"/>
<line x1="691.8" y1="108.69" x2="696.6" y2="108.69" stroke="#3d3d3d" stroke-width="4.5" stroke-linecap="butt"/>
<line x1="1004.8" y1="108.69" x2="1000" y2="108.69" stroke="#3d3d3d" stroke-width="4.5" stroke-linecap="butt"/>
<line x1="691.8" y1="632.18" x2="696.6" y2="632.18" stroke="#3d3d3d" stroke-width="4.5" stroke-linecap="butt"/>
<line x1="1004.8" y1="632.18" x2="1000" y2="632.18" stroke="#3d3d3d" stroke-width="4.5" stroke-linecap="butt"/>
<line x1="691.8" y1="576.42" x2="696.6" y2="576.42" stroke="#3d3d3d" stroke-width="4.5" stroke-linecap="butt"/>
<line x1="1004.8" y1="576.42" x2="1000" y2="576.42" stroke="#3d3d3d" stroke-width="4.5" stroke-linecap="butt"/>
<line x1="691.8" y1="536.86" x2="696.6" y2="536.86" stroke="#3d3d3d" stroke-width="4.5" stroke-linecap="butt"/>
<line x1="1004.8" y1="536.86" x2="1000" y2="536.86" stroke="#3d3d3d" stroke-width="4.5" stroke-linecap="butt"/>
<line x1="691.8" y1="506.17" x2="696.6" y2="506.17" stroke="#3d3d3d" stroke-width="4.5" stroke-linecap="butt"/>
<line x1="1004.8" y1="506.17" x2="1000" y2="506.17" stroke="#3d3d3d" stroke-width="4.5" stroke-linecap="butt"/>
<line x1="691.8" y1="481.1" x2="696.6" y2="481.1" stroke="#3d3d3d" stroke-width="4.5" stroke-linecap="butt"/>
<line x1="1004.8" y1="481.1" x2="1000" y2="481.1" stroke="#3d3d3d" stroke-width="4.5" stroke-linecap="butt"/>
<line x1="691.8" y1="459.9" x2="696.6" y2="459.9" stroke="#3d3d3d" stroke-width="4.5" stroke-linecap="butt"/>
<line x1="1004.8" y1="459.9" x2="1000" y2="459.9" stroke="#3d3d3d" stroke-width="4.5" stroke-linecap="butt"/>
<line x1="691.8" y1="441.54" x2="696.6" y2="441.54" stroke="#3d3d3d" stroke-width="4.5" stroke-linecap="butt"/>
<line x1="1004.8" y1="441.54" x2="1000" y2="441.54" stroke="#3d3d3d" stroke-width="4.5" stroke-linecap="butt"/>
<line x1="691.8" y1="425.34" x2="696.6" y2="425.34" stroke="#3d3d3d" stroke-width="4.5" stroke-linecap="butt"/>
<line x1="1004.8" y1="425.34" x2="1000" y2="425.34" stroke="#3d3d3d" stroke-width="4.5" stroke-linecap="butt"/>
<rect x="691.8" y="94.2" width="313" height="633.3" fill="none" stroke="#3d3d3d" stroke-width="4.5" stroke-linejoin="miter"/>
<line x1="1183.5" y1="94.3" x2="1183.5" y2="102.8" stroke="#3d3d3d" stroke-width="4.5" stroke-linecap="butt"/>
<line x1="1338.35" y1="94.3" x2="1338.35" y2="99.3" stroke="#3d3d3d" stroke-width="4.5" stroke-linecap="butt"/>
<line x1="1493.2" y1="94.3" x2="1493.2" y2="99.3" stroke="#3d3d3d" stroke-width="4.5" stroke-linecap="butt"/>
<line x1="1214.47" y1="444" x2="1214.47" y2="454" stroke="#3d3d3d" stroke-width="4.5" stroke-linecap="butt"/>
<line x1="1245.44" y1="444" x2="1245.44" y2="454" stroke="#3d3d3d" stroke-width="4.5" stroke-linecap="butt"/>
<line x1="1276.41" y1="444" x2="1276.41" y2="454" stroke="#3d3d3d" stroke-width="4.5" stroke-linecap="butt"/>
<line x1="1307.38" y1="444" x2="1307.38" y2="454" stroke="#3d3d3d" stroke-width="4.5" stroke-linecap="butt"/>
<line x1="1369.32" y1="444" x2="1369.32" y2="454" stroke="#3d3d3d" stroke-width="4.5" stroke-linecap="butt"/>
<line x1="1400.29" y1="444" x2="1400.29" y2="454" stroke="#3d3d3d" stroke-width="4.5" stroke-linecap="butt"/>
<line x1="1431.26" y1="444" x2="1431.26" y2="454" stroke="#3d3d3d" stroke-width="4.5" stroke-linecap="butt"/>
<line x1="1462.23" y1="444" x2="1462.23" y2="454" stroke="#3d3d3d" stroke-width="4.5" stroke-linecap="butt"/>
<line x1="1338.35" y1="440.5" x2="1338.35" y2="457.5" stroke="#3d3d3d" stroke-width="4.5" stroke-linecap="butt"/>
<line x1="1493.2" y1="440.5" x2="1493.2" y2="457.5" stroke="#3d3d3d" stroke-width="4.5" stroke-linecap="butt"/>
<line x1="1183.5" y1="438.5" x2="1183.5" y2="457.5" stroke="#3d3d3d" stroke-width="4.5" stroke-linecap="butt"/>
<line x1="1214.47" y1="804.3" x2="1214.47" y2="799.3" stroke="#3d3d3d" stroke-width="4.5" stroke-linecap="butt"/>
<line x1="1245.44" y1="804.3" x2="1245.44" y2="799.3" stroke="#3d3d3d" stroke-width="4.5" stroke-linecap="butt"/>
<line x1="1276.41" y1="804.3" x2="1276.41" y2="799.3" stroke="#3d3d3d" stroke-width="4.5" stroke-linecap="butt"/>
<line x1="1307.38" y1="804.3" x2="1307.38" y2="799.3" stroke="#3d3d3d" stroke-width="4.5" stroke-linecap="butt"/>
<line x1="1369.32" y1="804.3" x2="1369.32" y2="799.3" stroke="#3d3d3d" stroke-width="4.5" stroke-linecap="butt"/>
<line x1="1400.29" y1="804.3" x2="1400.29" y2="799.3" stroke="#3d3d3d" stroke-width="4.5" stroke-linecap="butt"/>
<line x1="1431.26" y1="804.3" x2="1431.26" y2="799.3" stroke="#3d3d3d" stroke-width="4.5" stroke-linecap="butt"/>
<line x1="1462.23" y1="804.3" x2="1462.23" y2="799.3" stroke="#3d3d3d" stroke-width="4.5" stroke-linecap="butt"/>
<line x1="1183.5" y1="804.3" x2="1183.5" y2="796.3" stroke="#3d3d3d" stroke-width="4.5" stroke-linecap="butt"/>
<line x1="1338.35" y1="804.3" x2="1338.35" y2="796.3" stroke="#3d3d3d" stroke-width="4.5" stroke-linecap="butt"/>
<line x1="1493.2" y1="804.3" x2="1493.2" y2="796.3" stroke="#3d3d3d" stroke-width="4.5" stroke-linecap="butt"/>
<line x1="1174.7" y1="307.12" x2="1182.7" y2="307.12" stroke="#3d3d3d" stroke-width="4.5" stroke-linecap="butt"/>
<line x1="1514.4" y1="307.12" x2="1506.4" y2="307.12" stroke="#3d3d3d" stroke-width="4.5" stroke-linecap="butt"/>
<line x1="1174.7" y1="165.24" x2="1182.7" y2="165.24" stroke="#3d3d3d" stroke-width="4.5" stroke-linecap="butt"/>
<line x1="1514.4" y1="165.24" x2="1506.4" y2="165.24" stroke="#3d3d3d" stroke-width="4.5" stroke-linecap="butt"/>
<line x1="1174.7" y1="626.7" x2="1182.7" y2="626.7" stroke="#3d3d3d" stroke-width="4.5" stroke-linecap="butt"/>
<line x1="1514.4" y1="626.7" x2="1506.4" y2="626.7" stroke="#3d3d3d" stroke-width="4.5" stroke-linecap="butt"/>
<rect x="1174.7" y="94.3" width="339.7" height="354.7" fill="none" stroke="#3d3d3d" stroke-width="4.5" stroke-linejoin="miter"/>
<rect x="1174.7" y="449" width="339.7" height="355.3" fill="none" stroke="#3d3d3d" stroke-width="4.5" stroke-linejoin="miter"/>
<line x1="1691.4" y1="94.8" x2="1691.4" y2="103.8" stroke="#3d3d3d" stroke-width="4.5" stroke-linecap="butt"/>
<line x1="1691.4" y1="804.6" x2="1691.4" y2="795.6" stroke="#3d3d3d" stroke-width="4.5" stroke-linecap="butt"/>
<line x1="1787.2" y1="94.8" x2="1787.2" y2="103.8" stroke="#3d3d3d" stroke-width="4.5" stroke-linecap="butt"/>
<line x1="1787.2" y1="804.6" x2="1787.2" y2="795.6" stroke="#3d3d3d" stroke-width="4.5" stroke-linecap="butt"/>
<line x1="1883" y1="94.8" x2="1883" y2="103.8" stroke="#3d3d3d" stroke-width="4.5" stroke-linecap="butt"/>
<line x1="1883" y1="804.6" x2="1883" y2="795.6" stroke="#3d3d3d" stroke-width="4.5" stroke-linecap="butt"/>
<line x1="1641.31" y1="94.8" x2="1641.31" y2="100.3" stroke="#3d3d3d" stroke-width="4.5" stroke-linecap="butt"/>
<line x1="1641.31" y1="804.6" x2="1641.31" y2="799.1" stroke="#3d3d3d" stroke-width="4.5" stroke-linecap="butt"/>
<line x1="1643.5" y1="94.8" x2="1643.5" y2="100.3" stroke="#3d3d3d" stroke-width="4.5" stroke-linecap="butt"/>
<line x1="1643.5" y1="804.6" x2="1643.5" y2="799.1" stroke="#3d3d3d" stroke-width="4.5" stroke-linecap="butt"/>
<line x1="1657.92" y1="94.8" x2="1657.92" y2="100.3" stroke="#3d3d3d" stroke-width="4.5" stroke-linecap="butt"/>
<line x1="1657.92" y1="804.6" x2="1657.92" y2="799.1" stroke="#3d3d3d" stroke-width="4.5" stroke-linecap="butt"/>
<line x1="1666.35" y1="94.8" x2="1666.35" y2="100.3" stroke="#3d3d3d" stroke-width="4.5" stroke-linecap="butt"/>
<line x1="1666.35" y1="804.6" x2="1666.35" y2="799.1" stroke="#3d3d3d" stroke-width="4.5" stroke-linecap="butt"/>
<line x1="1672.34" y1="94.8" x2="1672.34" y2="100.3" stroke="#3d3d3d" stroke-width="4.5" stroke-linecap="butt"/>
<line x1="1672.34" y1="804.6" x2="1672.34" y2="799.1" stroke="#3d3d3d" stroke-width="4.5" stroke-linecap="butt"/>
<line x1="1676.98" y1="94.8" x2="1676.98" y2="100.3" stroke="#3d3d3d" stroke-width="4.5" stroke-linecap="butt"/>
<line x1="1676.98" y1="804.6" x2="1676.98" y2="799.1" stroke="#3d3d3d" stroke-width="4.5" stroke-linecap="butt"/>
<line x1="1680.77" y1="94.8" x2="1680.77" y2="100.3" stroke="#3d3d3d" stroke-width="4.5" stroke-linecap="butt"/>
<line x1="1680.77" y1="804.6" x2="1680.77" y2="799.1" stroke="#3d3d3d" stroke-width="4.5" stroke-linecap="butt"/>
<line x1="1683.98" y1="94.8" x2="1683.98" y2="100.3" stroke="#3d3d3d" stroke-width="4.5" stroke-linecap="butt"/>
<line x1="1683.98" y1="804.6" x2="1683.98" y2="799.1" stroke="#3d3d3d" stroke-width="4.5" stroke-linecap="butt"/>
<line x1="1686.76" y1="94.8" x2="1686.76" y2="100.3" stroke="#3d3d3d" stroke-width="4.5" stroke-linecap="butt"/>
<line x1="1686.76" y1="804.6" x2="1686.76" y2="799.1" stroke="#3d3d3d" stroke-width="4.5" stroke-linecap="butt"/>
<line x1="1689.21" y1="94.8" x2="1689.21" y2="100.3" stroke="#3d3d3d" stroke-width="4.5" stroke-linecap="butt"/>
<line x1="1689.21" y1="804.6" x2="1689.21" y2="799.1" stroke="#3d3d3d" stroke-width="4.5" stroke-linecap="butt"/>
<line x1="1705.82" y1="94.8" x2="1705.82" y2="100.3" stroke="#3d3d3d" stroke-width="4.5" stroke-linecap="butt"/>
<line x1="1705.82" y1="804.6" x2="1705.82" y2="799.1" stroke="#3d3d3d" stroke-width="4.5" stroke-linecap="butt"/>
<line x1="1714.25" y1="94.8" x2="1714.25" y2="100.3" stroke="#3d3d3d" stroke-width="4.5" stroke-linecap="butt"/>
<line x1="1714.25" y1="804.6" x2="1714.25" y2="799.1" stroke="#3d3d3d" stroke-width="4.5" stroke-linecap="butt"/>
<line x1="1720.24" y1="94.8" x2="1720.24" y2="100.3" stroke="#3d3d3d" stroke-width="4.5" stroke-linecap="butt"/>
<line x1="1720.24" y1="804.6" x2="1720.24" y2="799.1" stroke="#3d3d3d" stroke-width="4.5" stroke-linecap="butt"/>
<line x1="1724.88" y1="94.8" x2="1724.88" y2="100.3" stroke="#3d3d3d" stroke-width="4.5" stroke-linecap="butt"/>
<line x1="1724.88" y1="804.6" x2="1724.88" y2="799.1" stroke="#3d3d3d" stroke-width="4.5" stroke-linecap="butt"/>
<line x1="1728.67" y1="94.8" x2="1728.67" y2="100.3" stroke="#3d3d3d" stroke-width="4.5" stroke-linecap="butt"/>
<line x1="1728.67" y1="804.6" x2="1728.67" y2="799.1" stroke="#3d3d3d" stroke-width="4.5" stroke-linecap="butt"/>
<line x1="1731.88" y1="94.8" x2="1731.88" y2="100.3" stroke="#3d3d3d" stroke-width="4.5" stroke-linecap="butt"/>
<line x1="1731.88" y1="804.6" x2="1731.88" y2="799.1" stroke="#3d3d3d" stroke-width="4.5" stroke-linecap="butt"/>
<line x1="1734.66" y1="94.8" x2="1734.66" y2="100.3" stroke="#3d3d3d" stroke-width="4.5" stroke-linecap="butt"/>
<line x1="1734.66" y1="804.6" x2="1734.66" y2="799.1" stroke="#3d3d3d" stroke-width="4.5" stroke-linecap="butt"/>
<line x1="1737.11" y1="94.8" x2="1737.11" y2="100.3" stroke="#3d3d3d" stroke-width="4.5" stroke-linecap="butt"/>
<line x1="1737.11" y1="804.6" x2="1737.11" y2="799.1" stroke="#3d3d3d" stroke-width="4.5" stroke-linecap="butt"/>
<line x1="1739.3" y1="94.8" x2="1739.3" y2="100.3" stroke="#3d3d3d" stroke-width="4.5" stroke-linecap="butt"/>
<line x1="1739.3" y1="804.6" x2="1739.3" y2="799.1" stroke="#3d3d3d" stroke-width="4.5" stroke-linecap="butt"/>
<line x1="1753.72" y1="94.8" x2="1753.72" y2="100.3" stroke="#3d3d3d" stroke-width="4.5" stroke-linecap="butt"/>
<line x1="1753.72" y1="804.6" x2="1753.72" y2="799.1" stroke="#3d3d3d" stroke-width="4.5" stroke-linecap="butt"/>
<line x1="1762.15" y1="94.8" x2="1762.15" y2="100.3" stroke="#3d3d3d" stroke-width="4.5" stroke-linecap="butt"/>
<line x1="1762.15" y1="804.6" x2="1762.15" y2="799.1" stroke="#3d3d3d" stroke-width="4.5" stroke-linecap="butt"/>
<line x1="1768.14" y1="94.8" x2="1768.14" y2="100.3" stroke="#3d3d3d" stroke-width="4.5" stroke-linecap="butt"/>
<line x1="1768.14" y1="804.6" x2="1768.14" y2="799.1" stroke="#3d3d3d" stroke-width="4.5" stroke-linecap="butt"/>
<line x1="1772.78" y1="94.8" x2="1772.78" y2="100.3" stroke="#3d3d3d" stroke-width="4.5" stroke-linecap="butt"/>
<line x1="1772.78" y1="804.6" x2="1772.78" y2="799.1" stroke="#3d3d3d" stroke-width="4.5" stroke-linecap="butt"/>
<line x1="1776.57" y1="94.8" x2="1776.57" y2="100.3" stroke="#3d3d3d" stroke-width="4.5" stroke-linecap="butt"/>
<line x1="1776.57" y1="804.6" x2="1776.57" y2="799.1" stroke="#3d3d3d" stroke-width="4.5" stroke-linecap="butt"/>
<line x1="1779.78" y1="94.8" x2="1779.78" y2="100.3" stroke="#3d3d3d" stroke-width="4.5" stroke-linecap="butt"/>
<line x1="1779.78" y1="804.6" x2="1779.78" y2="799.1" stroke="#3d3d3d" stroke-width="4.5" stroke-linecap="butt"/>
<line x1="1782.56" y1="94.8" x2="1782.56" y2="100.3" stroke="#3d3d3d" stroke-width="4.5" stroke-linecap="butt"/>
<line x1="1782.56" y1="804.6" x2="1782.56" y2="799.1" stroke="#3d3d3d" stroke-width="4.5" stroke-linecap="butt"/>
<line x1="1785.01" y1="94.8" x2="1785.01" y2="100.3" stroke="#3d3d3d" stroke-width="4.5" stroke-linecap="butt"/>
<line x1="1785.01" y1="804.6" x2="1785.01" y2="799.1" stroke="#3d3d3d" stroke-width="4.5" stroke-linecap="butt"/>
<line x1="1801.62" y1="94.8" x2="1801.62" y2="100.3" stroke="#3d3d3d" stroke-width="4.5" stroke-linecap="butt"/>
<line x1="1801.62" y1="804.6" x2="1801.62" y2="799.1" stroke="#3d3d3d" stroke-width="4.5" stroke-linecap="butt"/>
<line x1="1810.05" y1="94.8" x2="1810.05" y2="100.3" stroke="#3d3d3d" stroke-width="4.5" stroke-linecap="butt"/>
<line x1="1810.05" y1="804.6" x2="1810.05" y2="799.1" stroke="#3d3d3d" stroke-width="4.5" stroke-linecap="butt"/>
<line x1="1816.04" y1="94.8" x2="1816.04" y2="100.3" stroke="#3d3d3d" stroke-width="4.5" stroke-linecap="butt"/>
<line x1="1816.04" y1="804.6" x2="1816.04" y2="799.1" stroke="#3d3d3d" stroke-width="4.5" stroke-linecap="butt"/>
<line x1="1820.68" y1="94.8" x2="1820.68" y2="100.3" stroke="#3d3d3d" stroke-width="4.5" stroke-linecap="butt"/>
<line x1="1820.68" y1="804.6" x2="1820.68" y2="799.1" stroke="#3d3d3d" stroke-width="4.5" stroke-linecap="butt"/>
<line x1="1824.47" y1="94.8" x2="1824.47" y2="100.3" stroke="#3d3d3d" stroke-width="4.5" stroke-linecap="butt"/>
<line x1="1824.47" y1="804.6" x2="1824.47" y2="799.1" stroke="#3d3d3d" stroke-width="4.5" stroke-linecap="butt"/>
<line x1="1827.68" y1="94.8" x2="1827.68" y2="100.3" stroke="#3d3d3d" stroke-width="4.5" stroke-linecap="butt"/>
<line x1="1827.68" y1="804.6" x2="1827.68" y2="799.1" stroke="#3d3d3d" stroke-width="4.5" stroke-linecap="butt"/>
<line x1="1830.46" y1="94.8" x2="1830.46" y2="100.3" stroke="#3d3d3d" stroke-width="4.5" stroke-linecap="butt"/>
<line x1="1830.46" y1="804.6" x2="1830.46" y2="799.1" stroke="#3d3d3d" stroke-width="4.5" stroke-linecap="butt"/>
<line x1="1832.91" y1="94.8" x2="1832.91" y2="100.3" stroke="#3d3d3d" stroke-width="4.5" stroke-linecap="butt"/>
<line x1="1832.91" y1="804.6" x2="1832.91" y2="799.1" stroke="#3d3d3d" stroke-width="4.5" stroke-linecap="butt"/>
<line x1="1835.1" y1="94.8" x2="1835.1" y2="100.3" stroke="#3d3d3d" stroke-width="4.5" stroke-linecap="butt"/>
<line x1="1835.1" y1="804.6" x2="1835.1" y2="799.1" stroke="#3d3d3d" stroke-width="4.5" stroke-linecap="butt"/>
<line x1="1849.52" y1="94.8" x2="1849.52" y2="100.3" stroke="#3d3d3d" stroke-width="4.5" stroke-linecap="butt"/>
<line x1="1849.52" y1="804.6" x2="1849.52" y2="799.1" stroke="#3d3d3d" stroke-width="4.5" stroke-linecap="butt"/>
<line x1="1857.95" y1="94.8" x2="1857.95" y2="100.3" stroke="#3d3d3d" stroke-width="4.5" stroke-linecap="butt"/>
<line x1="1857.95" y1="804.6" x2="1857.95" y2="799.1" stroke="#3d3d3d" stroke-width="4.5" stroke-linecap="butt"/>
<line x1="1863.94" y1="94.8" x2="1863.94" y2="100.3" stroke="#3d3d3d" stroke-width="4.5" stroke-linecap="butt"/>
<line x1="1863.94" y1="804.6" x2="1863.94" y2="799.1" stroke="#3d3d3d" stroke-width="4.5" stroke-linecap="butt"/>
<line x1="1868.58" y1="94.8" x2="1868.58" y2="100.3" stroke="#3d3d3d" stroke-width="4.5" stroke-linecap="butt"/>
<line x1="1868.58" y1="804.6" x2="1868.58" y2="799.1" stroke="#3d3d3d" stroke-width="4.5" stroke-linecap="butt"/>
<line x1="1872.37" y1="94.8" x2="1872.37" y2="100.3" stroke="#3d3d3d" stroke-width="4.5" stroke-linecap="butt"/>
<line x1="1872.37" y1="804.6" x2="1872.37" y2="799.1" stroke="#3d3d3d" stroke-width="4.5" stroke-linecap="butt"/>
<line x1="1875.58" y1="94.8" x2="1875.58" y2="100.3" stroke="#3d3d3d" stroke-width="4.5" stroke-linecap="butt"/>
<line x1="1875.58" y1="804.6" x2="1875.58" y2="799.1" stroke="#3d3d3d" stroke-width="4.5" stroke-linecap="butt"/>
<line x1="1878.36" y1="94.8" x2="1878.36" y2="100.3" stroke="#3d3d3d" stroke-width="4.5" stroke-linecap="butt"/>
<line x1="1878.36" y1="804.6" x2="1878.36" y2="799.1" stroke="#3d3d3d" stroke-width="4.5" stroke-linecap="butt"/>
<line x1="1880.81" y1="94.8" x2="1880.81" y2="100.3" stroke="#3d3d3d" stroke-width="4.5" stroke-linecap="butt"/>
<line x1="1880.81" y1="804.6" x2="1880.81" y2="799.1" stroke="#3d3d3d" stroke-width="4.5" stroke-linecap="butt"/>
<line x1="1897.42" y1="94.8" x2="1897.42" y2="100.3" stroke="#3d3d3d" stroke-width="4.5" stroke-linecap="butt"/>
<line x1="1897.42" y1="804.6" x2="1897.42" y2="799.1" stroke="#3d3d3d" stroke-width="4.5" stroke-linecap="butt"/>
<line x1="1905.85" y1="94.8" x2="1905.85" y2="100.3" stroke="#3d3d3d" stroke-width="4.5" stroke-linecap="butt"/>
<line x1="1905.85" y1="804.6" x2="1905.85" y2="799.1" stroke="#3d3d3d" stroke-width="4.5" stroke-linecap="butt"/>
<line x1="1911.84" y1="94.8" x2="1911.84" y2="100.3" stroke="#3d3d3d" stroke-width="4.5" stroke-linecap="butt"/>
<line x1="1911.84" y1="804.6" x2="1911.84" y2="799.1" stroke="#3d3d3d" stroke-width="4.5" stroke-linecap="butt"/>
<line x1="1916.48" y1="94.8" x2="1916.48" y2="100.3" stroke="#3d3d3d" stroke-width="4.5" stroke-linecap="butt"/>
<line x1="1916.48" y1="804.6" x2="1916.48" y2="799.1" stroke="#3d3d3d" stroke-width="4.5" stroke-linecap="butt"/>
<line x1="1920.27" y1="94.8" x2="1920.27" y2="100.3" stroke="#3d3d3d" stroke-width="4.5" stroke-linecap="butt"/>
<line x1="1920.27" y1="804.6" x2="1920.27" y2="799.1" stroke="#3d3d3d" stroke-width="4.5" stroke-linecap="butt"/>
<line x1="1923.48" y1="94.8" x2="1923.48" y2="100.3" stroke="#3d3d3d" stroke-width="4.5" stroke-linecap="butt"/>
<line x1="1923.48" y1="804.6" x2="1923.48" y2="799.1" stroke="#3d3d3d" stroke-width="4.5" stroke-linecap="butt"/>
<line x1="1926.26" y1="94.8" x2="1926.26" y2="100.3" stroke="#3d3d3d" stroke-width="4.5" stroke-linecap="butt"/>
<line x1="1926.26" y1="804.6" x2="1926.26" y2="799.1" stroke="#3d3d3d" stroke-width="4.5" stroke-linecap="butt"/>
<line x1="1928.71" y1="94.8" x2="1928.71" y2="100.3" stroke="#3d3d3d" stroke-width="4.5" stroke-linecap="butt"/>
<line x1="1928.71" y1="804.6" x2="1928.71" y2="799.1" stroke="#3d3d3d" stroke-width="4.5" stroke-linecap="butt"/>
<line x1="1930.9" y1="94.8" x2="1930.9" y2="100.3" stroke="#3d3d3d" stroke-width="4.5" stroke-linecap="butt"/>
<line x1="1930.9" y1="804.6" x2="1930.9" y2="799.1" stroke="#3d3d3d" stroke-width="4.5" stroke-linecap="butt"/>
<line x1="1945.32" y1="94.8" x2="1945.32" y2="100.3" stroke="#3d3d3d" stroke-width="4.5" stroke-linecap="butt"/>
<line x1="1945.32" y1="804.6" x2="1945.32" y2="799.1" stroke="#3d3d3d" stroke-width="4.5" stroke-linecap="butt"/>
<line x1="1953.75" y1="94.8" x2="1953.75" y2="100.3" stroke="#3d3d3d" stroke-width="4.5" stroke-linecap="butt"/>
<line x1="1953.75" y1="804.6" x2="1953.75" y2="799.1" stroke="#3d3d3d" stroke-width="4.5" stroke-linecap="butt"/>
<line x1="1959.74" y1="94.8" x2="1959.74" y2="100.3" stroke="#3d3d3d" stroke-width="4.5" stroke-linecap="butt"/>
<line x1="1959.74" y1="804.6" x2="1959.74" y2="799.1" stroke="#3d3d3d" stroke-width="4.5" stroke-linecap="butt"/>
<line x1="1964.38" y1="94.8" x2="1964.38" y2="100.3" stroke="#3d3d3d" stroke-width="4.5" stroke-linecap="butt"/>
<line x1="1964.38" y1="804.6" x2="1964.38" y2="799.1" stroke="#3d3d3d" stroke-width="4.5" stroke-linecap="butt"/>
<line x1="1968.17" y1="94.8" x2="1968.17" y2="100.3" stroke="#3d3d3d" stroke-width="4.5" stroke-linecap="butt"/>
<line x1="1968.17" y1="804.6" x2="1968.17" y2="799.1" stroke="#3d3d3d" stroke-width="4.5" stroke-linecap="butt"/>
<line x1="1971.38" y1="94.8" x2="1971.38" y2="100.3" stroke="#3d3d3d" stroke-width="4.5" stroke-linecap="butt"/>
<line x1="1971.38" y1="804.6" x2="1971.38" y2="799.1" stroke="#3d3d3d" stroke-width="4.5" stroke-linecap="butt"/>
<line x1="1974.16" y1="94.8" x2="1974.16" y2="100.3" stroke="#3d3d3d" stroke-width="4.5" stroke-linecap="butt"/>
<line x1="1974.16" y1="804.6" x2="1974.16" y2="799.1" stroke="#3d3d3d" stroke-width="4.5" stroke-linecap="butt"/>
<line x1="1638.2" y1="627.4" x2="1646.2" y2="627.4" stroke="#3d3d3d" stroke-width="4.5" stroke-linecap="butt"/>
<line x1="1978.6" y1="627.4" x2="1970.6" y2="627.4" stroke="#3d3d3d" stroke-width="4.5" stroke-linecap="butt"/>
<line x1="1638.2" y1="449.8" x2="1646.2" y2="449.8" stroke="#3d3d3d" stroke-width="4.5" stroke-linecap="butt"/>
<line x1="1978.6" y1="449.8" x2="1970.6" y2="449.8" stroke="#3d3d3d" stroke-width="4.5" stroke-linecap="butt"/>
<line x1="1638.2" y1="272.2" x2="1646.2" y2="272.2" stroke="#3d3d3d" stroke-width="4.5" stroke-linecap="butt"/>
<line x1="1978.6" y1="272.2" x2="1970.6" y2="272.2" stroke="#3d3d3d" stroke-width="4.5" stroke-linecap="butt"/>
<rect x="1638.2" y="94.8" width="340.4" height="709.8" fill="none" stroke="#3d3d3d" stroke-width="4.5" stroke-linejoin="miter"/>
<rect x="613.3" y="787.3" width="392.7" height="202.3" fill="none" stroke="#3d3d3d" stroke-width="4.5" stroke-linejoin="miter"/>
<text x="-2" y="32.2" font-size="43.6" font-weight="bold">(a)</text>
<text x="504.1" y="32.2" font-size="43.6" font-weight="bold">(b)</text>
<text x="1049.5" y="33.7" font-size="43.6" font-weight="bold">(c)</text>
<text x="1049" y="459.8" font-size="43.6" font-weight="bold">(d)</text>
<text x="1526.5" y="33.7" font-size="43.6" font-weight="bold">(e)</text>
<text x="113.52" y="108.6" font-size="34.7">0.5</text>
<text x="142.36" y="194.8" font-size="34.7">0</text>
<text x="96.26" y="281" font-size="34.7">-0.5</text>
<text x="122.84" y="367.2" font-size="34.7">-1</text>
<text x="96.26" y="453.4" font-size="34.7">-1.5</text>
<text x="125.49" y="539.6" font-size="34.7">-2</text>
<text x="96.26" y="625.8" font-size="34.7">-2.5</text>
<text x="125.27" y="712" font-size="34.7">-3</text>
<text x="96.26" y="798.2" font-size="34.7">-3.5</text>
<text x="124.76" y="884.4" font-size="34.7">-4</text>
<text x="163.55" y="918.6" font-size="34.7">0</text>
<text x="298.01" y="918.6" font-size="34.7">100</text>
<text x="453.66" y="918.6" font-size="34.7">200</text>
<text x="189.52" y="970.3" font-size="34.6">Temperature [mK]</text>
<text x="174.09" y="86.1" font-size="36.8" font-family="'DejaVu Sans', sans-serif" font-weight="200">×</text>
<text x="204.9" y="84.8" font-size="35.5">10</text>
<text x="247.47" y="67.6" font-size="30">-5</text>
<text x="0" y="0" font-size="46" transform="translate(63.3 571.27) rotate(-90)">Δ</text>
<text x="0" y="0" font-size="40.4" font-family="'Liberation Serif', serif" font-style="italic" transform="translate(63.4 521.64) rotate(-90)">ω</text>
<text x="0" y="0" font-size="32.5" transform="translate(84.1 489.76) rotate(-90)">r</text>
<text x="0" y="0" font-size="44" transform="translate(63.3 465.8) rotate(-90)">/</text>
<text x="0" y="0" font-size="40.4" font-family="'Liberation Serif', serif" font-style="italic" transform="translate(63.4 439.34) rotate(-90)">ω</text>
<text x="0" y="0" font-size="32.5" transform="translate(84.1 407.46) rotate(-90)">r</text>
<text x="610.24" y="114.6" font-size="36.2">10</text>
<text x="652.48" y="97.5" font-size="29.8">-4</text>
<text x="610.24" y="434.4" font-size="36.2">10</text>
<text x="652.48" y="417.3" font-size="29.8">-5</text>
<text x="610.24" y="741" font-size="36.2">10</text>
<text x="652.48" y="723.9" font-size="29.8">-6</text>
<text x="705.64" y="767.3" font-size="34.4">Surface Treatment</text>
<text x="0" y="0" font-size="45" transform="translate(580.1 451.89) rotate(-90)">F</text>
<text x="0" y="0" font-size="44.7" font-family="'Liberation Serif', serif" font-style="italic" transform="translate(580.5 412.01) rotate(-90)">δ</text>
<text x="0" y="0" font-size="26.5" transform="translate(558.6 390.64) rotate(-90)">0</text>
<text x="0" y="0" font-size="26.5" transform="translate(592.6 387.9) rotate(-90)">TLS</text>
<text x="1145.26" y="447.4" font-size="34.7">0</text>
<text x="1145.6" y="392.66" font-size="34.7">1</text>
<text x="1145.65" y="321.72" font-size="34.7">2</text>
<text x="1145.43" y="250.78" font-size="34.7">3</text>
<text x="1144.92" y="179.84" font-size="34.7">4</text>
<text x="1145.36" y="108.9" font-size="34.7">5</text>
<text x="1176.24" y="88.9" font-size="34.6" font-family="'DejaVu Sans', sans-serif" font-weight="200">×</text>
<text x="1208.53" y="87.6" font-size="35">10</text>
<text x="1244.85" y="70.6" font-size="28.4">4</text>
<text x="0" y="0" font-size="42" transform="translate(1103.8 300.69) rotate(-90)">Q</text>
<text x="0" y="0" font-size="32.5" transform="translate(1124.7 268.28) rotate(-90)">e</text>
<text x="1145.26" y="818.8" font-size="34.7">0</text>
<text x="1116.42" y="730" font-size="34.7">0.5</text>
<text x="1145.6" y="641.2" font-size="34.7">1</text>
<text x="1116.42" y="552.4" font-size="34.7">1.5</text>
<text x="1145.65" y="479.4" font-size="34.7">2</text>
<text x="1176.24" y="441.4" font-size="34.6" font-family="'DejaVu Sans', sans-serif" font-weight="200">×</text>
<text x="1205.23" y="439.3" font-size="35">10</text>
<text x="1244.85" y="422.9" font-size="28.4">4</text>
<text x="0" y="0" font-size="42" transform="translate(1103.8 647.49) rotate(-90)">Q</text>
<text x="0" y="0" font-size="32" transform="translate(1124 615.24) rotate(-90)">i</text>
<text x="1156.62" y="857.2" font-size="35.2">10</text>
<text x="1198.11" y="841.3" font-size="28">0</text>
<text x="1309.02" y="857.2" font-size="35.2">10</text>
<text x="1349.28" y="841.3" font-size="28">5</text>
<text x="1457.82" y="857.2" font-size="35.2">10</text>
<text x="1498.27" y="841.3" font-size="28">10</text>
<text x="1276.17" y="905.6" font-size="42.6">n</text>
<text x="1300.41" y="926" font-size="32.5">phonon</text>
<text x="1580.07" y="819.4" font-size="34.7">1.8</text>
<text x="1580.21" y="730.6" font-size="34.7">1.9</text>
<text x="1609.25" y="641.8" font-size="34.7">2</text>
<text x="1580.26" y="553" font-size="34.7">2.1</text>
<text x="1580.31" y="464.2" font-size="34.7">2.2</text>
<text x="1580.09" y="375.4" font-size="34.7">2.3</text>
<text x="1579.58" y="286.6" font-size="34.7">2.4</text>
<text x="1580.02" y="197.8" font-size="34.7">2.5</text>
<text x="1580.09" y="109" font-size="34.7">2.6</text>
<text x="1639.64" y="88.9" font-size="34.6" font-family="'DejaVu Sans', sans-serif" font-weight="200">×</text>
<text x="1668.53" y="86.8" font-size="35">10</text>
<text x="1708.01" y="70.7" font-size="28.6">3</text>
<text x="0" y="0" font-size="42" transform="translate(1561 470.09) rotate(-90)">Q</text>
<text x="0" y="0" font-size="32" transform="translate(1579.9 438.04) rotate(-90)">i</text>
<text x="1660.18" y="857" font-size="34.4">10</text>
<text x="1702.14" y="840" font-size="28.8">4</text>
<text x="1756.18" y="857" font-size="34.4">10</text>
<text x="1797.04" y="840" font-size="28.8">6</text>
<text x="1851.78" y="857" font-size="34.4">10</text>
<text x="1893.15" y="840" font-size="28.8">8</text>
<text x="1740.07" y="905.6" font-size="42.6">n</text>
<text x="1764.61" y="926" font-size="32.5">phonon</text>
<text x="723.02" y="822.5" font-size="33">CLN</text>
<text x="680.32" y="852" font-size="33">CLN + Anneal</text>
<text x="680.68" y="882.2" font-size="33">5% MgO LN</text>
<text x="680.32" y="912.8" font-size="33">CLN + Anneal + BOE</text>
<text x="680.32" y="944.5" font-size="33">CLN+ Piranha</text>
<text x="680.32" y="975.8" font-size="33">CLN + Al + GCIB</text>
</svg></body></html>
